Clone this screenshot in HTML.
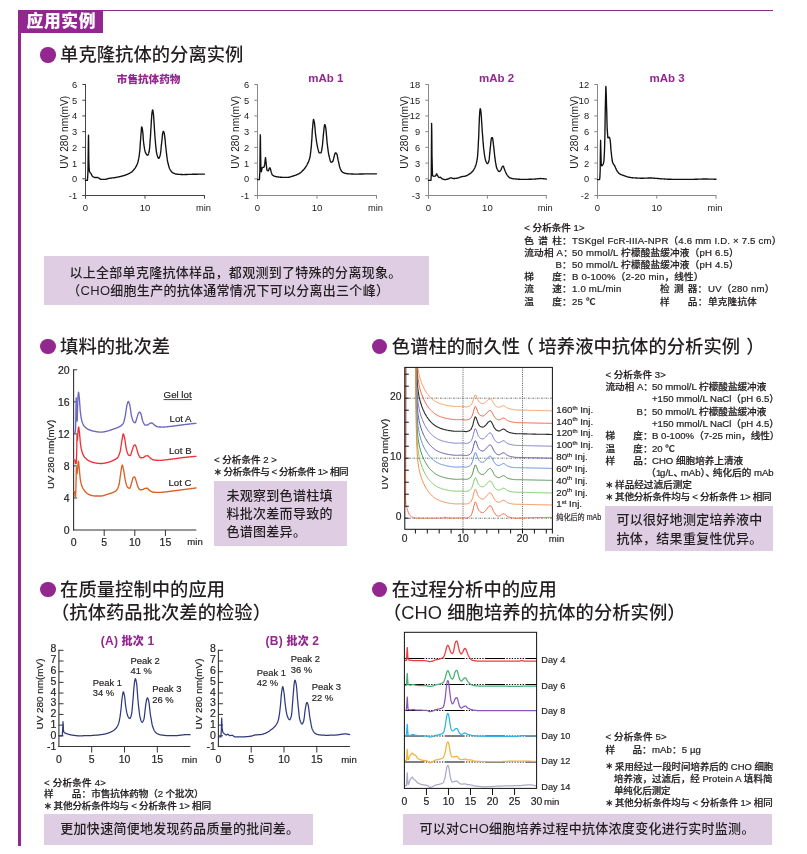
<!DOCTYPE html>
<html lang="zh-CN">
<head>
<meta charset="utf-8">
<title>应用实例</title>
<style>
html,body{margin:0;padding:0;background:#fff;}
body{width:807px;height:854px;position:relative;overflow:hidden;font-family:"Liberation Sans", "Noto Sans CJK SC", sans-serif;color:#231f20;}
.t{position:absolute;white-space:nowrap;margin:0;padding:0;}
.b{position:absolute;}
svg{position:absolute;left:0;top:0;}
svg text{font-family:"Liberation Sans", "Noto Sans CJK SC", sans-serif;}
.j{display:inline-block;}
.h{font-feature-settings:"halt" 1;}
.as{display:inline-block;width:1.25em;font-size:0.8em;letter-spacing:0;text-align:left;position:relative;top:-0.3px;-webkit-text-stroke:0.45px currentColor;}
sup{font-size:62%;vertical-align:baseline;position:relative;top:-0.42em;line-height:0;}
</style>
</head>
<body>
<div class="b" style="left:18.00px;top:10.00px;width:3.00px;height:835.70px;background:#92278f"></div>
<div class="b" style="left:18.00px;top:10.00px;width:755.00px;height:1.20px;background:#92278f"></div>
<div class="b" style="left:18.00px;top:10.00px;width:85.00px;height:23.00px;background:#92278f"></div>
<div class="b" style="left:44.00px;top:256.00px;width:385.00px;height:48.60px;background:#dfcde4"></div>
<div class="b" style="left:214.00px;top:481.00px;width:132.50px;height:64.50px;background:#dfcde4"></div>
<div class="b" style="left:605.00px;top:506.20px;width:168.00px;height:44.60px;background:#dfcde4"></div>
<div class="b" style="left:44.00px;top:814.00px;width:269.30px;height:31.00px;background:#dfcde4"></div>
<div class="b" style="left:403.20px;top:814.00px;width:369.00px;height:31.00px;background:#dfcde4"></div>
<svg width="807" height="854" viewBox="0 0 807 854">
<line x1="85.50" y1="84.20" x2="85.50" y2="196.00" stroke="#444" stroke-width="1.0"/>
<line x1="85.00" y1="195.50" x2="204.90" y2="195.50" stroke="#444" stroke-width="1.0"/>
<line x1="82.30" y1="84.50" x2="85.50" y2="84.50" stroke="#444" stroke-width="1.0"/>
<text x="77.10" y="88.03" text-anchor="end" font-size="9.3" fill="#1a1a1a">6</text>
<line x1="82.30" y1="100.22" x2="85.50" y2="100.22" stroke="#444" stroke-width="1.0"/>
<text x="77.10" y="103.75" text-anchor="end" font-size="9.3" fill="#1a1a1a">5</text>
<line x1="82.30" y1="115.93" x2="85.50" y2="115.93" stroke="#444" stroke-width="1.0"/>
<text x="77.10" y="119.46" text-anchor="end" font-size="9.3" fill="#1a1a1a">4</text>
<line x1="82.30" y1="131.65" x2="85.50" y2="131.65" stroke="#444" stroke-width="1.0"/>
<text x="77.10" y="135.18" text-anchor="end" font-size="9.3" fill="#1a1a1a">3</text>
<line x1="82.30" y1="147.37" x2="85.50" y2="147.37" stroke="#444" stroke-width="1.0"/>
<text x="77.10" y="150.90" text-anchor="end" font-size="9.3" fill="#1a1a1a">2</text>
<line x1="82.30" y1="163.08" x2="85.50" y2="163.08" stroke="#444" stroke-width="1.0"/>
<text x="77.10" y="166.61" text-anchor="end" font-size="9.3" fill="#1a1a1a">1</text>
<line x1="82.30" y1="178.80" x2="85.50" y2="178.80" stroke="#444" stroke-width="1.0"/>
<text x="77.10" y="182.33" text-anchor="end" font-size="9.3" fill="#1a1a1a">0</text>
<line x1="82.30" y1="195.50" x2="85.50" y2="195.50" stroke="#444" stroke-width="1.0"/>
<text x="77.10" y="199.03" text-anchor="end" font-size="9.3" fill="#1a1a1a">-1</text>
<line x1="85.50" y1="195.50" x2="85.50" y2="198.70" stroke="#444" stroke-width="1.0"/>
<line x1="145.00" y1="195.50" x2="145.00" y2="198.70" stroke="#444" stroke-width="1.0"/>
<line x1="204.50" y1="195.50" x2="204.50" y2="198.70" stroke="#444" stroke-width="1.0"/>
<text x="85.50" y="211.40" text-anchor="middle" font-size="9.5" fill="#1a1a1a">0</text>
<text x="145.00" y="211.40" text-anchor="middle" font-size="9.5" fill="#1a1a1a">10</text>
<text x="203.50" y="211.33" text-anchor="middle" font-size="9.3" fill="#1a1a1a">min</text>
<text x="0" y="3.65" transform="translate(64.10 132.30) rotate(-90)" text-anchor="middle" font-size="10.2" fill="#1a1a1a">UV 280 nm(mV)</text>
<text x="148.60" y="83.19" text-anchor="middle" font-weight="900" font-size="10.6" fill="#92278f">市售抗体药物</text>
<path d="M85.5 180.4 L85.7 180.4 L86.0 180.4 L86.2 180.4 L86.5 180.4 L86.7 180.4 L86.9 180.4 L87.2 180.4 L87.4 180.4 L87.4 180.4 L87.6 178.1 L87.9 172.7 L88.0 169.4 L88.1 161.5 L88.4 139.4 L88.5 135.1 L88.6 139.7 L88.8 159.2 L89.0 164.7 L89.1 167.0 L89.3 170.3 L89.5 171.7 L89.6 171.7 L89.8 172.2 L90.0 172.5 L90.3 172.7 L90.5 172.9 L90.7 173.2 L90.9 173.3 L91.0 173.5 L91.2 173.9 L91.5 174.4 L91.7 174.9 L91.9 175.4 L92.2 175.9 L92.4 176.2 L92.6 176.4 L92.7 176.5 L92.9 176.6 L93.1 176.8 L93.4 177.0 L93.6 177.1 L93.8 177.2 L94.1 177.3 L94.3 177.4 L94.6 177.5 L94.8 177.5 L95.0 177.5 L95.0 177.5 L95.3 177.5 L95.5 177.5 L95.8 177.5 L96.0 177.5 L96.2 177.5 L96.5 177.5 L96.7 177.5 L96.9 177.5 L97.2 177.5 L97.4 177.5 L97.4 177.5 L97.7 177.6 L97.9 177.6 L98.1 177.7 L98.4 177.8 L98.6 178.0 L98.9 178.1 L99.1 178.3 L99.3 178.5 L99.6 178.6 L99.8 178.8 L100.0 178.9 L100.3 179.1 L100.5 179.2 L100.8 179.2 L101.0 179.3 L101.0 179.3 L101.2 179.3 L101.5 179.3 L101.7 179.3 L102.0 179.3 L102.2 179.4 L102.4 179.4 L102.7 179.4 L102.9 179.4 L103.1 179.4 L103.4 179.4 L103.6 179.4 L103.9 179.4 L104.1 179.4 L104.3 179.4 L104.5 179.4 L104.6 179.4 L104.8 179.4 L105.1 179.4 L105.3 179.4 L105.5 179.3 L105.8 179.3 L106.0 179.2 L106.2 179.2 L106.5 179.1 L106.7 179.0 L107.0 179.0 L107.2 178.9 L107.4 178.8 L107.7 178.7 L107.9 178.7 L108.2 178.6 L108.4 178.5 L108.6 178.5 L108.9 178.4 L109.1 178.4 L109.3 178.3 L109.3 178.3 L109.6 178.3 L109.8 178.2 L110.1 178.2 L110.3 178.2 L110.5 178.1 L110.8 178.1 L111.0 178.1 L111.3 178.1 L111.5 178.0 L111.7 178.0 L112.0 178.0 L112.2 177.9 L112.4 177.9 L112.7 177.9 L112.9 177.9 L113.2 177.8 L113.4 177.8 L113.6 177.8 L113.9 177.7 L114.1 177.7 L114.4 177.7 L114.6 177.6 L114.8 177.6 L115.1 177.6 L115.2 177.5 L115.3 177.5 L115.5 177.5 L115.8 177.5 L116.0 177.4 L116.3 177.4 L116.5 177.3 L116.7 177.3 L117.0 177.2 L117.2 177.2 L117.5 177.1 L117.7 177.1 L117.9 177.0 L118.2 177.0 L118.4 176.9 L118.6 176.9 L118.9 176.8 L119.1 176.8 L119.4 176.7 L119.6 176.7 L119.8 176.6 L120.1 176.6 L120.3 176.5 L120.6 176.4 L120.8 176.4 L121.0 176.3 L121.2 176.3 L121.3 176.3 L121.5 176.2 L121.7 176.1 L122.0 176.1 L122.2 176.0 L122.5 176.0 L122.7 175.9 L122.9 175.8 L123.2 175.8 L123.4 175.7 L123.7 175.6 L123.9 175.5 L124.1 175.5 L124.4 175.4 L124.6 175.3 L124.8 175.2 L125.1 175.2 L125.3 175.1 L125.6 175.0 L125.8 174.9 L126.0 174.8 L126.3 174.7 L126.5 174.7 L126.8 174.6 L127.0 174.5 L127.2 174.4 L127.2 174.4 L127.5 174.3 L127.7 174.2 L127.9 174.1 L128.2 174.0 L128.4 173.8 L128.7 173.7 L128.9 173.6 L129.1 173.5 L129.4 173.4 L129.6 173.2 L129.9 173.1 L130.1 173.0 L130.3 172.8 L130.6 172.7 L130.8 172.5 L131.0 172.4 L131.3 172.2 L131.5 172.0 L131.8 171.8 L131.9 171.7 L132.0 171.7 L132.2 171.5 L132.5 171.2 L132.7 171.0 L133.0 170.8 L133.2 170.5 L133.4 170.3 L133.7 170.0 L133.9 169.7 L134.1 169.4 L134.4 169.1 L134.6 168.8 L134.9 168.4 L135.1 168.1 L135.3 167.7 L135.5 167.5 L135.6 167.3 L135.8 166.9 L136.1 166.5 L136.3 166.1 L136.5 165.7 L136.8 165.2 L137.0 164.6 L137.2 164.1 L137.5 163.4 L137.7 162.7 L137.9 162.3 L138.0 161.9 L138.2 161.0 L138.4 159.9 L138.7 158.7 L138.9 157.3 L139.2 155.8 L139.4 154.0 L139.6 152.2 L139.6 152.1 L139.9 149.8 L140.1 146.6 L140.3 143.1 L140.6 139.6 L140.8 136.5 L140.8 136.4 L141.1 133.3 L141.3 130.1 L141.5 127.6 L141.7 126.9 L141.8 127.0 L142.0 127.5 L142.3 128.7 L142.5 130.1 L142.6 130.9 L142.7 131.7 L143.0 134.3 L143.2 137.4 L143.4 140.5 L143.7 143.2 L143.8 144.2 L143.9 145.0 L144.2 146.6 L144.4 148.0 L144.6 149.4 L144.9 150.5 L145.1 151.5 L145.4 152.3 L145.6 152.9 L145.6 152.9 L145.8 153.3 L146.1 153.7 L146.3 154.1 L146.6 154.4 L146.8 154.7 L147.0 154.9 L147.3 155.1 L147.5 155.2 L147.7 155.2 L147.7 155.2 L148.0 155.0 L148.2 154.6 L148.5 154.0 L148.7 153.2 L148.9 152.3 L149.2 151.3 L149.2 151.3 L149.4 149.7 L149.7 147.3 L149.9 144.3 L150.1 140.9 L150.4 137.4 L150.6 133.9 L150.7 133.2 L150.8 130.3 L151.1 126.0 L151.3 121.6 L151.6 117.7 L151.8 114.8 L151.8 114.4 L152.0 112.8 L152.3 111.1 L152.5 110.1 L152.6 110.0 L152.8 110.1 L153.0 111.1 L153.2 112.7 L153.4 114.4 L153.5 114.5 L153.7 117.0 L153.9 120.6 L154.2 124.6 L154.4 128.8 L154.7 132.6 L154.8 134.8 L154.9 135.8 L155.1 138.7 L155.4 141.7 L155.6 144.5 L155.9 147.1 L156.1 149.4 L156.3 151.3 L156.6 152.7 L156.6 152.9 L156.8 153.7 L157.0 154.7 L157.3 155.6 L157.5 156.4 L157.8 157.0 L158.0 157.6 L158.2 158.0 L158.5 158.3 L158.7 158.4 L158.7 158.4 L159.0 158.2 L159.2 157.9 L159.4 157.4 L159.7 156.8 L159.9 156.1 L160.1 155.3 L160.2 155.2 L160.4 154.2 L160.6 152.6 L160.9 150.4 L161.1 148.1 L161.3 145.7 L161.6 143.4 L161.7 142.7 L161.8 141.3 L162.1 138.8 L162.3 136.4 L162.5 134.2 L162.8 132.7 L162.9 132.4 L163.0 132.0 L163.2 131.5 L163.4 131.3 L163.5 131.3 L163.7 131.7 L164.0 132.4 L164.2 133.4 L164.3 134.0 L164.4 134.5 L164.7 136.1 L164.9 138.2 L165.2 140.6 L165.4 143.2 L165.6 145.6 L165.8 147.4 L165.9 147.7 L166.1 149.8 L166.3 151.9 L166.6 154.1 L166.8 156.1 L167.1 158.0 L167.3 159.7 L167.5 161.1 L167.6 161.5 L167.8 162.3 L168.0 163.3 L168.3 164.3 L168.5 165.2 L168.7 166.1 L169.0 166.9 L169.2 167.6 L169.4 168.2 L169.7 168.8 L169.9 169.2 L170.0 169.4 L170.2 169.7 L170.4 170.1 L170.6 170.4 L170.9 170.8 L171.1 171.1 L171.4 171.4 L171.6 171.7 L171.8 171.9 L172.1 172.2 L172.3 172.4 L172.5 172.6 L172.8 172.7 L173.0 172.8 L173.0 172.9 L173.3 173.0 L173.5 173.1 L173.7 173.2 L174.0 173.3 L174.2 173.4 L174.5 173.5 L174.7 173.6 L174.9 173.7 L175.2 173.8 L175.4 173.9 L175.6 173.9 L175.9 174.0 L176.1 174.0 L176.4 174.1 L176.5 174.1 L176.6 174.1 L176.8 174.1 L177.1 174.1 L177.3 174.2 L177.6 174.2 L177.8 174.2 L178.0 174.3 L178.3 174.3 L178.5 174.3 L178.7 174.3 L179.0 174.3 L179.2 174.4 L179.5 174.4 L179.7 174.4 L179.9 174.4 L180.2 174.4 L180.4 174.4 L180.7 174.5 L180.9 174.5 L181.1 174.5 L181.4 174.5 L181.6 174.5 L181.8 174.5 L182.1 174.5 L182.3 174.5 L182.6 174.5 L182.8 174.5 L183.0 174.6 L183.3 174.6 L183.5 174.6 L183.7 174.6 L183.8 174.6 L184.0 174.6 L184.2 174.6 L184.5 174.6 L184.7 174.5 L184.9 174.5 L185.2 174.5 L185.4 174.5 L185.7 174.5 L185.9 174.5 L186.1 174.5 L186.4 174.5 L186.6 174.5 L186.9 174.5 L187.1 174.5 L187.3 174.5 L187.6 174.4 L187.8 174.4 L188.0 174.4 L188.3 174.4 L188.5 174.4 L188.8 174.4 L189.0 174.4 L189.2 174.4 L189.5 174.4 L189.7 174.3 L190.0 174.3 L190.2 174.3 L190.4 174.3 L190.7 174.3 L190.9 174.3 L191.1 174.3 L191.4 174.3 L191.6 174.3 L191.9 174.3 L192.1 174.3 L192.3 174.2 L192.6 174.2 L192.6 174.2 L192.8 174.2 L193.1 174.2 L193.3 174.2 L193.5 174.2 L193.8 174.2 L194.0 174.2 L194.2 174.2 L194.5 174.2 L194.7 174.2 L195.0 174.2 L195.2 174.2 L195.4 174.2 L195.7 174.2 L195.9 174.2 L196.2 174.2 L196.4 174.2 L196.6 174.2 L196.9 174.2 L197.1 174.2 L197.3 174.2 L197.6 174.2 L197.8 174.1 L198.1 174.1 L198.3 174.1 L198.5 174.1 L198.8 174.1 L199.0 174.1 L199.3 174.1 L199.5 174.1 L199.7 174.1 L200.0 174.1 L200.2 174.1 L200.4 174.1 L200.7 174.1 L200.9 174.1 L201.2 174.1 L201.4 174.1 L201.6 174.1 L201.9 174.1 L202.1 174.1 L202.4 174.1 L202.6 174.1 L202.8 174.1 L203.1 174.1 L203.3 174.1 L203.5 174.1 L203.8 174.1 L204.0 174.1 L204.3 174.1 L204.5 174.1" fill="none" stroke="#111" stroke-width="1.35" stroke-linejoin="round" stroke-linecap="round"/>
<line x1="257.50" y1="84.20" x2="257.50" y2="196.00" stroke="#888" stroke-width="1.0"/>
<line x1="257.00" y1="195.50" x2="376.90" y2="195.50" stroke="#888" stroke-width="1.0"/>
<line x1="254.30" y1="84.50" x2="257.50" y2="84.50" stroke="#888" stroke-width="1.0"/>
<text x="249.10" y="88.03" text-anchor="end" font-size="9.3" fill="#1a1a1a">6</text>
<line x1="254.30" y1="100.22" x2="257.50" y2="100.22" stroke="#888" stroke-width="1.0"/>
<text x="249.10" y="103.75" text-anchor="end" font-size="9.3" fill="#1a1a1a">5</text>
<line x1="254.30" y1="115.93" x2="257.50" y2="115.93" stroke="#888" stroke-width="1.0"/>
<text x="249.10" y="119.46" text-anchor="end" font-size="9.3" fill="#1a1a1a">4</text>
<line x1="254.30" y1="131.65" x2="257.50" y2="131.65" stroke="#888" stroke-width="1.0"/>
<text x="249.10" y="135.18" text-anchor="end" font-size="9.3" fill="#1a1a1a">3</text>
<line x1="254.30" y1="147.37" x2="257.50" y2="147.37" stroke="#888" stroke-width="1.0"/>
<text x="249.10" y="150.90" text-anchor="end" font-size="9.3" fill="#1a1a1a">2</text>
<line x1="254.30" y1="163.08" x2="257.50" y2="163.08" stroke="#888" stroke-width="1.0"/>
<text x="249.10" y="166.61" text-anchor="end" font-size="9.3" fill="#1a1a1a">1</text>
<line x1="254.30" y1="178.80" x2="257.50" y2="178.80" stroke="#888" stroke-width="1.0"/>
<text x="249.10" y="182.33" text-anchor="end" font-size="9.3" fill="#1a1a1a">0</text>
<line x1="254.30" y1="195.50" x2="257.50" y2="195.50" stroke="#888" stroke-width="1.0"/>
<text x="249.10" y="199.03" text-anchor="end" font-size="9.3" fill="#1a1a1a">-1</text>
<line x1="257.50" y1="195.50" x2="257.50" y2="198.70" stroke="#888" stroke-width="1.0"/>
<line x1="317.00" y1="195.50" x2="317.00" y2="198.70" stroke="#888" stroke-width="1.0"/>
<line x1="376.50" y1="195.50" x2="376.50" y2="198.70" stroke="#888" stroke-width="1.0"/>
<text x="257.50" y="211.40" text-anchor="middle" font-size="9.5" fill="#1a1a1a">0</text>
<text x="317.00" y="211.40" text-anchor="middle" font-size="9.5" fill="#1a1a1a">10</text>
<text x="375.50" y="211.33" text-anchor="middle" font-size="9.3" fill="#1a1a1a">min</text>
<text x="0" y="3.65" transform="translate(235.30 132.30) rotate(-90)" text-anchor="middle" font-size="10.2" fill="#1a1a1a">UV 280 nm(mV)</text>
<text x="325.80" y="82.42" text-anchor="middle" font-weight="700" font-size="11.5" fill="#92278f">mAb 1</text>
<path d="M257.5 179.6 L257.7 179.6 L258.0 179.6 L258.2 179.6 L258.5 179.6 L258.7 179.6 L258.9 179.6 L259.2 179.6 L259.3 179.6 L259.4 179.2 L259.6 176.1 L259.9 170.9 L259.9 170.8 L260.1 147.3 L260.3 134.8 L260.4 136.0 L260.6 152.5 L260.8 163.1 L260.8 165.1 L261.1 170.9 L261.2 171.7 L261.3 171.6 L261.6 170.7 L261.8 169.5 L262.0 168.4 L262.3 167.8 L262.3 167.8 L262.5 167.6 L262.7 167.5 L263.0 167.5 L263.2 167.4 L263.5 167.3 L263.7 167.2 L263.9 167.1 L264.0 167.0 L264.2 166.8 L264.4 165.7 L264.7 164.2 L264.9 162.6 L264.9 162.3 L265.1 160.6 L265.4 158.2 L265.5 157.6 L265.6 157.8 L265.8 159.9 L266.1 162.7 L266.1 163.1 L266.3 164.9 L266.6 167.3 L266.8 169.3 L267.0 170.2 L267.0 170.2 L267.3 170.5 L267.5 170.7 L267.8 170.8 L268.0 170.9 L268.2 170.9 L268.2 170.9 L268.5 170.6 L268.7 170.0 L268.9 169.2 L269.2 168.5 L269.4 168.1 L269.4 168.1 L269.7 167.9 L269.9 167.8 L270.0 167.8 L270.1 168.0 L270.4 168.8 L270.6 169.8 L270.9 170.8 L270.9 170.9 L271.1 171.6 L271.3 172.4 L271.6 173.1 L271.8 173.8 L272.0 174.4 L272.3 174.8 L272.4 174.9 L272.5 175.0 L272.8 175.2 L273.0 175.4 L273.2 175.6 L273.5 175.7 L273.7 175.9 L274.0 176.0 L274.2 176.1 L274.4 176.2 L274.7 176.3 L274.9 176.3 L275.1 176.4 L275.4 176.4 L275.4 176.5 L275.6 176.5 L275.9 176.6 L276.1 176.6 L276.3 176.7 L276.6 176.7 L276.8 176.7 L277.1 176.8 L277.3 176.8 L277.5 176.9 L277.8 176.9 L278.0 176.9 L278.2 177.0 L278.5 177.0 L278.7 177.0 L279.0 177.0 L279.2 177.1 L279.4 177.1 L279.7 177.1 L279.9 177.1 L280.2 177.2 L280.4 177.2 L280.6 177.2 L280.9 177.2 L281.1 177.2 L281.3 177.2 L281.3 177.2 L281.6 177.2 L281.8 177.3 L282.1 177.3 L282.3 177.3 L282.5 177.3 L282.8 177.3 L283.0 177.3 L283.3 177.3 L283.5 177.3 L283.7 177.3 L284.0 177.3 L284.2 177.3 L284.4 177.3 L284.7 177.4 L284.9 177.4 L285.2 177.4 L285.4 177.4 L285.6 177.4 L285.9 177.4 L286.1 177.4 L286.4 177.4 L286.6 177.4 L286.8 177.4 L287.1 177.4 L287.2 177.4 L287.3 177.4 L287.5 177.4 L287.8 177.4 L288.0 177.3 L288.3 177.3 L288.5 177.3 L288.7 177.2 L289.0 177.2 L289.2 177.2 L289.5 177.1 L289.7 177.0 L289.9 177.0 L290.2 176.9 L290.4 176.8 L290.6 176.8 L290.9 176.7 L291.1 176.6 L291.4 176.6 L291.6 176.5 L291.8 176.4 L292.1 176.3 L292.3 176.2 L292.6 176.2 L292.8 176.1 L293.0 176.0 L293.2 176.0 L293.3 175.9 L293.5 175.9 L293.7 175.8 L294.0 175.7 L294.2 175.7 L294.5 175.6 L294.7 175.5 L294.9 175.4 L295.2 175.3 L295.4 175.3 L295.7 175.2 L295.9 175.1 L296.1 175.0 L296.4 174.9 L296.6 174.8 L296.8 174.7 L297.1 174.6 L297.3 174.5 L297.6 174.4 L297.8 174.3 L298.0 174.2 L298.3 174.1 L298.5 174.0 L298.8 173.8 L299.0 173.7 L299.1 173.6 L299.2 173.6 L299.5 173.4 L299.7 173.3 L299.9 173.1 L300.2 172.9 L300.4 172.8 L300.7 172.6 L300.9 172.4 L301.1 172.2 L301.4 172.0 L301.6 171.8 L301.9 171.5 L302.1 171.3 L302.3 171.1 L302.6 170.8 L302.8 170.6 L303.0 170.3 L303.3 170.1 L303.5 169.8 L303.8 169.5 L303.9 169.4 L304.0 169.3 L304.2 169.0 L304.5 168.7 L304.7 168.4 L305.0 168.1 L305.2 167.7 L305.4 167.4 L305.7 167.0 L305.9 166.7 L306.1 166.3 L306.4 165.9 L306.6 165.5 L306.9 165.0 L307.1 164.6 L307.3 164.1 L307.5 163.9 L307.6 163.7 L307.8 163.2 L308.1 162.7 L308.3 162.2 L308.5 161.7 L308.8 161.1 L309.0 160.5 L309.2 159.8 L309.5 159.0 L309.7 158.1 L309.9 157.6 L310.0 157.1 L310.2 155.8 L310.4 154.1 L310.7 152.2 L310.9 150.1 L311.2 147.7 L311.3 145.8 L311.4 145.3 L311.6 142.1 L311.9 138.4 L312.1 134.5 L312.3 130.9 L312.5 128.5 L312.6 127.9 L312.8 125.1 L313.1 122.3 L313.3 120.2 L313.5 119.4 L313.5 119.4 L313.8 119.8 L314.0 120.7 L314.3 121.9 L314.3 122.2 L314.5 123.3 L314.7 125.3 L315.0 127.8 L315.2 130.5 L315.4 133.1 L315.7 135.4 L315.8 136.4 L315.9 137.2 L316.2 139.0 L316.4 140.7 L316.6 142.2 L316.9 143.7 L317.1 145.1 L317.4 146.3 L317.6 147.4 L317.6 147.4 L317.8 148.4 L318.1 149.4 L318.3 150.4 L318.6 151.3 L318.8 152.0 L319.0 152.5 L319.3 152.8 L319.4 152.9 L319.5 152.9 L319.7 152.9 L320.0 152.9 L320.2 152.9 L320.5 152.9 L320.7 152.9 L320.9 152.9 L320.9 152.8 L321.2 152.4 L321.4 151.6 L321.7 150.4 L321.9 148.9 L322.1 147.3 L322.4 145.8 L322.4 145.7 L322.6 143.7 L322.8 141.1 L323.1 138.2 L323.3 135.4 L323.5 133.2 L323.6 133.1 L323.8 130.9 L324.0 128.6 L324.3 126.5 L324.5 125.1 L324.7 124.6 L324.8 124.6 L325.0 124.8 L325.2 125.4 L325.5 126.3 L325.6 126.9 L325.7 127.3 L325.9 129.1 L326.2 131.6 L326.4 134.6 L326.7 137.6 L326.9 140.5 L327.1 142.7 L327.1 142.8 L327.4 144.8 L327.6 146.8 L327.9 148.7 L328.1 150.5 L328.3 152.1 L328.6 153.6 L328.8 154.8 L328.9 155.2 L329.0 155.8 L329.3 156.9 L329.5 157.9 L329.8 158.8 L330.0 159.7 L330.2 160.5 L330.5 161.2 L330.7 161.7 L331.0 162.1 L331.2 162.3 L331.3 162.3 L331.4 162.3 L331.7 162.2 L331.9 162.1 L332.1 162.0 L332.4 161.8 L332.6 161.6 L332.8 161.5 L332.9 161.4 L333.1 160.8 L333.3 159.9 L333.6 158.9 L333.8 157.8 L334.1 156.7 L334.3 156.0 L334.3 155.9 L334.5 155.1 L334.8 154.3 L335.0 153.5 L335.2 153.0 L335.4 152.9 L335.5 152.9 L335.7 152.9 L336.0 153.0 L336.2 153.2 L336.4 153.4 L336.6 153.7 L336.7 153.7 L336.9 154.3 L337.2 155.2 L337.4 156.3 L337.6 157.5 L337.9 158.8 L338.1 159.9 L338.1 159.9 L338.3 160.9 L338.6 162.0 L338.8 163.1 L339.1 164.3 L339.3 165.4 L339.5 166.4 L339.8 167.3 L340.0 168.1 L340.2 168.6 L340.3 168.7 L340.5 169.2 L340.7 169.7 L341.0 170.2 L341.2 170.6 L341.4 171.0 L341.7 171.3 L341.9 171.6 L342.2 171.9 L342.4 172.1 L342.6 172.2 L342.6 172.2 L342.9 172.4 L343.1 172.5 L343.4 172.6 L343.6 172.7 L343.8 172.8 L344.1 172.9 L344.3 173.0 L344.5 173.1 L344.8 173.2 L345.0 173.3 L345.3 173.3 L345.5 173.4 L345.7 173.5 L346.0 173.5 L346.2 173.5 L346.5 173.6 L346.7 173.6 L346.8 173.6 L346.9 173.6 L347.2 173.7 L347.4 173.7 L347.6 173.7 L347.9 173.7 L348.1 173.7 L348.4 173.8 L348.6 173.8 L348.8 173.8 L349.1 173.8 L349.3 173.8 L349.6 173.9 L349.8 173.9 L350.0 173.9 L350.3 173.9 L350.5 173.9 L350.7 173.9 L351.0 173.9 L351.2 174.0 L351.5 174.0 L351.7 174.0 L351.9 174.0 L352.2 174.0 L352.4 174.0 L352.7 174.0 L352.9 174.0 L353.1 174.0 L353.4 174.1 L353.6 174.1 L353.8 174.1 L354.1 174.1 L354.3 174.1 L354.6 174.1 L354.8 174.1 L355.0 174.1 L355.3 174.1 L355.5 174.1 L355.7 174.1 L355.8 174.1 L356.0 174.1 L356.2 174.1 L356.5 174.1 L356.7 174.1 L356.9 174.1 L357.2 174.1 L357.4 174.1 L357.7 174.1 L357.9 174.1 L358.1 174.1 L358.4 174.1 L358.6 174.1 L358.9 174.1 L359.1 174.0 L359.3 174.0 L359.6 174.0 L359.8 174.0 L360.0 174.0 L360.3 174.0 L360.5 174.0 L360.8 174.0 L361.0 174.0 L361.2 174.0 L361.5 174.0 L361.7 174.0 L362.0 174.0 L362.2 174.0 L362.4 174.0 L362.7 174.0 L362.9 174.0 L363.1 174.0 L363.4 173.9 L363.6 173.9 L363.9 173.9 L364.1 173.9 L364.3 173.9 L364.6 173.9 L364.6 173.9 L364.8 173.9 L365.1 173.9 L365.3 173.9 L365.5 173.9 L365.8 173.9 L366.0 173.9 L366.2 173.9 L366.5 173.9 L366.7 173.9 L367.0 173.9 L367.2 173.9 L367.4 173.9 L367.7 173.9 L367.9 173.9 L368.2 173.9 L368.4 173.9 L368.6 173.9 L368.9 173.9 L369.1 173.9 L369.3 173.9 L369.6 173.9 L369.8 173.9 L370.1 173.8 L370.3 173.8 L370.5 173.8 L370.8 173.8 L371.0 173.8 L371.3 173.8 L371.5 173.8 L371.7 173.8 L372.0 173.8 L372.2 173.8 L372.4 173.8 L372.7 173.8 L372.9 173.8 L373.2 173.8 L373.4 173.8 L373.6 173.8 L373.9 173.8 L374.1 173.8 L374.4 173.8 L374.6 173.8 L374.8 173.8 L375.1 173.8 L375.3 173.8 L375.5 173.8 L375.8 173.8 L376.0 173.8 L376.3 173.8 L376.5 173.8" fill="none" stroke="#111" stroke-width="1.35" stroke-linejoin="round" stroke-linecap="round"/>
<line x1="428.50" y1="84.20" x2="428.50" y2="196.00" stroke="#888" stroke-width="1.0"/>
<line x1="428.00" y1="195.50" x2="546.70" y2="195.50" stroke="#888" stroke-width="1.0"/>
<line x1="425.30" y1="84.50" x2="428.50" y2="84.50" stroke="#888" stroke-width="1.0"/>
<text x="420.10" y="88.03" text-anchor="end" font-size="9.3" fill="#1a1a1a">18</text>
<line x1="425.30" y1="100.22" x2="428.50" y2="100.22" stroke="#888" stroke-width="1.0"/>
<text x="420.10" y="103.75" text-anchor="end" font-size="9.3" fill="#1a1a1a">15</text>
<line x1="425.30" y1="115.93" x2="428.50" y2="115.93" stroke="#888" stroke-width="1.0"/>
<text x="420.10" y="119.46" text-anchor="end" font-size="9.3" fill="#1a1a1a">12</text>
<line x1="425.30" y1="131.65" x2="428.50" y2="131.65" stroke="#888" stroke-width="1.0"/>
<text x="420.10" y="135.18" text-anchor="end" font-size="9.3" fill="#1a1a1a">9</text>
<line x1="425.30" y1="147.37" x2="428.50" y2="147.37" stroke="#888" stroke-width="1.0"/>
<text x="420.10" y="150.90" text-anchor="end" font-size="9.3" fill="#1a1a1a">6</text>
<line x1="425.30" y1="163.08" x2="428.50" y2="163.08" stroke="#888" stroke-width="1.0"/>
<text x="420.10" y="166.61" text-anchor="end" font-size="9.3" fill="#1a1a1a">3</text>
<line x1="425.30" y1="178.80" x2="428.50" y2="178.80" stroke="#888" stroke-width="1.0"/>
<text x="420.10" y="182.33" text-anchor="end" font-size="9.3" fill="#1a1a1a">0</text>
<line x1="425.30" y1="195.50" x2="428.50" y2="195.50" stroke="#888" stroke-width="1.0"/>
<text x="420.10" y="199.03" text-anchor="end" font-size="9.3" fill="#1a1a1a">-3</text>
<line x1="428.50" y1="195.50" x2="428.50" y2="198.70" stroke="#888" stroke-width="1.0"/>
<line x1="487.40" y1="195.50" x2="487.40" y2="198.70" stroke="#888" stroke-width="1.0"/>
<line x1="546.30" y1="195.50" x2="546.30" y2="198.70" stroke="#888" stroke-width="1.0"/>
<text x="428.50" y="211.40" text-anchor="middle" font-size="9.5" fill="#1a1a1a">0</text>
<text x="487.40" y="211.40" text-anchor="middle" font-size="9.5" fill="#1a1a1a">10</text>
<text x="545.30" y="211.33" text-anchor="middle" font-size="9.3" fill="#1a1a1a">min</text>
<text x="0" y="3.65" transform="translate(404.10 132.30) rotate(-90)" text-anchor="middle" font-size="10.2" fill="#1a1a1a">UV 280 nm(mV)</text>
<text x="496.50" y="82.42" text-anchor="middle" font-weight="700" font-size="11.5" fill="#92278f">mAb 2</text>
<path d="M428.5 180.4 L428.7 180.4 L429.0 180.4 L429.2 180.4 L429.4 180.4 L429.7 180.4 L429.9 180.4 L430.2 180.4 L430.4 180.4 L430.6 180.4 L430.9 180.4 L430.9 180.4 L431.1 177.9 L431.3 173.6 L431.3 167.8 L431.6 126.1 L431.6 123.3 L431.8 132.6 L432.0 155.9 L432.2 163.1 L432.3 167.9 L432.5 174.6 L432.6 175.7 L432.7 175.8 L433.0 176.0 L433.2 176.1 L433.5 176.1 L433.7 176.2 L433.8 176.2 L433.9 176.2 L434.2 176.2 L434.4 176.1 L434.6 176.1 L434.9 176.1 L435.1 176.0 L435.3 176.0 L435.6 175.9 L435.6 175.9 L435.8 175.6 L436.1 175.1 L436.3 174.5 L436.5 174.0 L436.7 173.8 L436.8 173.8 L437.0 174.1 L437.2 174.7 L437.5 175.3 L437.6 175.7 L437.7 175.8 L437.9 176.2 L438.2 176.6 L438.4 176.9 L438.7 177.2 L438.9 177.4 L439.1 177.5 L439.1 177.5 L439.4 177.5 L439.6 177.4 L439.8 177.3 L440.1 177.3 L440.3 177.2 L440.3 177.2 L440.5 177.3 L440.8 177.5 L441.0 177.7 L441.2 178.0 L441.5 178.3 L441.7 178.6 L442.0 178.8 L442.0 178.8 L442.2 178.9 L442.4 179.0 L442.7 179.1 L442.9 179.1 L443.1 179.2 L443.4 179.3 L443.6 179.4 L443.8 179.4 L444.1 179.5 L444.3 179.5 L444.6 179.6 L444.8 179.6 L445.0 179.6 L445.0 179.6 L445.3 179.6 L445.5 179.6 L445.7 179.5 L446.0 179.5 L446.2 179.5 L446.4 179.4 L446.7 179.3 L446.9 179.3 L447.1 179.2 L447.4 179.2 L447.6 179.1 L447.9 179.0 L448.1 178.9 L448.3 178.9 L448.5 178.8 L448.6 178.8 L448.8 178.7 L449.0 178.6 L449.3 178.4 L449.5 178.3 L449.7 178.2 L450.0 178.0 L450.2 177.9 L450.5 177.8 L450.7 177.8 L450.9 177.8 L450.9 177.8 L451.2 177.8 L451.4 177.8 L451.6 177.9 L451.9 178.1 L452.1 178.2 L452.3 178.3 L452.6 178.4 L452.8 178.5 L453.1 178.5 L453.2 178.5 L453.3 178.5 L453.5 178.5 L453.8 178.5 L454.0 178.5 L454.2 178.5 L454.5 178.5 L454.7 178.5 L454.9 178.5 L455.2 178.4 L455.4 178.4 L455.6 178.4 L455.9 178.3 L456.1 178.3 L456.4 178.3 L456.6 178.2 L456.8 178.2 L457.1 178.2 L457.3 178.1 L457.5 178.1 L457.8 178.0 L457.9 178.0 L458.0 178.0 L458.2 177.9 L458.5 177.9 L458.7 177.8 L459.0 177.7 L459.2 177.6 L459.4 177.5 L459.7 177.4 L459.9 177.3 L460.1 177.2 L460.4 177.1 L460.6 177.0 L460.8 176.9 L461.1 176.8 L461.3 176.7 L461.5 176.7 L461.6 176.7 L461.8 176.6 L462.0 176.6 L462.3 176.6 L462.5 176.5 L462.7 176.5 L463.0 176.5 L463.2 176.5 L463.4 176.4 L463.7 176.4 L463.9 176.4 L464.1 176.3 L464.4 176.3 L464.6 176.3 L464.9 176.2 L465.0 176.2 L465.1 176.2 L465.3 176.1 L465.6 176.0 L465.8 176.0 L466.0 175.9 L466.3 175.8 L466.5 175.7 L466.7 175.6 L467.0 175.5 L467.2 175.3 L467.5 175.2 L467.7 175.1 L467.9 175.0 L468.2 174.8 L468.4 174.7 L468.6 174.5 L468.9 174.4 L469.1 174.2 L469.3 174.1 L469.6 173.9 L469.7 173.8 L469.8 173.8 L470.0 173.6 L470.3 173.4 L470.5 173.3 L470.8 173.1 L471.0 172.9 L471.2 172.7 L471.5 172.4 L471.7 172.2 L471.9 172.0 L472.2 171.7 L472.4 171.5 L472.6 171.2 L472.9 170.9 L473.1 170.6 L473.3 170.4 L473.4 170.3 L473.6 170.0 L473.8 169.6 L474.1 169.2 L474.3 168.8 L474.5 168.3 L474.8 167.8 L475.0 167.3 L475.2 166.7 L475.5 166.1 L475.6 165.7 L475.7 165.4 L476.0 164.7 L476.2 163.9 L476.4 163.1 L476.7 162.1 L476.9 160.9 L477.1 159.5 L477.4 158.0 L477.4 157.8 L477.6 155.8 L477.8 152.7 L478.1 148.8 L478.3 144.4 L478.5 139.9 L478.6 139.5 L478.8 134.3 L479.0 127.4 L479.3 120.9 L479.4 117.0 L479.5 116.3 L479.7 112.7 L480.0 109.9 L480.2 108.6 L480.2 108.6 L480.4 109.0 L480.7 110.2 L480.9 111.7 L480.9 111.7 L481.1 113.9 L481.4 117.2 L481.6 121.2 L481.9 125.3 L482.1 128.9 L482.1 129.0 L482.3 132.0 L482.6 135.2 L482.8 138.3 L483.0 141.3 L483.3 144.1 L483.5 146.7 L483.7 148.9 L483.9 150.0 L484.0 150.9 L484.2 152.7 L484.4 154.4 L484.7 156.0 L484.9 157.4 L485.2 158.6 L485.4 159.7 L485.6 160.5 L485.6 160.5 L485.9 161.1 L486.1 161.7 L486.3 162.3 L486.6 162.8 L486.8 163.1 L487.0 163.4 L487.3 163.6 L487.4 163.6 L487.5 163.6 L487.8 163.4 L488.0 163.1 L488.2 162.7 L488.5 162.1 L488.7 161.5 L488.9 161.0 L488.9 160.8 L489.2 159.4 L489.4 157.3 L489.6 154.8 L489.9 152.2 L490.1 149.6 L490.3 147.4 L490.4 147.3 L490.6 145.1 L490.8 142.6 L491.1 140.3 L491.3 138.6 L491.5 137.9 L491.5 137.9 L491.8 137.8 L492.0 137.7 L492.2 137.7 L492.4 137.7 L492.5 137.7 L492.7 138.6 L492.9 140.2 L493.2 142.3 L493.4 144.4 L493.6 145.8 L493.7 146.4 L493.9 148.4 L494.1 150.7 L494.4 153.0 L494.6 155.2 L494.8 157.2 L495.1 158.9 L495.1 159.0 L495.3 160.6 L495.5 162.2 L495.8 163.7 L496.0 165.0 L496.3 166.3 L496.5 167.3 L496.7 168.1 L496.8 168.3 L497.0 168.6 L497.2 169.1 L497.4 169.6 L497.7 170.0 L497.9 170.4 L498.1 170.7 L498.4 171.0 L498.6 171.2 L498.8 171.4 L499.1 171.5 L499.2 171.5 L499.3 171.5 L499.6 171.4 L499.8 171.2 L500.0 171.0 L500.3 170.7 L500.5 170.5 L500.7 170.2 L500.9 169.9 L501.0 169.9 L501.2 169.4 L501.4 168.8 L501.7 168.0 L501.9 167.4 L502.2 166.8 L502.4 166.5 L502.4 166.5 L502.6 166.4 L502.9 166.3 L503.1 166.2 L503.3 166.2 L503.3 166.2 L503.6 166.5 L503.8 167.2 L504.0 168.0 L504.3 168.8 L504.5 169.4 L504.5 169.5 L504.8 170.0 L505.0 170.6 L505.2 171.2 L505.5 171.8 L505.7 172.4 L505.9 172.9 L506.2 173.4 L506.4 173.9 L506.6 174.3 L506.8 174.6 L506.9 174.7 L507.1 175.0 L507.3 175.3 L507.6 175.7 L507.8 176.0 L508.1 176.3 L508.3 176.5 L508.5 176.8 L508.8 177.0 L509.0 177.2 L509.2 177.4 L509.5 177.6 L509.7 177.7 L509.8 177.8 L509.9 177.8 L510.2 177.9 L510.4 178.0 L510.7 178.1 L510.9 178.2 L511.1 178.2 L511.4 178.3 L511.6 178.4 L511.8 178.4 L512.1 178.5 L512.3 178.5 L512.5 178.6 L512.8 178.6 L513.0 178.7 L513.2 178.7 L513.5 178.8 L513.7 178.8 L513.9 178.8 L514.0 178.8 L514.2 178.8 L514.4 178.9 L514.7 178.9 L514.9 178.9 L515.1 178.9 L515.4 178.9 L515.6 179.0 L515.8 179.0 L516.1 179.0 L516.3 179.0 L516.6 179.0 L516.8 179.1 L517.0 179.1 L517.3 179.1 L517.5 179.1 L517.7 179.1 L518.0 179.2 L518.2 179.2 L518.4 179.2 L518.7 179.2 L518.9 179.2 L519.2 179.2 L519.4 179.2 L519.6 179.2 L519.9 179.3 L520.1 179.3 L520.3 179.3 L520.6 179.3 L520.8 179.3 L521.0 179.3 L521.3 179.3 L521.5 179.3 L521.7 179.3 L522.0 179.3 L522.2 179.3 L522.5 179.3 L522.7 179.3 L522.7 179.3 L522.9 179.3 L523.2 179.3 L523.4 179.3 L523.6 179.3 L523.9 179.3 L524.1 179.3 L524.3 179.3 L524.6 179.3 L524.8 179.3 L525.1 179.3 L525.3 179.3 L525.5 179.3 L525.8 179.3 L526.0 179.3 L526.2 179.3 L526.5 179.3 L526.7 179.3 L526.9 179.3 L527.2 179.3 L527.4 179.3 L527.7 179.3 L527.9 179.3 L528.1 179.3 L528.4 179.3 L528.6 179.2 L528.8 179.2 L529.1 179.2 L529.3 179.2 L529.5 179.2 L529.8 179.2 L530.0 179.2 L530.2 179.2 L530.5 179.2 L530.7 179.2 L531.0 179.2 L531.2 179.2 L531.4 179.2 L531.7 179.2 L531.9 179.2 L532.1 179.1 L532.4 179.1 L532.6 179.1 L532.8 179.1 L533.1 179.1 L533.3 179.1 L533.6 179.1 L533.8 179.1 L534.0 179.1 L534.3 179.1 L534.5 179.1 L534.5 179.1 L534.7 179.1 L535.0 179.0 L535.2 179.0 L535.4 179.0 L535.7 179.0 L535.9 179.0 L536.1 178.9 L536.4 178.9 L536.6 178.9 L536.9 178.8 L537.1 178.8 L537.3 178.8 L537.6 178.8 L537.8 178.7 L538.0 178.7 L538.3 178.7 L538.5 178.7 L538.7 178.6 L539.0 178.6 L539.2 178.6 L539.5 178.6 L539.7 178.6 L539.9 178.5 L540.2 178.5 L540.4 178.5 L540.4 178.5 L540.6 178.5 L540.9 178.5 L541.1 178.5 L541.3 178.6 L541.6 178.6 L541.8 178.6 L542.1 178.6 L542.3 178.6 L542.5 178.6 L542.8 178.6 L543.0 178.6 L543.2 178.7 L543.5 178.7 L543.7 178.7 L543.9 178.7 L544.2 178.8 L544.4 178.8 L544.6 178.8 L544.9 178.8 L545.1 178.9 L545.4 178.9 L545.6 178.9 L545.8 179.0 L546.1 179.0 L546.3 179.1" fill="none" stroke="#111" stroke-width="1.35" stroke-linejoin="round" stroke-linecap="round"/>
<line x1="597.50" y1="84.20" x2="597.50" y2="196.00" stroke="#888" stroke-width="1.0"/>
<line x1="597.00" y1="195.50" x2="716.40" y2="195.50" stroke="#888" stroke-width="1.0"/>
<line x1="594.30" y1="84.50" x2="597.50" y2="84.50" stroke="#888" stroke-width="1.0"/>
<text x="589.10" y="88.03" text-anchor="end" font-size="9.3" fill="#1a1a1a">12</text>
<line x1="594.30" y1="100.22" x2="597.50" y2="100.22" stroke="#888" stroke-width="1.0"/>
<text x="589.10" y="103.75" text-anchor="end" font-size="9.3" fill="#1a1a1a">10</text>
<line x1="594.30" y1="115.93" x2="597.50" y2="115.93" stroke="#888" stroke-width="1.0"/>
<text x="589.10" y="119.46" text-anchor="end" font-size="9.3" fill="#1a1a1a">8</text>
<line x1="594.30" y1="131.65" x2="597.50" y2="131.65" stroke="#888" stroke-width="1.0"/>
<text x="589.10" y="135.18" text-anchor="end" font-size="9.3" fill="#1a1a1a">6</text>
<line x1="594.30" y1="147.37" x2="597.50" y2="147.37" stroke="#888" stroke-width="1.0"/>
<text x="589.10" y="150.90" text-anchor="end" font-size="9.3" fill="#1a1a1a">4</text>
<line x1="594.30" y1="163.08" x2="597.50" y2="163.08" stroke="#888" stroke-width="1.0"/>
<text x="589.10" y="166.61" text-anchor="end" font-size="9.3" fill="#1a1a1a">2</text>
<line x1="594.30" y1="178.80" x2="597.50" y2="178.80" stroke="#888" stroke-width="1.0"/>
<text x="589.10" y="182.33" text-anchor="end" font-size="9.3" fill="#1a1a1a">0</text>
<line x1="594.30" y1="195.50" x2="597.50" y2="195.50" stroke="#888" stroke-width="1.0"/>
<text x="589.10" y="199.03" text-anchor="end" font-size="9.3" fill="#1a1a1a">-2</text>
<line x1="597.50" y1="195.50" x2="597.50" y2="198.70" stroke="#888" stroke-width="1.0"/>
<line x1="656.75" y1="195.50" x2="656.75" y2="198.70" stroke="#888" stroke-width="1.0"/>
<line x1="716.00" y1="195.50" x2="716.00" y2="198.70" stroke="#888" stroke-width="1.0"/>
<text x="597.50" y="211.40" text-anchor="middle" font-size="9.5" fill="#1a1a1a">0</text>
<text x="656.75" y="211.40" text-anchor="middle" font-size="9.5" fill="#1a1a1a">10</text>
<text x="715.00" y="211.33" text-anchor="middle" font-size="9.3" fill="#1a1a1a">min</text>
<text x="0" y="3.65" transform="translate(574.10 132.30) rotate(-90)" text-anchor="middle" font-size="10.2" fill="#1a1a1a">UV 280 nm(mV)</text>
<text x="667.00" y="82.42" text-anchor="middle" font-weight="700" font-size="11.5" fill="#92278f">mAb 3</text>
<path d="M597.5 179.6 L597.7 179.6 L598.0 179.6 L598.2 179.6 L598.4 179.6 L598.7 179.6 L598.9 179.6 L599.2 179.6 L599.4 179.6 L599.6 179.6 L599.6 179.5 L599.9 177.1 L600.1 172.3 L600.2 170.9 L600.3 156.8 L600.6 140.3 L600.6 140.3 L600.8 148.1 L601.1 160.2 L601.2 163.1 L601.3 164.2 L601.5 165.6 L601.6 165.8 L601.8 165.8 L602.0 165.7 L602.2 165.5 L602.5 165.2 L602.7 164.8 L602.8 164.7 L603.0 164.5 L603.2 164.0 L603.4 163.4 L603.7 162.5 L603.7 162.3 L603.9 160.8 L604.1 157.5 L604.4 152.8 L604.6 147.4 L604.6 147.0 L604.9 135.8 L605.1 120.5 L605.3 108.1 L605.3 107.4 L605.6 96.0 L605.8 87.5 L605.9 86.5 L606.0 88.1 L606.3 95.9 L606.5 104.1 L606.5 104.7 L606.8 113.5 L607.0 122.7 L607.2 129.4 L607.3 130.1 L607.5 133.1 L607.7 136.1 L607.9 137.8 L608.0 137.9 L608.2 137.9 L608.4 137.7 L608.7 137.4 L608.9 137.2 L609.1 137.2 L609.1 137.2 L609.4 137.4 L609.6 137.8 L609.8 138.5 L609.9 138.7 L610.1 139.4 L610.3 141.6 L610.6 144.5 L610.8 147.6 L611.0 150.4 L611.1 151.3 L611.3 152.6 L611.5 154.8 L611.7 156.9 L612.0 158.8 L612.2 160.5 L612.5 161.8 L612.6 162.3 L612.7 162.5 L612.9 163.1 L613.2 163.6 L613.4 164.0 L613.6 164.3 L613.9 164.6 L614.1 165.0 L614.4 165.3 L614.6 165.7 L614.7 165.8 L614.8 166.1 L615.1 166.6 L615.3 167.2 L615.5 167.8 L615.8 168.3 L616.0 168.9 L616.3 169.4 L616.5 170.0 L616.7 170.4 L617.0 170.8 L617.1 170.9 L617.2 171.2 L617.4 171.5 L617.7 171.8 L617.9 172.1 L618.2 172.4 L618.4 172.7 L618.6 172.9 L618.9 173.2 L619.1 173.4 L619.3 173.6 L619.6 173.8 L619.8 174.0 L620.0 174.1 L620.1 174.1 L620.3 174.2 L620.5 174.4 L620.8 174.5 L621.0 174.6 L621.2 174.7 L621.5 174.8 L621.7 174.9 L622.0 174.9 L622.2 175.0 L622.4 175.1 L622.7 175.2 L622.9 175.2 L623.1 175.3 L623.4 175.4 L623.6 175.5 L623.9 175.6 L624.1 175.6 L624.2 175.7 L624.3 175.7 L624.6 175.8 L624.8 175.9 L625.0 176.0 L625.3 176.1 L625.5 176.2 L625.8 176.3 L626.0 176.4 L626.2 176.4 L626.5 176.5 L626.7 176.6 L626.9 176.7 L627.2 176.8 L627.4 176.8 L627.7 176.9 L627.9 177.0 L628.1 177.0 L628.3 177.1 L628.4 177.1 L628.6 177.1 L628.8 177.2 L629.1 177.2 L629.3 177.3 L629.6 177.3 L629.8 177.4 L630.0 177.4 L630.3 177.4 L630.5 177.5 L630.7 177.5 L631.0 177.6 L631.2 177.6 L631.5 177.6 L631.7 177.6 L631.9 177.7 L632.2 177.7 L632.4 177.7 L632.6 177.7 L632.9 177.8 L633.0 177.8 L633.1 177.8 L633.4 177.8 L633.6 177.8 L633.8 177.8 L634.1 177.9 L634.3 177.9 L634.5 177.9 L634.8 177.9 L635.0 177.9 L635.3 177.9 L635.5 177.9 L635.7 178.0 L636.0 178.0 L636.2 178.0 L636.4 178.0 L636.7 178.0 L636.9 178.0 L637.2 178.0 L637.4 178.1 L637.6 178.1 L637.9 178.1 L638.1 178.1 L638.3 178.1 L638.6 178.1 L638.8 178.1 L639.1 178.1 L639.3 178.1 L639.5 178.1 L639.8 178.1 L640.0 178.1 L640.2 178.2 L640.5 178.2 L640.7 178.2 L641.0 178.2 L641.2 178.2 L641.4 178.2 L641.7 178.2 L641.9 178.2 L641.9 178.2 L642.1 178.2 L642.4 178.2 L642.6 178.2 L642.9 178.2 L643.1 178.2 L643.3 178.2 L643.6 178.2 L643.8 178.2 L644.0 178.1 L644.3 178.1 L644.5 178.1 L644.8 178.1 L645.0 178.1 L645.2 178.1 L645.5 178.1 L645.7 178.1 L645.9 178.1 L646.2 178.1 L646.4 178.1 L646.7 178.1 L646.9 178.1 L647.1 178.1 L647.4 178.1 L647.6 178.1 L647.8 178.1 L648.1 178.0 L648.3 178.0 L648.6 178.0 L648.8 178.0 L649.0 178.0 L649.3 178.0 L649.5 178.0 L649.7 178.0 L650.0 178.0 L650.2 178.0 L650.5 178.0 L650.7 178.0 L650.8 178.0 L650.9 178.0 L651.2 178.0 L651.4 178.0 L651.6 178.0 L651.9 178.0 L652.1 178.0 L652.4 178.1 L652.6 178.1 L652.8 178.1 L653.1 178.1 L653.3 178.1 L653.5 178.1 L653.8 178.2 L654.0 178.2 L654.3 178.2 L654.5 178.2 L654.7 178.2 L655.0 178.3 L655.2 178.3 L655.4 178.3 L655.7 178.3 L655.9 178.3 L656.2 178.4 L656.4 178.4 L656.6 178.4 L656.8 178.4 L656.9 178.4 L657.1 178.4 L657.3 178.4 L657.6 178.5 L657.8 178.5 L658.1 178.5 L658.3 178.5 L658.5 178.5 L658.8 178.6 L659.0 178.6 L659.2 178.6 L659.5 178.6 L659.7 178.6 L660.0 178.6 L660.2 178.7 L660.4 178.7 L660.7 178.7 L660.9 178.7 L661.1 178.7 L661.4 178.8 L661.6 178.8 L661.9 178.8 L662.1 178.8 L662.3 178.8 L662.6 178.9 L662.8 178.9 L663.0 178.9 L663.3 178.9 L663.5 178.9 L663.8 178.9 L664.0 179.0 L664.2 179.0 L664.5 179.0 L664.7 179.0 L664.9 179.0 L665.2 179.0 L665.4 179.1 L665.7 179.1 L665.9 179.1 L666.1 179.1 L666.4 179.1 L666.6 179.1 L666.8 179.1 L667.1 179.1 L667.3 179.2 L667.6 179.2 L667.8 179.2 L668.0 179.2 L668.3 179.2 L668.5 179.2 L668.6 179.2 L668.7 179.2 L669.0 179.2 L669.2 179.2 L669.5 179.2 L669.7 179.2 L669.9 179.2 L670.2 179.2 L670.4 179.2 L670.6 179.2 L670.9 179.2 L671.1 179.2 L671.4 179.3 L671.6 179.3 L671.8 179.3 L672.1 179.3 L672.3 179.3 L672.5 179.3 L672.8 179.3 L673.0 179.3 L673.3 179.3 L673.5 179.3 L673.7 179.3 L674.0 179.3 L674.2 179.3 L674.4 179.3 L674.7 179.3 L674.9 179.3 L675.2 179.3 L675.4 179.3 L675.6 179.3 L675.9 179.3 L676.1 179.3 L676.3 179.3 L676.6 179.3 L676.8 179.4 L677.1 179.4 L677.3 179.4 L677.5 179.4 L677.8 179.4 L678.0 179.4 L678.2 179.4 L678.5 179.4 L678.7 179.4 L679.0 179.4 L679.2 179.4 L679.4 179.4 L679.7 179.4 L679.9 179.4 L680.1 179.4 L680.4 179.4 L680.6 179.4 L680.9 179.4 L681.1 179.4 L681.3 179.4 L681.6 179.4 L681.8 179.4 L682.0 179.4 L682.3 179.4 L682.5 179.4 L682.8 179.4 L683.0 179.4 L683.2 179.4 L683.5 179.4 L683.7 179.4 L683.9 179.4 L684.2 179.4 L684.4 179.4 L684.7 179.4 L684.9 179.4 L685.1 179.4 L685.4 179.4 L685.6 179.4 L685.8 179.4 L686.1 179.4 L686.3 179.4 L686.4 179.4 L686.6 179.4 L686.8 179.4 L687.0 179.4 L687.3 179.4 L687.5 179.4 L687.7 179.4 L688.0 179.4 L688.2 179.4 L688.5 179.4 L688.7 179.4 L688.9 179.4 L689.2 179.4 L689.4 179.4 L689.6 179.4 L689.9 179.4 L690.1 179.4 L690.4 179.4 L690.6 179.4 L690.8 179.4 L691.1 179.4 L691.3 179.4 L691.5 179.3 L691.8 179.3 L692.0 179.3 L692.3 179.3 L692.5 179.3 L692.7 179.3 L693.0 179.3 L693.2 179.3 L693.4 179.3 L693.7 179.3 L693.9 179.3 L694.2 179.3 L694.4 179.3 L694.6 179.3 L694.9 179.2 L695.1 179.2 L695.3 179.2 L695.6 179.2 L695.8 179.2 L696.1 179.2 L696.3 179.2 L696.5 179.2 L696.8 179.2 L697.0 179.2 L697.2 179.2 L697.5 179.2 L697.7 179.2 L698.0 179.1 L698.2 179.1 L698.4 179.1 L698.7 179.1 L698.9 179.1 L699.1 179.1 L699.4 179.1 L699.6 179.1 L699.9 179.1 L700.1 179.1 L700.3 179.1 L700.6 179.1 L700.8 179.1 L701.0 179.1 L701.3 179.1 L701.5 179.1 L701.8 179.1 L702.0 179.1 L702.2 179.0 L702.5 179.0 L702.7 179.0 L702.9 179.0 L703.2 179.0 L703.4 179.0 L703.7 179.0 L703.9 179.0 L704.1 179.0 L704.1 179.0 L704.4 179.0 L704.6 179.0 L704.8 179.0 L705.1 179.0 L705.3 179.0 L705.6 179.0 L705.8 179.0 L706.0 179.0 L706.3 179.0 L706.5 179.0 L706.7 179.0 L707.0 179.0 L707.2 179.0 L707.5 179.0 L707.7 179.0 L707.9 179.1 L708.2 179.1 L708.4 179.1 L708.6 179.1 L708.9 179.1 L709.1 179.1 L709.4 179.1 L709.6 179.1 L709.8 179.1 L710.1 179.1 L710.3 179.1 L710.5 179.1 L710.8 179.1 L711.0 179.1 L711.3 179.1 L711.5 179.1 L711.7 179.1 L712.0 179.1 L712.2 179.1 L712.4 179.1 L712.7 179.1 L712.9 179.1 L713.2 179.1 L713.4 179.1 L713.6 179.1 L713.9 179.1 L714.1 179.1 L714.3 179.2 L714.6 179.2 L714.8 179.2 L715.1 179.2 L715.3 179.2 L715.5 179.2 L715.8 179.2 L716.0 179.2" fill="none" stroke="#111" stroke-width="1.35" stroke-linejoin="round" stroke-linecap="round"/>
<line x1="73.60" y1="369.30" x2="73.60" y2="530.50" stroke="#333" stroke-width="1.1"/>
<line x1="73.10" y1="530.00" x2="196.30" y2="530.00" stroke="#333" stroke-width="1.1"/>
<line x1="73.60" y1="369.80" x2="77.20" y2="369.80" stroke="#333" stroke-width="1.0"/>
<text x="0" y="3.62" transform="translate(69.60 370.50) scale(1.04 1)" text-anchor="end" font-size="10.1" fill="#231f20" stroke="#231f20" stroke-width="0.18">20</text>
<line x1="73.60" y1="401.84" x2="77.20" y2="401.84" stroke="#333" stroke-width="1.0"/>
<text x="0" y="3.62" transform="translate(69.60 402.54) scale(1.04 1)" text-anchor="end" font-size="10.1" fill="#231f20" stroke="#231f20" stroke-width="0.18">16</text>
<line x1="73.60" y1="433.88" x2="77.20" y2="433.88" stroke="#333" stroke-width="1.0"/>
<text x="0" y="3.62" transform="translate(69.60 434.58) scale(1.04 1)" text-anchor="end" font-size="10.1" fill="#231f20" stroke="#231f20" stroke-width="0.18">12</text>
<line x1="73.60" y1="465.92" x2="77.20" y2="465.92" stroke="#333" stroke-width="1.0"/>
<text x="0" y="3.62" transform="translate(69.60 466.62) scale(1.04 1)" text-anchor="end" font-size="10.1" fill="#231f20" stroke="#231f20" stroke-width="0.18">8</text>
<line x1="73.60" y1="497.96" x2="77.20" y2="497.96" stroke="#333" stroke-width="1.0"/>
<text x="0" y="3.62" transform="translate(69.60 498.66) scale(1.04 1)" text-anchor="end" font-size="10.1" fill="#231f20" stroke="#231f20" stroke-width="0.18">4</text>
<text x="0" y="3.62" transform="translate(69.60 530.70) scale(1.04 1)" text-anchor="end" font-size="10.1" fill="#231f20" stroke="#231f20" stroke-width="0.18">0</text>
<line x1="104.20" y1="530.00" x2="104.20" y2="536.00" stroke="#333" stroke-width="1.0"/>
<line x1="134.80" y1="530.00" x2="134.80" y2="536.00" stroke="#333" stroke-width="1.0"/>
<line x1="165.40" y1="530.00" x2="165.40" y2="536.00" stroke="#333" stroke-width="1.0"/>
<text x="0" y="3.62" transform="translate(73.60 541.90) scale(1.04 1)" text-anchor="middle" font-size="10.1" fill="#231f20" stroke="#231f20" stroke-width="0.18">0</text>
<text x="0" y="3.62" transform="translate(104.20 541.90) scale(1.04 1)" text-anchor="middle" font-size="10.1" fill="#231f20" stroke="#231f20" stroke-width="0.18">5</text>
<text x="0" y="3.62" transform="translate(134.80 541.90) scale(1.04 1)" text-anchor="middle" font-size="10.1" fill="#231f20" stroke="#231f20" stroke-width="0.18">10</text>
<text x="0" y="3.62" transform="translate(165.40 541.90) scale(1.04 1)" text-anchor="middle" font-size="10.1" fill="#231f20" stroke="#231f20" stroke-width="0.18">15</text>
<text x="195.00" y="545.34" text-anchor="middle" font-size="9.6" fill="#231f20" stroke="#231f20" stroke-width="0.18">min</text>
<text x="0" y="3.33" transform="translate(51.00 454.50) rotate(-90) scale(1.04 1)" text-anchor="middle" font-size="9.3" fill="#231f20" stroke="#231f20" stroke-width="0.18">UV 280 nm(mV)</text>
<text x="191.60" y="398.07" text-anchor="end" font-size="9.7" fill="#231f20" stroke="#231f20" stroke-width="0.18">Gel lot</text>
<line x1="163.60" y1="399.60" x2="191.80" y2="399.60" stroke="#111" stroke-width="0.8"/>
<text x="191.60" y="421.77" text-anchor="end" font-size="9.7" fill="#231f20" stroke="#231f20" stroke-width="0.18">Lot A</text>
<text x="191.60" y="454.07" text-anchor="end" font-size="9.7" fill="#231f20" stroke="#231f20" stroke-width="0.18">Lot B</text>
<text x="191.60" y="486.07" text-anchor="end" font-size="9.7" fill="#231f20" stroke="#231f20" stroke-width="0.18">Lot C</text>
<path d="M73.6 432.3 L73.8 432.3 L74.1 432.3 L74.3 432.3 L74.6 432.3 L74.8 432.3 L75.1 432.3 L75.3 432.3 L75.3 432.3 L75.6 427.3 L75.8 417.9 L75.8 417.7 L76.1 401.7 L76.2 397.8 L76.3 400.6 L76.5 412.6 L76.7 416.3 L76.8 418.2 L77.0 420.7 L77.1 421.1 L77.3 419.5 L77.5 410.9 L77.8 401.3 L77.9 398.6 L78.0 396.6 L78.3 393.5 L78.5 392.2 L78.5 392.2 L78.8 393.1 L79.0 395.0 L79.2 397.0 L79.2 397.1 L79.5 399.9 L79.7 403.5 L80.0 407.2 L80.2 410.4 L80.3 411.5 L80.5 412.6 L80.7 414.6 L81.0 416.3 L81.2 417.9 L81.4 419.3 L81.7 420.4 L81.9 421.1 L81.9 421.3 L82.2 422.1 L82.4 422.8 L82.7 423.4 L82.9 424.0 L83.2 424.5 L83.4 425.0 L83.7 425.4 L83.9 425.7 L84.0 425.9 L84.1 426.1 L84.4 426.4 L84.6 426.6 L84.9 426.9 L85.1 427.2 L85.4 427.4 L85.6 427.6 L85.9 427.9 L86.1 428.1 L86.4 428.2 L86.6 428.4 L86.8 428.6 L87.1 428.7 L87.3 428.9 L87.6 429.0 L87.7 429.1 L87.8 429.2 L88.1 429.3 L88.3 429.4 L88.6 429.5 L88.8 429.6 L89.1 429.7 L89.3 429.9 L89.5 430.0 L89.8 430.1 L90.0 430.2 L90.3 430.2 L90.5 430.3 L90.8 430.4 L91.0 430.5 L91.3 430.6 L91.5 430.7 L91.8 430.7 L92.0 430.8 L92.2 430.9 L92.5 430.9 L92.7 431.0 L93.0 431.0 L93.2 431.1 L93.2 431.1 L93.5 431.1 L93.7 431.2 L94.0 431.2 L94.2 431.3 L94.4 431.3 L94.7 431.4 L94.9 431.4 L95.2 431.5 L95.4 431.5 L95.7 431.6 L95.9 431.6 L96.2 431.6 L96.4 431.7 L96.7 431.7 L96.9 431.8 L97.1 431.8 L97.4 431.8 L97.6 431.9 L97.9 431.9 L98.1 431.9 L98.4 432.0 L98.6 432.0 L98.9 432.0 L99.1 432.0 L99.4 432.0 L99.6 432.1 L99.8 432.1 L100.1 432.1 L100.3 432.1 L100.6 432.1 L100.8 432.1 L101.1 432.1 L101.1 432.1 L101.3 432.1 L101.6 432.1 L101.8 432.1 L102.1 432.1 L102.3 432.1 L102.5 432.0 L102.8 432.0 L103.0 432.0 L103.3 431.9 L103.5 431.9 L103.8 431.9 L104.0 431.8 L104.3 431.8 L104.5 431.7 L104.8 431.7 L105.0 431.6 L105.2 431.5 L105.5 431.5 L105.7 431.4 L106.0 431.4 L106.2 431.3 L106.5 431.3 L106.7 431.2 L107.0 431.1 L107.2 431.1 L107.3 431.1 L107.5 431.0 L107.7 431.0 L107.9 430.9 L108.2 430.8 L108.4 430.8 L108.7 430.7 L108.9 430.6 L109.2 430.6 L109.4 430.5 L109.7 430.4 L109.9 430.3 L110.1 430.2 L110.4 430.2 L110.6 430.1 L110.9 430.0 L111.1 429.9 L111.4 429.8 L111.6 429.7 L111.9 429.6 L112.1 429.5 L112.4 429.4 L112.6 429.4 L112.8 429.3 L113.1 429.2 L113.3 429.1 L113.4 429.1 L113.6 429.0 L113.8 428.9 L114.1 428.8 L114.3 428.7 L114.6 428.7 L114.8 428.6 L115.1 428.5 L115.3 428.4 L115.5 428.3 L115.8 428.3 L116.0 428.2 L116.3 428.1 L116.5 428.0 L116.8 427.9 L117.0 427.8 L117.3 427.7 L117.5 427.6 L117.8 427.5 L118.0 427.4 L118.2 427.3 L118.5 427.2 L118.7 427.1 L119.0 426.9 L119.2 426.8 L119.5 426.7 L119.5 426.7 L119.7 426.6 L120.0 426.4 L120.2 426.3 L120.5 426.1 L120.7 426.0 L120.9 425.8 L121.2 425.6 L121.4 425.4 L121.7 425.2 L121.9 425.0 L122.2 424.7 L122.4 424.5 L122.7 424.2 L122.9 423.9 L123.1 423.5 L123.2 423.5 L123.4 423.1 L123.6 422.4 L123.9 421.7 L124.1 420.8 L124.4 419.8 L124.6 418.7 L124.9 417.6 L125.1 416.4 L125.3 415.5 L125.4 415.3 L125.6 413.9 L125.8 412.3 L126.1 410.5 L126.3 408.8 L126.6 407.1 L126.8 405.6 L127.1 404.5 L127.2 404.2 L127.3 403.7 L127.6 402.9 L127.8 402.2 L128.1 401.7 L128.3 401.5 L128.4 401.4 L128.5 401.5 L128.8 401.9 L129.0 402.5 L129.3 403.2 L129.5 404.0 L129.6 404.2 L129.8 404.9 L130.0 406.2 L130.3 407.8 L130.5 409.6 L130.8 411.4 L131.0 413.1 L131.2 414.6 L131.4 415.5 L131.5 415.7 L131.7 416.7 L132.0 417.6 L132.2 418.5 L132.5 419.4 L132.7 420.2 L133.0 420.8 L133.2 421.4 L133.5 421.7 L133.6 421.9 L133.7 422.0 L133.9 422.2 L134.2 422.3 L134.4 422.5 L134.7 422.6 L134.9 422.7 L135.1 422.7 L135.2 422.7 L135.4 422.4 L135.7 422.0 L135.9 421.3 L136.1 420.5 L136.4 419.7 L136.6 418.8 L136.9 418.0 L136.9 417.9 L137.1 417.3 L137.4 416.4 L137.6 415.5 L137.9 414.6 L138.1 413.8 L138.4 413.2 L138.5 413.1 L138.6 412.9 L138.8 412.6 L139.1 412.4 L139.3 412.2 L139.6 412.1 L139.7 412.1 L139.8 412.1 L140.1 412.3 L140.3 412.7 L140.6 413.1 L140.8 413.6 L140.9 413.9 L141.1 414.2 L141.3 415.0 L141.5 416.0 L141.8 417.2 L142.0 418.3 L142.3 419.4 L142.5 420.4 L142.8 421.1 L142.8 421.1 L143.0 421.7 L143.3 422.3 L143.5 422.8 L143.8 423.3 L144.0 423.8 L144.2 424.2 L144.5 424.6 L144.7 424.9 L145.0 425.0 L145.2 425.1 L145.2 425.1 L145.5 425.1 L145.7 425.1 L146.0 425.1 L146.2 425.0 L146.5 425.0 L146.7 425.0 L146.9 425.0 L147.2 425.0 L147.4 424.9 L147.7 424.9 L147.7 424.9 L147.9 424.8 L148.2 424.7 L148.4 424.5 L148.7 424.3 L148.9 424.1 L149.1 423.9 L149.4 423.7 L149.6 423.5 L149.9 423.4 L150.1 423.3 L150.1 423.3 L150.4 423.2 L150.6 423.2 L150.9 423.1 L151.1 423.1 L151.4 423.0 L151.6 423.0 L151.8 423.0 L151.9 423.0 L152.1 423.0 L152.3 423.1 L152.6 423.3 L152.8 423.5 L153.1 423.7 L153.3 424.0 L153.6 424.3 L153.8 424.6 L154.1 424.8 L154.3 425.0 L154.4 425.1 L154.5 425.2 L154.8 425.3 L155.0 425.5 L155.3 425.6 L155.5 425.8 L155.8 425.9 L156.0 426.1 L156.3 426.2 L156.5 426.3 L156.8 426.5 L157.0 426.6 L157.2 426.6 L157.5 426.7 L157.7 426.8 L158.0 426.8 L158.1 426.8 L158.2 426.8 L158.5 426.9 L158.7 426.9 L159.0 426.9 L159.2 426.9 L159.5 427.0 L159.7 427.0 L159.9 427.0 L160.2 427.0 L160.4 427.0 L160.7 427.0 L160.9 427.0 L161.2 427.1 L161.4 427.1 L161.7 427.1 L161.9 427.1 L162.1 427.1 L162.3 427.1 L162.4 427.1 L162.6 427.1 L162.9 427.1 L163.1 427.1 L163.4 427.1 L163.6 427.0 L163.9 427.0 L164.1 427.0 L164.4 427.0 L164.6 427.0 L164.8 427.0 L165.1 427.0 L165.3 426.9 L165.6 426.9 L165.8 426.9 L166.1 426.9 L166.3 426.9 L166.6 426.8 L166.8 426.8 L167.1 426.8 L167.3 426.8 L167.5 426.7 L167.8 426.7 L168.0 426.7 L168.3 426.6 L168.5 426.6 L168.8 426.6 L169.0 426.6 L169.3 426.5 L169.5 426.5 L169.8 426.5 L170.0 426.4 L170.2 426.4 L170.5 426.4 L170.7 426.4 L171.0 426.3 L171.2 426.3 L171.5 426.3 L171.5 426.3 L171.7 426.2 L172.0 426.2 L172.2 426.2 L172.5 426.2 L172.7 426.1 L172.9 426.1 L173.2 426.1 L173.4 426.1 L173.7 426.0 L173.9 426.0 L174.2 426.0 L174.4 425.9 L174.7 425.9 L174.9 425.9 L175.2 425.8 L175.4 425.8 L175.6 425.8 L175.9 425.7 L176.1 425.7 L176.4 425.7 L176.6 425.6 L176.9 425.6 L177.1 425.6 L177.4 425.5 L177.6 425.5 L177.8 425.5 L178.1 425.4 L178.3 425.4 L178.6 425.4 L178.8 425.3 L179.1 425.3 L179.3 425.3 L179.6 425.2 L179.8 425.2 L180.1 425.2 L180.3 425.1 L180.5 425.1 L180.8 425.1 L181.0 425.0 L181.3 425.0 L181.5 425.0 L181.8 424.9 L182.0 424.9 L182.3 424.9 L182.5 424.8 L182.8 424.8 L183.0 424.8 L183.2 424.7 L183.5 424.7 L183.7 424.7 L183.8 424.7 L184.0 424.6 L184.2 424.6 L184.5 424.6 L184.7 424.6 L185.0 424.5 L185.2 424.5 L185.5 424.5 L185.7 424.4 L185.9 424.4 L186.2 424.4 L186.4 424.4 L186.7 424.3 L186.9 424.3 L187.2 424.3 L187.4 424.2 L187.7 424.2 L187.9 424.2 L188.2 424.2 L188.4 424.1 L188.6 424.1 L188.9 424.1 L189.1 424.0 L189.4 424.0 L189.6 424.0 L189.9 424.0 L190.1 423.9 L190.4 423.9 L190.6 423.9 L190.8 423.9 L191.1 423.8 L191.3 423.8 L191.6 423.8 L191.8 423.7 L192.1 423.7 L192.3 423.7 L192.6 423.7 L192.8 423.6 L193.1 423.6 L193.3 423.6 L193.5 423.6 L193.8 423.5 L194.0 423.5 L194.3 423.5 L194.5 423.5 L194.8 423.4 L195.0 423.4 L195.3 423.4 L195.5 423.4 L195.8 423.3 L196.0 423.3" fill="none" stroke="#6b67c2" stroke-width="1.35" stroke-linejoin="round" stroke-linecap="round"/>
<path d="M73.6 459.5 L73.8 459.5 L74.1 459.6 L74.3 459.7 L74.6 459.8 L74.8 459.9 L74.8 459.9 L75.1 461.3 L75.3 463.2 L75.4 463.5 L75.6 463.5 L75.8 463.5 L76.1 463.5 L76.2 463.5 L76.3 462.7 L76.5 457.4 L76.7 453.9 L76.8 445.2 L77.0 434.7 L77.0 435.1 L77.3 439.3 L77.4 440.3 L77.5 439.4 L77.8 434.6 L78.0 430.7 L78.0 430.6 L78.3 428.6 L78.5 427.2 L78.6 427.1 L78.8 427.3 L79.0 428.7 L79.2 430.8 L79.4 432.3 L79.5 432.9 L79.7 435.4 L80.0 438.3 L80.2 441.3 L80.5 443.8 L80.6 445.1 L80.7 445.6 L81.0 447.0 L81.2 448.3 L81.4 449.5 L81.7 450.5 L81.9 451.5 L82.2 452.3 L82.4 453.0 L82.5 453.1 L82.7 453.6 L82.9 454.2 L83.2 454.7 L83.4 455.2 L83.7 455.7 L83.9 456.1 L84.1 456.5 L84.4 456.9 L84.6 457.2 L84.9 457.5 L85.1 457.8 L85.2 457.9 L85.4 458.1 L85.6 458.3 L85.9 458.6 L86.1 458.8 L86.4 459.0 L86.6 459.2 L86.8 459.4 L87.1 459.6 L87.3 459.8 L87.6 460.0 L87.8 460.2 L88.1 460.3 L88.3 460.5 L88.6 460.6 L88.8 460.8 L89.1 460.9 L89.3 461.0 L89.5 461.1 L89.5 461.1 L89.8 461.2 L90.0 461.3 L90.3 461.5 L90.5 461.6 L90.8 461.7 L91.0 461.8 L91.3 461.8 L91.5 461.9 L91.8 462.0 L92.0 462.1 L92.2 462.2 L92.5 462.3 L92.7 462.3 L93.0 462.4 L93.2 462.5 L93.5 462.6 L93.7 462.6 L94.0 462.7 L94.2 462.7 L94.4 462.8 L94.7 462.8 L94.9 462.9 L95.0 462.9 L95.2 462.9 L95.4 462.9 L95.7 463.0 L95.9 463.0 L96.2 463.1 L96.4 463.1 L96.7 463.1 L96.9 463.2 L97.1 463.2 L97.4 463.2 L97.6 463.3 L97.9 463.3 L98.1 463.3 L98.4 463.4 L98.6 463.4 L98.9 463.4 L99.1 463.4 L99.4 463.4 L99.6 463.5 L99.8 463.5 L100.1 463.5 L100.3 463.5 L100.6 463.5 L100.8 463.5 L101.1 463.5 L101.1 463.5 L101.3 463.5 L101.6 463.5 L101.8 463.5 L102.1 463.5 L102.3 463.5 L102.5 463.4 L102.8 463.4 L103.0 463.4 L103.3 463.4 L103.5 463.3 L103.8 463.3 L104.0 463.2 L104.3 463.2 L104.5 463.1 L104.8 463.1 L105.0 463.1 L105.2 463.0 L105.5 462.9 L105.7 462.9 L106.0 462.8 L106.2 462.8 L106.5 462.7 L106.7 462.7 L107.0 462.6 L107.2 462.6 L107.3 462.6 L107.5 462.5 L107.7 462.5 L107.9 462.4 L108.2 462.3 L108.4 462.3 L108.7 462.2 L108.9 462.1 L109.2 462.0 L109.4 462.0 L109.7 461.9 L109.9 461.8 L110.1 461.7 L110.4 461.6 L110.6 461.5 L110.9 461.4 L111.1 461.3 L111.4 461.2 L111.6 461.1 L111.9 461.0 L112.1 460.9 L112.4 460.8 L112.6 460.7 L112.8 460.6 L113.1 460.4 L113.3 460.3 L113.4 460.3 L113.6 460.2 L113.8 460.1 L114.1 460.0 L114.3 459.9 L114.6 459.8 L114.8 459.6 L115.1 459.5 L115.3 459.4 L115.5 459.2 L115.8 459.1 L116.0 458.9 L116.3 458.7 L116.5 458.6 L116.8 458.4 L117.0 458.2 L117.3 457.9 L117.5 457.7 L117.7 457.5 L117.8 457.4 L118.0 457.1 L118.2 456.7 L118.5 456.2 L118.7 455.6 L119.0 455.0 L119.2 454.4 L119.5 453.6 L119.7 452.9 L120.0 452.0 L120.1 451.5 L120.2 451.1 L120.5 450.0 L120.7 448.5 L120.9 446.9 L121.2 445.2 L121.4 443.5 L121.7 441.8 L121.9 440.4 L121.9 440.3 L122.2 439.1 L122.4 437.6 L122.7 436.1 L122.9 434.9 L123.1 434.1 L123.4 433.9 L123.4 433.9 L123.6 434.2 L123.9 435.0 L124.1 436.0 L124.4 437.1 L124.6 438.3 L124.7 438.7 L124.9 439.5 L125.1 441.0 L125.4 442.6 L125.6 444.4 L125.8 446.1 L126.1 447.7 L126.3 449.1 L126.5 449.9 L126.6 450.1 L126.8 450.9 L127.1 451.7 L127.3 452.5 L127.6 453.2 L127.8 453.8 L128.1 454.3 L128.3 454.8 L128.5 455.0 L128.7 455.1 L128.8 455.2 L129.0 455.3 L129.3 455.3 L129.5 455.4 L129.8 455.5 L130.0 455.5 L130.2 455.5 L130.3 455.5 L130.5 455.3 L130.8 454.8 L131.0 454.1 L131.2 453.3 L131.5 452.5 L131.7 451.7 L132.0 450.9 L132.0 450.7 L132.2 450.2 L132.5 449.4 L132.7 448.5 L133.0 447.7 L133.2 446.9 L133.5 446.2 L133.7 445.7 L133.9 445.5 L133.9 445.5 L134.2 445.3 L134.4 445.1 L134.7 445.0 L134.9 445.0 L135.1 444.9 L135.2 444.9 L135.4 445.2 L135.7 445.6 L135.9 446.2 L136.1 446.9 L136.4 447.6 L136.6 448.3 L136.6 448.3 L136.9 449.1 L137.1 450.0 L137.4 451.0 L137.6 452.0 L137.9 452.9 L138.1 453.8 L138.4 454.5 L138.5 454.7 L138.6 454.9 L138.8 455.4 L139.1 455.8 L139.3 456.3 L139.6 456.6 L139.8 457.0 L140.1 457.3 L140.3 457.5 L140.6 457.7 L140.8 457.7 L140.9 457.7 L141.1 457.7 L141.3 457.7 L141.5 457.7 L141.8 457.7 L142.0 457.7 L142.3 457.7 L142.5 457.6 L142.8 457.6 L143.0 457.6 L143.3 457.5 L143.4 457.5 L143.5 457.5 L143.8 457.4 L144.0 457.2 L144.2 457.0 L144.5 456.8 L144.7 456.6 L145.0 456.4 L145.2 456.2 L145.5 456.0 L145.7 455.9 L145.8 455.9 L146.0 455.9 L146.2 455.9 L146.5 455.8 L146.7 455.8 L146.9 455.8 L147.2 455.8 L147.4 455.8 L147.7 455.7 L147.7 455.7 L147.9 455.8 L148.2 455.9 L148.4 456.1 L148.7 456.4 L148.9 456.7 L149.1 456.9 L149.4 457.2 L149.6 457.5 L149.9 457.7 L150.1 457.9 L150.1 457.9 L150.4 458.1 L150.6 458.3 L150.9 458.4 L151.1 458.6 L151.4 458.8 L151.6 459.0 L151.8 459.1 L152.1 459.3 L152.3 459.4 L152.6 459.5 L152.8 459.6 L153.1 459.7 L153.3 459.8 L153.6 459.9 L153.8 459.9 L153.8 459.9 L154.1 460.0 L154.3 460.0 L154.5 460.0 L154.8 460.0 L155.0 460.1 L155.3 460.1 L155.5 460.1 L155.8 460.1 L156.0 460.2 L156.3 460.2 L156.5 460.2 L156.8 460.2 L157.0 460.2 L157.2 460.3 L157.5 460.3 L157.7 460.3 L158.0 460.3 L158.2 460.3 L158.5 460.3 L158.7 460.3 L159.0 460.3 L159.2 460.3 L159.3 460.3 L159.5 460.3 L159.7 460.3 L159.9 460.3 L160.2 460.3 L160.4 460.3 L160.7 460.3 L160.9 460.3 L161.2 460.3 L161.4 460.3 L161.7 460.2 L161.9 460.2 L162.1 460.2 L162.4 460.2 L162.6 460.2 L162.9 460.1 L163.1 460.1 L163.4 460.1 L163.6 460.1 L163.9 460.1 L164.1 460.0 L164.4 460.0 L164.6 460.0 L164.8 459.9 L165.1 459.9 L165.3 459.9 L165.6 459.9 L165.8 459.8 L166.1 459.8 L166.3 459.8 L166.6 459.7 L166.8 459.7 L167.1 459.7 L167.3 459.6 L167.5 459.6 L167.8 459.6 L168.0 459.5 L168.3 459.5 L168.5 459.5 L168.8 459.5 L169.0 459.4 L169.3 459.4 L169.5 459.4 L169.8 459.3 L170.0 459.3 L170.2 459.3 L170.5 459.2 L170.7 459.2 L171.0 459.2 L171.2 459.1 L171.5 459.1 L171.5 459.1 L171.7 459.1 L172.0 459.1 L172.2 459.0 L172.5 459.0 L172.7 459.0 L172.9 458.9 L173.2 458.9 L173.4 458.9 L173.7 458.9 L173.9 458.8 L174.2 458.8 L174.4 458.8 L174.7 458.7 L174.9 458.7 L175.2 458.7 L175.4 458.6 L175.6 458.6 L175.9 458.6 L176.1 458.5 L176.4 458.5 L176.6 458.5 L176.9 458.4 L177.1 458.4 L177.4 458.4 L177.6 458.3 L177.8 458.3 L178.1 458.2 L178.3 458.2 L178.6 458.2 L178.8 458.1 L179.1 458.1 L179.3 458.1 L179.6 458.0 L179.8 458.0 L180.1 458.0 L180.3 457.9 L180.5 457.9 L180.8 457.9 L181.0 457.8 L181.3 457.8 L181.5 457.8 L181.8 457.7 L182.0 457.7 L182.3 457.7 L182.5 457.7 L182.8 457.6 L183.0 457.6 L183.2 457.6 L183.5 457.5 L183.7 457.5 L183.8 457.5 L184.0 457.5 L184.2 457.5 L184.5 457.4 L184.7 457.4 L185.0 457.4 L185.2 457.3 L185.5 457.3 L185.7 457.3 L185.9 457.3 L186.2 457.2 L186.4 457.2 L186.7 457.2 L186.9 457.2 L187.2 457.1 L187.4 457.1 L187.7 457.1 L187.9 457.1 L188.2 457.0 L188.4 457.0 L188.6 457.0 L188.9 457.0 L189.1 456.9 L189.4 456.9 L189.6 456.9 L189.9 456.9 L190.1 456.8 L190.4 456.8 L190.6 456.8 L190.8 456.8 L191.1 456.7 L191.3 456.7 L191.6 456.7 L191.8 456.7 L192.1 456.7 L192.3 456.6 L192.6 456.6 L192.8 456.6 L193.1 456.6 L193.3 456.5 L193.5 456.5 L193.8 456.5 L194.0 456.5 L194.3 456.5 L194.5 456.4 L194.8 456.4 L195.0 456.4 L195.3 456.4 L195.5 456.3 L195.8 456.3 L196.0 456.3" fill="none" stroke="#ee3338" stroke-width="1.35" stroke-linejoin="round" stroke-linecap="round"/>
<path d="M73.6 491.6 L73.8 491.6 L74.1 491.6 L74.3 491.6 L74.5 491.6 L74.6 491.7 L74.8 494.0 L75.1 496.2 L75.1 496.4 L75.3 496.4 L75.6 496.4 L75.6 496.4 L75.8 491.3 L76.0 481.9 L76.1 481.8 L76.3 468.5 L76.4 467.5 L76.5 469.0 L76.8 472.6 L77.0 473.9 L77.0 473.8 L77.3 472.1 L77.5 469.6 L77.6 469.1 L77.8 467.0 L78.0 463.7 L78.3 461.4 L78.4 461.1 L78.5 461.4 L78.8 463.2 L79.0 465.7 L79.1 466.7 L79.2 468.0 L79.5 470.7 L79.7 473.7 L80.0 476.5 L80.2 478.8 L80.3 479.5 L80.5 480.3 L80.7 481.6 L81.0 482.8 L81.2 483.8 L81.4 484.7 L81.7 485.5 L81.9 486.2 L82.2 486.7 L82.2 486.8 L82.4 487.3 L82.7 487.8 L82.9 488.3 L83.2 488.8 L83.4 489.2 L83.7 489.6 L83.9 489.9 L84.1 490.3 L84.4 490.6 L84.6 490.9 L84.9 491.2 L85.1 491.4 L85.2 491.6 L85.4 491.7 L85.6 491.9 L85.9 492.2 L86.1 492.4 L86.4 492.7 L86.6 492.9 L86.8 493.1 L87.1 493.3 L87.3 493.5 L87.6 493.7 L87.8 493.9 L88.1 494.0 L88.3 494.2 L88.6 494.3 L88.8 494.5 L89.1 494.6 L89.3 494.7 L89.5 494.8 L89.5 494.8 L89.8 494.9 L90.0 494.9 L90.3 495.0 L90.5 495.1 L90.8 495.2 L91.0 495.3 L91.3 495.3 L91.5 495.4 L91.8 495.5 L92.0 495.5 L92.2 495.6 L92.5 495.6 L92.7 495.7 L93.0 495.7 L93.2 495.8 L93.5 495.8 L93.7 495.9 L94.0 495.9 L94.2 495.9 L94.4 495.9 L94.7 496.0 L94.9 496.0 L95.0 496.0 L95.2 496.0 L95.4 496.0 L95.7 496.0 L95.9 496.0 L96.2 496.0 L96.4 496.0 L96.7 496.0 L96.9 496.0 L97.1 496.0 L97.4 496.0 L97.6 496.0 L97.9 496.0 L98.1 496.0 L98.4 496.0 L98.6 496.0 L98.9 496.0 L99.1 496.0 L99.4 496.0 L99.6 496.0 L99.8 496.0 L100.1 496.0 L100.3 496.0 L100.6 496.0 L100.8 496.0 L101.1 496.0 L101.1 496.0 L101.3 496.0 L101.6 495.9 L101.8 495.9 L102.1 495.9 L102.3 495.9 L102.5 495.8 L102.8 495.8 L103.0 495.7 L103.3 495.6 L103.5 495.6 L103.8 495.5 L104.0 495.4 L104.3 495.4 L104.5 495.3 L104.8 495.2 L105.0 495.1 L105.2 495.0 L105.5 494.9 L105.7 494.9 L106.0 494.8 L106.2 494.7 L106.5 494.6 L106.7 494.5 L107.0 494.4 L107.2 494.4 L107.3 494.4 L107.5 494.3 L107.7 494.2 L107.9 494.2 L108.2 494.1 L108.4 494.0 L108.7 493.9 L108.9 493.9 L109.2 493.8 L109.4 493.7 L109.7 493.6 L109.9 493.6 L110.1 493.5 L110.4 493.4 L110.6 493.3 L110.9 493.2 L111.1 493.2 L111.4 493.1 L111.6 493.0 L111.9 492.9 L112.1 492.8 L112.2 492.8 L112.4 492.7 L112.6 492.6 L112.8 492.5 L113.1 492.4 L113.3 492.3 L113.6 492.2 L113.8 492.1 L114.1 491.9 L114.3 491.8 L114.6 491.7 L114.8 491.6 L115.1 491.4 L115.3 491.3 L115.5 491.1 L115.8 490.9 L116.0 490.7 L116.3 490.5 L116.4 490.4 L116.5 490.3 L116.8 490.0 L117.0 489.6 L117.3 489.2 L117.5 488.8 L117.8 488.3 L118.0 487.7 L118.2 487.1 L118.5 486.4 L118.7 485.6 L118.9 485.1 L119.0 484.8 L119.2 483.6 L119.5 482.1 L119.7 480.4 L120.0 478.5 L120.2 476.7 L120.5 474.9 L120.7 473.3 L120.7 473.1 L120.9 471.8 L121.2 470.1 L121.4 468.4 L121.7 466.9 L121.9 465.8 L122.2 465.2 L122.3 465.1 L122.4 465.2 L122.7 465.8 L122.9 466.6 L123.1 467.7 L123.4 468.8 L123.5 469.1 L123.6 469.9 L123.9 471.3 L124.1 472.9 L124.4 474.6 L124.6 476.3 L124.9 477.9 L125.1 479.4 L125.3 480.3 L125.4 480.5 L125.6 481.6 L125.8 482.6 L126.1 483.5 L126.3 484.4 L126.6 485.3 L126.8 486.0 L127.1 486.6 L127.3 487.0 L127.5 487.1 L127.6 487.2 L127.8 487.5 L128.1 487.7 L128.3 487.9 L128.5 488.0 L128.8 488.1 L129.0 488.2 L129.3 488.3 L129.5 488.3 L129.6 488.3 L129.8 488.3 L130.0 487.9 L130.3 487.4 L130.5 486.6 L130.8 485.8 L131.0 485.0 L131.2 484.1 L131.4 483.5 L131.5 483.4 L131.7 482.5 L132.0 481.6 L132.2 480.6 L132.5 479.6 L132.7 478.7 L133.0 478.0 L133.2 477.6 L133.3 477.5 L133.5 477.4 L133.7 477.2 L133.9 477.1 L134.2 477.0 L134.4 477.0 L134.5 477.0 L134.7 477.1 L134.9 477.4 L135.2 477.9 L135.4 478.6 L135.7 479.3 L135.9 480.0 L136.0 480.3 L136.1 480.7 L136.4 481.5 L136.6 482.5 L136.9 483.5 L137.1 484.5 L137.4 485.4 L137.6 486.2 L137.9 486.7 L137.9 486.8 L138.1 487.2 L138.4 487.7 L138.6 488.1 L138.8 488.5 L139.1 488.9 L139.3 489.2 L139.6 489.4 L139.8 489.6 L140.1 489.7 L140.3 489.8 L140.3 489.8 L140.6 489.8 L140.8 489.8 L141.1 489.8 L141.3 489.7 L141.5 489.7 L141.8 489.7 L142.0 489.7 L142.3 489.6 L142.5 489.6 L142.8 489.5 L142.8 489.5 L143.0 489.5 L143.3 489.4 L143.5 489.2 L143.8 489.1 L144.0 488.9 L144.2 488.8 L144.5 488.6 L144.7 488.5 L145.0 488.4 L145.2 488.3 L145.2 488.3 L145.5 488.3 L145.7 488.3 L146.0 488.3 L146.2 488.2 L146.5 488.2 L146.7 488.2 L146.9 488.2 L147.0 488.2 L147.2 488.2 L147.4 488.3 L147.7 488.5 L147.9 488.7 L148.2 489.0 L148.4 489.2 L148.7 489.5 L148.9 489.8 L149.1 490.1 L149.4 490.3 L149.5 490.4 L149.6 490.5 L149.9 490.6 L150.1 490.8 L150.4 490.9 L150.6 491.1 L150.9 491.3 L151.1 491.4 L151.4 491.6 L151.6 491.7 L151.8 491.8 L152.1 491.9 L152.3 492.0 L152.6 492.1 L152.8 492.2 L153.1 492.2 L153.2 492.2 L153.3 492.2 L153.6 492.2 L153.8 492.2 L154.1 492.2 L154.3 492.2 L154.5 492.3 L154.8 492.3 L155.0 492.3 L155.3 492.3 L155.5 492.3 L155.8 492.3 L156.0 492.3 L156.3 492.3 L156.5 492.3 L156.8 492.3 L157.0 492.3 L157.2 492.3 L157.5 492.3 L157.7 492.3 L158.0 492.3 L158.2 492.3 L158.5 492.4 L158.7 492.4 L159.0 492.4 L159.2 492.4 L159.3 492.4 L159.5 492.4 L159.7 492.4 L159.9 492.3 L160.2 492.3 L160.4 492.3 L160.7 492.3 L160.9 492.3 L161.2 492.3 L161.4 492.3 L161.7 492.3 L161.9 492.3 L162.1 492.2 L162.4 492.2 L162.6 492.2 L162.9 492.2 L163.1 492.2 L163.4 492.1 L163.6 492.1 L163.9 492.1 L164.1 492.1 L164.4 492.0 L164.6 492.0 L164.8 492.0 L165.1 492.0 L165.3 491.9 L165.6 491.9 L165.8 491.9 L166.1 491.8 L166.3 491.8 L166.6 491.8 L166.8 491.7 L167.1 491.7 L167.3 491.7 L167.5 491.7 L167.8 491.6 L168.0 491.6 L168.3 491.6 L168.5 491.5 L168.8 491.5 L169.0 491.5 L169.3 491.4 L169.5 491.4 L169.8 491.4 L170.0 491.3 L170.2 491.3 L170.5 491.3 L170.7 491.2 L171.0 491.2 L171.2 491.2 L171.5 491.2 L171.5 491.2 L171.7 491.1 L172.0 491.1 L172.2 491.1 L172.5 491.0 L172.7 491.0 L172.9 491.0 L173.2 491.0 L173.4 490.9 L173.7 490.9 L173.9 490.9 L174.2 490.8 L174.4 490.8 L174.7 490.8 L174.9 490.7 L175.2 490.7 L175.4 490.7 L175.6 490.6 L175.9 490.6 L176.1 490.6 L176.4 490.5 L176.6 490.5 L176.9 490.5 L177.1 490.5 L177.4 490.4 L177.6 490.4 L177.8 490.4 L178.1 490.3 L178.3 490.3 L178.6 490.3 L178.8 490.2 L179.1 490.2 L179.3 490.1 L179.6 490.1 L179.8 490.1 L180.1 490.0 L180.3 490.0 L180.5 490.0 L180.8 489.9 L181.0 489.9 L181.3 489.9 L181.5 489.8 L181.8 489.8 L182.0 489.8 L182.3 489.7 L182.5 489.7 L182.8 489.7 L183.0 489.6 L183.2 489.6 L183.5 489.6 L183.7 489.6 L183.8 489.5 L184.0 489.5 L184.2 489.5 L184.5 489.5 L184.7 489.4 L185.0 489.4 L185.2 489.4 L185.5 489.3 L185.7 489.3 L185.9 489.3 L186.2 489.2 L186.4 489.2 L186.7 489.2 L186.9 489.1 L187.2 489.1 L187.4 489.1 L187.7 489.0 L187.9 489.0 L188.2 489.0 L188.4 488.9 L188.6 488.9 L188.9 488.9 L189.1 488.8 L189.4 488.8 L189.6 488.8 L189.9 488.8 L190.1 488.7 L190.4 488.7 L190.6 488.7 L190.8 488.6 L191.1 488.6 L191.3 488.6 L191.6 488.5 L191.8 488.5 L192.1 488.5 L192.3 488.4 L192.6 488.4 L192.8 488.4 L193.1 488.3 L193.3 488.3 L193.5 488.3 L193.8 488.2 L194.0 488.2 L194.3 488.2 L194.5 488.1 L194.8 488.1 L195.0 488.1 L195.3 488.0 L195.5 488.0 L195.8 488.0 L196.0 487.9" fill="none" stroke="#d8612a" stroke-width="1.35" stroke-linejoin="round" stroke-linecap="round"/>
<clipPath id="cd"><rect x="404.8" y="367.4" width="147.59999999999997" height="161.89999999999998"/></clipPath>
<line x1="463.00" y1="367.40" x2="463.00" y2="529.30" stroke="#555" stroke-width="0.9" stroke-dasharray="1.1 1.1"/>
<line x1="522.50" y1="367.40" x2="522.50" y2="529.30" stroke="#555" stroke-width="0.9" stroke-dasharray="1.1 1.1"/>
<line x1="404.80" y1="518.20" x2="552.40" y2="518.20" stroke="#555" stroke-width="0.9" stroke-dasharray="1.6 1.1 0.6 1.1"/>
<line x1="404.80" y1="458.20" x2="552.40" y2="458.20" stroke="#555" stroke-width="0.9" stroke-dasharray="1.6 1.1 0.6 1.1"/>
<line x1="404.80" y1="398.20" x2="552.40" y2="398.20" stroke="#555" stroke-width="0.9" stroke-dasharray="1.6 1.1 0.6 1.1"/>
<g clip-path="url(#cd)">
<path d="M415.4 185.8 L415.9 309.5 L416.1 329.3 L416.5 344.3 L417.0 357.3 L417.2 360.2 L417.5 364.0 L418.0 368.6 L418.6 372.0 L419.0 374.0 L419.1 374.6 L419.6 376.9 L420.2 378.8 L420.7 380.4 L421.2 381.9 L421.4 382.3 L421.7 383.3 L422.3 384.7 L422.8 385.9 L423.3 387.0 L423.9 388.1 L424.4 389.1 L424.9 390.0 L424.9 390.0 L425.4 390.9 L426.0 391.8 L426.5 392.6 L427.0 393.4 L427.6 394.1 L428.1 394.8 L428.6 395.5 L429.1 396.1 L429.7 396.6 L429.7 396.7 L430.2 397.2 L430.7 397.7 L431.3 398.2 L431.8 398.7 L432.3 399.2 L432.8 399.6 L433.4 400.0 L433.9 400.4 L434.4 400.8 L434.9 401.1 L435.3 401.4 L435.5 401.4 L436.0 401.7 L436.5 402.0 L437.1 402.3 L437.6 402.6 L438.1 402.8 L438.6 403.1 L439.2 403.3 L439.7 403.5 L440.2 403.7 L440.4 403.7 L440.8 403.9 L441.3 404.0 L441.8 404.2 L442.3 404.3 L442.9 404.5 L443.4 404.6 L443.9 404.8 L444.5 404.9 L445.0 405.0 L445.5 405.1 L445.7 405.2 L446.0 405.2 L446.6 405.3 L447.1 405.4 L447.6 405.5 L448.2 405.6 L448.7 405.7 L449.2 405.8 L449.7 405.9 L450.3 405.9 L450.8 406.0 L451.1 406.0 L451.3 406.1 L451.9 406.1 L452.4 406.2 L452.9 406.3 L453.4 406.3 L454.0 406.4 L454.5 406.4 L455.0 406.5 L455.6 406.5 L456.1 406.5 L456.2 406.5 L456.6 406.5 L457.1 406.5 L457.7 406.5 L458.2 406.5 L458.7 406.4 L459.3 406.4 L459.8 406.4 L460.3 406.4 L460.8 406.4 L461.4 406.4 L461.9 406.4 L462.4 406.5 L463.0 406.5 L463.0 406.5 L463.5 406.5 L464.0 406.6 L464.5 406.7 L464.8 406.7 L465.1 406.8 L465.6 406.9 L466.1 406.9 L466.6 406.9 L466.7 406.9 L467.2 406.8 L467.7 406.7 L467.8 406.7 L468.2 406.5 L468.8 406.4 L469.3 406.2 L469.8 405.9 L470.1 405.8 L470.4 405.6 L470.9 405.2 L471.4 404.5 L471.9 403.6 L471.9 403.6 L472.5 402.4 L473.0 401.1 L473.4 399.6 L473.5 399.2 L474.1 397.5 L474.6 396.1 L474.6 396.1 L475.1 395.0 L475.6 395.1 L475.8 395.3 L476.2 396.0 L476.7 397.1 L477.2 398.4 L477.6 399.4 L477.7 399.8 L478.3 400.8 L478.8 401.6 L479.3 402.2 L479.7 402.5 L479.9 402.7 L480.4 403.0 L480.9 403.2 L481.4 403.4 L482.0 403.5 L482.0 403.5 L482.5 403.6 L483.0 403.6 L483.6 403.5 L484.1 403.2 L484.4 403.0 L484.6 402.9 L485.1 402.5 L485.7 402.1 L486.2 401.6 L486.7 401.1 L486.8 401.1 L487.3 400.6 L487.8 400.1 L488.3 399.6 L488.6 399.4 L488.8 399.2 L489.4 399.0 L489.8 398.9 L489.9 398.9 L490.4 398.9 L491.0 399.1 L491.3 399.5 L491.5 399.8 L492.0 400.5 L492.5 401.3 L493.1 402.3 L493.3 402.9 L493.6 403.3 L494.1 404.1 L494.7 404.8 L495.2 405.4 L495.7 406.0 L495.7 406.0 L496.2 406.4 L496.8 406.6 L497.3 406.9 L497.8 407.1 L498.1 407.1 L498.4 407.2 L498.9 407.3 L499.4 407.2 L499.9 407.0 L500.5 406.8 L500.5 406.8 L501.0 406.6 L501.5 406.4 L502.1 406.1 L502.6 405.8 L502.6 405.8 L503.1 405.7 L503.6 405.8 L504.1 405.9 L504.2 405.9 L504.7 406.2 L505.2 406.4 L505.8 406.8 L506.3 407.3 L506.4 407.4 L506.8 407.7 L507.3 407.9 L507.9 408.2 L508.4 408.4 L508.9 408.6 L509.5 408.7 L510.0 408.9 L510.0 408.9 L510.5 409.0 L511.0 409.1 L511.6 409.2 L512.1 409.3 L512.6 409.4 L513.1 409.5 L513.7 409.6 L514.2 409.7 L514.7 409.8 L515.3 409.8 L515.4 409.8 L515.8 409.9 L516.3 409.9 L516.8 409.9 L517.4 410.0 L517.9 410.0 L518.4 410.0 L519.0 410.0 L519.5 410.1 L520.0 410.1 L520.5 410.1 L521.1 410.1 L521.6 410.1 L522.1 410.1 L522.7 410.1 L523.2 410.2 L523.7 410.2 L524.2 410.2 L524.8 410.2 L525.3 410.2 L525.8 410.2 L526.4 410.2 L526.9 410.2 L527.4 410.3 L527.9 410.3 L528.5 410.3 L529.0 410.3 L529.5 410.3 L530.1 410.3 L530.6 410.3 L531.1 410.3 L531.6 410.3 L532.2 410.4 L532.7 410.4 L533.2 410.4 L533.8 410.4 L534.3 410.4 L534.8 410.4 L535.3 410.4 L535.9 410.4 L536.4 410.5 L536.9 410.5 L537.5 410.5 L538.0 410.5 L538.5 410.5 L539.0 410.5 L539.6 410.5 L540.1 410.5 L540.6 410.5 L541.2 410.6 L541.7 410.6 L542.2 410.6 L542.7 410.6 L543.3 410.6 L543.8 410.6 L544.3 410.6 L544.9 410.6 L545.4 410.6 L545.9 410.7 L546.4 410.7 L547.0 410.7 L547.5 410.7 L548.0 410.7 L548.6 410.7 L549.1 410.7 L549.6 410.7 L550.1 410.8 L550.7 410.8 L551.2 410.8 L551.7 410.8 L552.2 410.8" fill="none" stroke="#f79a5c" stroke-width="1.0" stroke-linejoin="round"/>
<path d="M415.4 179.8 L415.9 314.3 L416.1 335.8 L416.5 352.0 L417.0 366.2 L417.2 369.4 L417.5 373.5 L418.0 378.5 L418.6 382.2 L419.0 384.4 L419.1 385.1 L419.6 387.5 L420.2 389.6 L420.7 391.4 L421.2 393.0 L421.4 393.4 L421.7 394.5 L422.3 395.9 L422.8 397.3 L423.3 398.5 L423.9 399.7 L424.4 400.8 L424.9 401.8 L424.9 401.8 L425.4 402.7 L426.0 403.7 L426.5 404.6 L427.0 405.4 L427.6 406.2 L428.1 407.0 L428.6 407.7 L429.1 408.4 L429.7 409.0 L429.7 409.0 L430.2 409.6 L430.7 410.1 L431.3 410.7 L431.8 411.2 L432.3 411.7 L432.8 412.2 L433.4 412.6 L433.9 413.1 L434.4 413.5 L434.9 413.8 L435.3 414.1 L435.5 414.2 L436.0 414.5 L436.5 414.8 L437.1 415.1 L437.6 415.4 L438.1 415.7 L438.6 415.9 L439.2 416.2 L439.7 416.4 L440.2 416.6 L440.4 416.7 L440.8 416.8 L441.3 417.0 L441.8 417.2 L442.3 417.3 L442.9 417.5 L443.4 417.7 L443.9 417.8 L444.5 417.9 L445.0 418.1 L445.5 418.2 L445.7 418.2 L446.0 418.3 L446.6 418.4 L447.1 418.5 L447.6 418.6 L448.2 418.7 L448.7 418.8 L449.2 418.9 L449.7 419.0 L450.3 419.1 L450.8 419.2 L451.1 419.2 L451.3 419.2 L451.9 419.3 L452.4 419.4 L452.9 419.4 L453.4 419.5 L454.0 419.6 L454.5 419.6 L455.0 419.6 L455.6 419.7 L456.1 419.7 L456.2 419.7 L456.6 419.7 L457.1 419.7 L457.7 419.7 L458.2 419.6 L458.7 419.6 L459.3 419.6 L459.8 419.6 L460.3 419.6 L460.8 419.6 L461.4 419.6 L461.9 419.6 L462.4 419.6 L463.0 419.6 L463.0 419.6 L463.5 419.7 L464.0 419.8 L464.5 419.8 L464.8 419.9 L465.1 419.9 L465.6 420.0 L466.1 420.0 L466.6 420.0 L466.7 420.0 L467.2 419.9 L467.7 419.7 L467.8 419.7 L468.2 419.6 L468.8 419.4 L469.3 419.2 L469.8 418.9 L470.1 418.7 L470.4 418.5 L470.9 418.0 L471.4 417.3 L471.9 416.2 L471.9 416.2 L472.5 414.9 L473.0 413.3 L473.4 411.7 L473.5 411.2 L474.1 409.3 L474.6 407.7 L474.6 407.6 L475.1 406.4 L475.6 406.5 L475.8 406.8 L476.2 407.6 L476.7 408.8 L477.2 410.2 L477.6 411.3 L477.7 411.8 L478.3 413.0 L478.8 413.8 L479.3 414.5 L479.7 414.8 L479.9 415.0 L480.4 415.4 L480.9 415.6 L481.4 415.8 L482.0 415.9 L482.0 416.0 L482.5 416.0 L483.0 416.0 L483.6 415.9 L484.1 415.5 L484.4 415.3 L484.6 415.1 L485.1 414.7 L485.7 414.3 L486.2 413.7 L486.7 413.1 L486.8 413.1 L487.3 412.6 L487.8 412.0 L488.3 411.4 L488.6 411.1 L488.8 410.9 L489.4 410.7 L489.8 410.6 L489.9 410.6 L490.4 410.6 L491.0 410.8 L491.3 411.2 L491.5 411.5 L492.0 412.3 L492.5 413.2 L493.1 414.4 L493.3 415.0 L493.6 415.5 L494.1 416.4 L494.7 417.2 L495.2 417.8 L495.7 418.4 L495.7 418.4 L496.2 418.9 L496.8 419.2 L497.3 419.4 L497.8 419.6 L498.1 419.7 L498.4 419.8 L498.9 419.9 L499.4 419.8 L499.9 419.6 L500.5 419.3 L500.5 419.3 L501.0 419.0 L501.5 418.8 L502.1 418.5 L502.6 418.2 L502.6 418.2 L503.1 418.0 L503.6 418.1 L504.1 418.2 L504.2 418.3 L504.7 418.5 L505.2 418.8 L505.8 419.3 L506.3 419.7 L506.4 419.9 L506.8 420.2 L507.3 420.5 L507.9 420.7 L508.4 420.9 L508.9 421.2 L509.5 421.3 L510.0 421.5 L510.0 421.5 L510.5 421.6 L511.0 421.8 L511.6 421.9 L512.1 422.0 L512.6 422.1 L513.1 422.2 L513.7 422.3 L514.2 422.3 L514.7 422.4 L515.3 422.5 L515.4 422.5 L515.8 422.5 L516.3 422.5 L516.8 422.6 L517.4 422.6 L517.9 422.6 L518.4 422.6 L519.0 422.7 L519.5 422.7 L520.0 422.7 L520.5 422.7 L521.1 422.7 L521.6 422.7 L522.1 422.7 L522.7 422.7 L523.2 422.8 L523.7 422.8 L524.2 422.8 L524.8 422.8 L525.3 422.8 L525.8 422.8 L526.4 422.8 L526.9 422.8 L527.4 422.9 L527.9 422.9 L528.5 422.9 L529.0 422.9 L529.5 422.9 L530.1 422.9 L530.6 422.9 L531.1 422.9 L531.6 422.9 L532.2 423.0 L532.7 423.0 L533.2 423.0 L533.8 423.0 L534.3 423.0 L534.8 423.0 L535.3 423.0 L535.9 423.0 L536.4 423.1 L536.9 423.1 L537.5 423.1 L538.0 423.1 L538.5 423.1 L539.0 423.1 L539.6 423.1 L540.1 423.1 L540.6 423.1 L541.2 423.2 L541.7 423.2 L542.2 423.2 L542.7 423.2 L543.3 423.2 L543.8 423.2 L544.3 423.2 L544.9 423.2 L545.4 423.2 L545.9 423.3 L546.4 423.3 L547.0 423.3 L547.5 423.3 L548.0 423.3 L548.6 423.3 L549.1 423.3 L549.6 423.3 L550.1 423.4 L550.7 423.4 L551.2 423.4 L551.7 423.4 L552.2 423.4" fill="none" stroke="#ee5b3b" stroke-width="1.0" stroke-linejoin="round"/>
<path d="M415.4 191.4 L415.9 325.9 L416.1 347.4 L416.5 363.7 L417.0 377.9 L417.2 381.0 L417.5 385.2 L418.0 390.2 L418.6 393.8 L419.0 396.0 L419.1 396.7 L419.6 399.2 L420.2 401.2 L420.7 403.0 L421.2 404.6 L421.4 405.0 L421.7 406.2 L422.3 407.6 L422.8 408.9 L423.3 410.2 L423.9 411.3 L424.4 412.4 L424.9 413.4 L424.9 413.4 L425.4 414.4 L426.0 415.3 L426.5 416.2 L427.0 417.0 L427.6 417.8 L428.1 418.6 L428.6 419.3 L429.1 420.0 L429.7 420.6 L429.7 420.6 L430.2 421.2 L430.7 421.8 L431.3 422.3 L431.8 422.9 L432.3 423.4 L432.8 423.8 L433.4 424.3 L433.9 424.7 L434.4 425.1 L434.9 425.5 L435.3 425.7 L435.5 425.8 L436.0 426.2 L436.5 426.5 L437.1 426.8 L437.6 427.1 L438.1 427.3 L438.6 427.6 L439.2 427.8 L439.7 428.1 L440.2 428.3 L440.4 428.3 L440.8 428.5 L441.3 428.6 L441.8 428.8 L442.3 429.0 L442.9 429.1 L443.4 429.3 L443.9 429.4 L444.5 429.6 L445.0 429.7 L445.5 429.8 L445.7 429.9 L446.0 429.9 L446.6 430.1 L447.1 430.2 L447.6 430.3 L448.2 430.4 L448.7 430.5 L449.2 430.6 L449.7 430.6 L450.3 430.7 L450.8 430.8 L451.1 430.8 L451.3 430.9 L451.9 430.9 L452.4 431.0 L452.9 431.1 L453.4 431.1 L454.0 431.2 L454.5 431.2 L455.0 431.3 L455.6 431.3 L456.1 431.3 L456.2 431.3 L456.6 431.3 L457.1 431.3 L457.7 431.3 L458.2 431.3 L458.7 431.3 L459.3 431.2 L459.8 431.2 L460.3 431.2 L460.8 431.2 L461.4 431.2 L461.9 431.2 L462.4 431.2 L463.0 431.3 L463.0 431.3 L463.5 431.3 L464.0 431.4 L464.5 431.4 L464.8 431.5 L465.1 431.5 L465.6 431.6 L466.1 431.6 L466.6 431.6 L466.7 431.6 L467.2 431.4 L467.7 431.3 L467.8 431.3 L468.2 431.1 L468.8 430.9 L469.3 430.7 L469.8 430.3 L470.1 430.1 L470.4 429.9 L470.9 429.4 L471.4 428.6 L471.9 427.4 L471.9 427.4 L472.5 426.0 L473.0 424.3 L473.4 422.5 L473.5 422.1 L474.1 420.0 L474.6 418.2 L474.6 418.2 L475.1 416.9 L475.6 417.0 L475.8 417.3 L476.2 418.1 L476.7 419.4 L477.2 420.9 L477.6 422.1 L477.7 422.6 L478.3 423.9 L478.8 424.7 L479.3 425.5 L479.7 425.9 L479.9 426.1 L480.4 426.4 L480.9 426.7 L481.4 426.9 L482.0 427.0 L482.0 427.0 L482.5 427.1 L483.0 427.1 L483.6 426.9 L484.1 426.6 L484.4 426.3 L484.6 426.1 L485.1 425.7 L485.7 425.2 L486.2 424.6 L486.7 423.9 L486.8 423.9 L487.3 423.3 L487.8 422.7 L488.3 422.1 L488.6 421.8 L488.8 421.5 L489.4 421.3 L489.8 421.2 L489.9 421.2 L490.4 421.1 L491.0 421.4 L491.3 421.8 L491.5 422.1 L492.0 423.0 L492.5 424.0 L493.1 425.2 L493.3 425.9 L493.6 426.4 L494.1 427.4 L494.7 428.2 L495.2 428.9 L495.7 429.5 L495.7 429.5 L496.2 430.0 L496.8 430.3 L497.3 430.6 L497.8 430.8 L498.1 430.9 L498.4 430.9 L498.9 431.0 L499.4 430.9 L499.9 430.7 L500.5 430.4 L500.5 430.4 L501.0 430.1 L501.5 429.8 L502.1 429.5 L502.6 429.2 L502.6 429.2 L503.1 429.0 L503.6 429.0 L504.1 429.2 L504.2 429.2 L504.7 429.5 L505.2 429.8 L505.8 430.3 L506.3 430.8 L506.4 430.9 L506.8 431.2 L507.3 431.6 L507.9 431.8 L508.4 432.1 L508.9 432.3 L509.5 432.5 L510.0 432.6 L510.0 432.6 L510.5 432.8 L511.0 432.9 L511.6 433.0 L512.1 433.1 L512.6 433.2 L513.1 433.3 L513.7 433.4 L514.2 433.5 L514.7 433.5 L515.3 433.6 L515.4 433.6 L515.8 433.6 L516.3 433.7 L516.8 433.7 L517.4 433.7 L517.9 433.7 L518.4 433.7 L519.0 433.8 L519.5 433.8 L520.0 433.8 L520.5 433.8 L521.1 433.8 L521.6 433.8 L522.1 433.8 L522.7 433.8 L523.2 433.9 L523.7 433.9 L524.2 433.9 L524.8 433.9 L525.3 433.9 L525.8 433.9 L526.4 433.9 L526.9 433.9 L527.4 434.0 L527.9 434.0 L528.5 434.0 L529.0 434.0 L529.5 434.0 L530.1 434.0 L530.6 434.0 L531.1 434.0 L531.6 434.0 L532.2 434.1 L532.7 434.1 L533.2 434.1 L533.8 434.1 L534.3 434.1 L534.8 434.1 L535.3 434.1 L535.9 434.1 L536.4 434.2 L536.9 434.2 L537.5 434.2 L538.0 434.2 L538.5 434.2 L539.0 434.2 L539.6 434.2 L540.1 434.2 L540.6 434.2 L541.2 434.3 L541.7 434.3 L542.2 434.3 L542.7 434.3 L543.3 434.3 L543.8 434.3 L544.3 434.3 L544.9 434.3 L545.4 434.3 L545.9 434.4 L546.4 434.4 L547.0 434.4 L547.5 434.4 L548.0 434.4 L548.6 434.4 L549.1 434.4 L549.6 434.4 L550.1 434.5 L550.7 434.5 L551.2 434.5 L551.7 434.5 L552.2 434.5" fill="none" stroke="#2b2b2b" stroke-width="1.1" stroke-linejoin="round"/>
<path d="M404.80 443.32 L405.70 443.32 L405.90 362.40" fill="none" stroke="#7a75cf" stroke-width="0.7" stroke-linejoin="round"/>
<path d="M415.4 203.3 L415.9 337.8 L416.1 359.3 L416.5 375.6 L417.0 389.8 L417.2 392.9 L417.5 397.0 L418.0 402.1 L418.6 405.7 L419.0 407.9 L419.1 408.6 L419.6 411.0 L420.2 413.1 L420.7 414.9 L421.2 416.5 L421.4 416.9 L421.7 418.0 L422.3 419.5 L422.8 420.8 L423.3 422.0 L423.9 423.2 L424.4 424.3 L424.9 425.3 L424.9 425.3 L425.4 426.3 L426.0 427.2 L426.5 428.1 L427.0 428.9 L427.6 429.7 L428.1 430.5 L428.6 431.2 L429.1 431.9 L429.7 432.5 L429.7 432.5 L430.2 433.1 L430.7 433.7 L431.3 434.2 L431.8 434.7 L432.3 435.2 L432.8 435.7 L433.4 436.2 L433.9 436.6 L434.4 437.0 L434.9 437.4 L435.3 437.6 L435.5 437.7 L436.0 438.0 L436.5 438.4 L437.1 438.7 L437.6 438.9 L438.1 439.2 L438.6 439.5 L439.2 439.7 L439.7 439.9 L440.2 440.1 L440.4 440.2 L440.8 440.3 L441.3 440.5 L441.8 440.7 L442.3 440.9 L442.9 441.0 L443.4 441.2 L443.9 441.3 L444.5 441.5 L445.0 441.6 L445.5 441.7 L445.7 441.8 L446.0 441.8 L446.6 441.9 L447.1 442.0 L447.6 442.2 L448.2 442.3 L448.7 442.4 L449.2 442.4 L449.7 442.5 L450.3 442.6 L450.8 442.7 L451.1 442.7 L451.3 442.7 L451.9 442.8 L452.4 442.9 L452.9 443.0 L453.4 443.0 L454.0 443.1 L454.5 443.1 L455.0 443.2 L455.6 443.2 L456.1 443.2 L456.2 443.2 L456.6 443.2 L457.1 443.2 L457.7 443.2 L458.2 443.2 L458.7 443.1 L459.3 443.1 L459.8 443.1 L460.3 443.1 L460.8 443.1 L461.4 443.1 L461.9 443.1 L462.4 443.1 L463.0 443.1 L463.0 443.1 L463.5 443.2 L464.0 443.2 L464.5 443.3 L464.8 443.3 L465.1 443.4 L465.6 443.5 L466.1 443.5 L466.6 443.4 L466.7 443.4 L467.2 443.3 L467.7 443.1 L467.8 443.1 L468.2 443.0 L468.8 442.8 L469.3 442.5 L469.8 442.2 L470.1 441.9 L470.4 441.8 L470.9 441.2 L471.4 440.4 L471.9 439.3 L471.9 439.2 L472.5 437.8 L473.0 436.1 L473.4 434.4 L473.5 433.9 L474.1 431.8 L474.6 430.1 L474.6 430.0 L475.1 428.7 L475.6 428.8 L475.8 429.1 L476.2 429.9 L476.7 431.2 L477.2 432.8 L477.6 433.9 L477.7 434.4 L478.3 435.7 L478.8 436.6 L479.3 437.3 L479.7 437.7 L479.9 437.9 L480.4 438.3 L480.9 438.5 L481.4 438.7 L482.0 438.8 L482.0 438.8 L482.5 438.9 L483.0 438.9 L483.6 438.7 L484.1 438.4 L484.4 438.1 L484.6 437.9 L485.1 437.5 L485.7 437.0 L486.2 436.4 L486.7 435.7 L486.8 435.7 L487.3 435.1 L487.8 434.5 L488.3 433.9 L488.6 433.6 L488.8 433.3 L489.4 433.0 L489.8 433.0 L489.9 433.0 L490.4 432.9 L491.0 433.2 L491.3 433.6 L491.5 433.9 L492.0 434.7 L492.5 435.8 L493.1 437.0 L493.3 437.6 L493.6 438.2 L494.1 439.2 L494.7 439.9 L495.2 440.7 L495.7 441.3 L495.7 441.3 L496.2 441.8 L496.8 442.1 L497.3 442.3 L497.8 442.6 L498.1 442.6 L498.4 442.7 L498.9 442.8 L499.4 442.7 L499.9 442.4 L500.5 442.1 L500.5 442.1 L501.0 441.9 L501.5 441.6 L502.1 441.2 L502.6 440.9 L502.6 440.9 L503.1 440.7 L503.6 440.8 L504.1 440.9 L504.2 441.0 L504.7 441.2 L505.2 441.6 L505.8 442.0 L506.3 442.5 L506.4 442.7 L506.8 443.0 L507.3 443.3 L507.9 443.6 L508.4 443.8 L508.9 444.0 L509.5 444.2 L510.0 444.4 L510.0 444.4 L510.5 444.5 L511.0 444.6 L511.6 444.7 L512.1 444.8 L512.6 444.9 L513.1 445.0 L513.7 445.1 L514.2 445.2 L514.7 445.3 L515.3 445.3 L515.4 445.3 L515.8 445.3 L516.3 445.4 L516.8 445.4 L517.4 445.4 L517.9 445.4 L518.4 445.4 L519.0 445.5 L519.5 445.5 L520.0 445.5 L520.5 445.5 L521.1 445.5 L521.6 445.5 L522.1 445.5 L522.7 445.5 L523.2 445.6 L523.7 445.6 L524.2 445.6 L524.8 445.6 L525.3 445.6 L525.8 445.6 L526.4 445.6 L526.9 445.6 L527.4 445.7 L527.9 445.7 L528.5 445.7 L529.0 445.7 L529.5 445.7 L530.1 445.7 L530.6 445.7 L531.1 445.7 L531.6 445.7 L532.2 445.8 L532.7 445.8 L533.2 445.8 L533.8 445.8 L534.3 445.8 L534.8 445.8 L535.3 445.8 L535.9 445.8 L536.4 445.9 L536.9 445.9 L537.5 445.9 L538.0 445.9 L538.5 445.9 L539.0 445.9 L539.6 445.9 L540.1 445.9 L540.6 445.9 L541.2 446.0 L541.7 446.0 L542.2 446.0 L542.7 446.0 L543.3 446.0 L543.8 446.0 L544.3 446.0 L544.9 446.0 L545.4 446.0 L545.9 446.1 L546.4 446.1 L547.0 446.1 L547.5 446.1 L548.0 446.1 L548.6 446.1 L549.1 446.1 L549.6 446.1 L550.1 446.2 L550.7 446.2 L551.2 446.2 L551.7 446.2 L552.2 446.2" fill="none" stroke="#7a75cf" stroke-width="1.0" stroke-linejoin="round"/>
<path d="M415.4 215.4 L415.9 349.9 L416.1 371.4 L416.5 387.7 L417.0 401.9 L417.2 405.0 L417.5 409.2 L418.0 414.2 L418.6 417.8 L419.0 420.0 L419.1 420.7 L419.6 423.2 L420.2 425.2 L420.7 427.0 L421.2 428.6 L421.4 429.0 L421.7 430.2 L422.3 431.6 L422.8 432.9 L423.3 434.2 L423.9 435.3 L424.4 436.4 L424.9 437.4 L424.9 437.4 L425.4 438.4 L426.0 439.3 L426.5 440.2 L427.0 441.0 L427.6 441.8 L428.1 442.6 L428.6 443.3 L429.1 444.0 L429.7 444.6 L429.7 444.6 L430.2 445.2 L430.7 445.8 L431.3 446.3 L431.8 446.9 L432.3 447.4 L432.8 447.8 L433.4 448.3 L433.9 448.7 L434.4 449.1 L434.9 449.5 L435.3 449.7 L435.5 449.8 L436.0 450.2 L436.5 450.5 L437.1 450.8 L437.6 451.1 L438.1 451.3 L438.6 451.6 L439.2 451.8 L439.7 452.1 L440.2 452.3 L440.4 452.3 L440.8 452.5 L441.3 452.6 L441.8 452.8 L442.3 453.0 L442.9 453.1 L443.4 453.3 L443.9 453.4 L444.5 453.6 L445.0 453.7 L445.5 453.8 L445.7 453.9 L446.0 453.9 L446.6 454.1 L447.1 454.2 L447.6 454.3 L448.2 454.4 L448.7 454.5 L449.2 454.6 L449.7 454.6 L450.3 454.7 L450.8 454.8 L451.1 454.8 L451.3 454.9 L451.9 454.9 L452.4 455.0 L452.9 455.1 L453.4 455.1 L454.0 455.2 L454.5 455.2 L455.0 455.3 L455.6 455.3 L456.1 455.3 L456.2 455.3 L456.6 455.3 L457.1 455.3 L457.7 455.3 L458.2 455.3 L458.7 455.3 L459.3 455.2 L459.8 455.2 L460.3 455.2 L460.8 455.2 L461.4 455.2 L461.9 455.2 L462.4 455.2 L463.0 455.2 L463.0 455.2 L463.5 455.3 L464.0 455.3 L464.5 455.4 L464.8 455.5 L465.1 455.5 L465.6 455.6 L466.1 455.6 L466.6 455.5 L466.7 455.5 L467.2 455.4 L467.7 455.2 L467.8 455.2 L468.2 455.1 L468.8 454.9 L469.3 454.6 L469.8 454.3 L470.1 454.0 L470.4 453.9 L470.9 453.3 L471.4 452.5 L471.9 451.4 L471.9 451.3 L472.5 449.9 L473.0 448.2 L473.4 446.5 L473.5 446.0 L474.1 443.9 L474.6 442.2 L474.6 442.1 L475.1 440.8 L475.6 440.9 L475.8 441.2 L476.2 442.0 L476.7 443.3 L477.2 444.9 L477.6 446.0 L477.7 446.5 L478.3 447.8 L478.8 448.6 L479.3 449.4 L479.7 449.8 L479.9 450.0 L480.4 450.3 L480.9 450.6 L481.4 450.8 L482.0 450.9 L482.0 450.9 L482.5 451.0 L483.0 451.0 L483.6 450.8 L484.1 450.4 L484.4 450.2 L484.6 450.0 L485.1 449.6 L485.7 449.1 L486.2 448.5 L486.7 447.8 L486.8 447.7 L487.3 447.2 L487.8 446.6 L488.3 445.9 L488.6 445.6 L488.8 445.4 L489.4 445.1 L489.8 445.0 L489.9 445.0 L490.4 445.0 L491.0 445.3 L491.3 445.6 L491.5 446.0 L492.0 446.8 L492.5 447.8 L493.1 449.0 L493.3 449.7 L493.6 450.2 L494.1 451.2 L494.7 452.0 L495.2 452.7 L495.7 453.3 L495.7 453.4 L496.2 453.8 L496.8 454.1 L497.3 454.4 L497.8 454.6 L498.1 454.7 L498.4 454.8 L498.9 454.8 L499.4 454.7 L499.9 454.5 L500.5 454.2 L500.5 454.2 L501.0 453.9 L501.5 453.6 L502.1 453.3 L502.6 453.0 L502.6 452.9 L503.1 452.8 L503.6 452.8 L504.1 453.0 L504.2 453.0 L504.7 453.3 L505.2 453.6 L505.8 454.1 L506.3 454.6 L506.4 454.7 L506.8 455.0 L507.3 455.3 L507.9 455.6 L508.4 455.8 L508.9 456.0 L509.5 456.2 L510.0 456.4 L510.0 456.4 L510.5 456.5 L511.0 456.6 L511.6 456.7 L512.1 456.8 L512.6 456.9 L513.1 457.0 L513.7 457.1 L514.2 457.2 L514.7 457.3 L515.3 457.3 L515.4 457.3 L515.8 457.3 L516.3 457.4 L516.8 457.4 L517.4 457.4 L517.9 457.4 L518.4 457.4 L519.0 457.5 L519.5 457.5 L520.0 457.5 L520.5 457.5 L521.1 457.5 L521.6 457.5 L522.1 457.5 L522.7 457.5 L523.2 457.6 L523.7 457.6 L524.2 457.6 L524.8 457.6 L525.3 457.6 L525.8 457.6 L526.4 457.6 L526.9 457.6 L527.4 457.7 L527.9 457.7 L528.5 457.7 L529.0 457.7 L529.5 457.7 L530.1 457.7 L530.6 457.7 L531.1 457.7 L531.6 457.7 L532.2 457.8 L532.7 457.8 L533.2 457.8 L533.8 457.8 L534.3 457.8 L534.8 457.8 L535.3 457.8 L535.9 457.8 L536.4 457.9 L536.9 457.9 L537.5 457.9 L538.0 457.9 L538.5 457.9 L539.0 457.9 L539.6 457.9 L540.1 457.9 L540.6 457.9 L541.2 458.0 L541.7 458.0 L542.2 458.0 L542.7 458.0 L543.3 458.0 L543.8 458.0 L544.3 458.0 L544.9 458.0 L545.4 458.0 L545.9 458.1 L546.4 458.1 L547.0 458.1 L547.5 458.1 L548.0 458.1 L548.6 458.1 L549.1 458.1 L549.6 458.1 L550.1 458.2 L550.7 458.2 L551.2 458.2 L551.7 458.2 L552.2 458.2" fill="none" stroke="#5955a6" stroke-width="1.0" stroke-linejoin="round"/>
<path d="M404.80 467.20 L405.70 467.20 L405.90 362.40" fill="none" stroke="#5b8bdf" stroke-width="0.7" stroke-linejoin="round"/>
<path d="M415.4 227.2 L415.9 361.7 L416.1 383.2 L416.5 399.4 L417.0 413.6 L417.2 416.8 L417.5 420.9 L418.0 425.9 L418.6 429.6 L419.0 431.8 L419.1 432.5 L419.6 434.9 L420.2 437.0 L420.7 438.8 L421.2 440.4 L421.4 440.8 L421.7 441.9 L422.3 443.3 L422.8 444.7 L423.3 445.9 L423.9 447.1 L424.4 448.2 L424.9 449.2 L424.9 449.2 L425.4 450.1 L426.0 451.1 L426.5 452.0 L427.0 452.8 L427.6 453.6 L428.1 454.4 L428.6 455.1 L429.1 455.8 L429.7 456.4 L429.7 456.4 L430.2 457.0 L430.7 457.5 L431.3 458.1 L431.8 458.6 L432.3 459.1 L432.8 459.6 L433.4 460.0 L433.9 460.5 L434.4 460.9 L434.9 461.2 L435.3 461.5 L435.5 461.6 L436.0 461.9 L436.5 462.2 L437.1 462.5 L437.6 462.8 L438.1 463.1 L438.6 463.3 L439.2 463.6 L439.7 463.8 L440.2 464.0 L440.4 464.1 L440.8 464.2 L441.3 464.4 L441.8 464.6 L442.3 464.7 L442.9 464.9 L443.4 465.1 L443.9 465.2 L444.5 465.3 L445.0 465.5 L445.5 465.6 L445.7 465.6 L446.0 465.7 L446.6 465.8 L447.1 465.9 L447.6 466.0 L448.2 466.1 L448.7 466.2 L449.2 466.3 L449.7 466.4 L450.3 466.5 L450.8 466.6 L451.1 466.6 L451.3 466.6 L451.9 466.7 L452.4 466.8 L452.9 466.8 L453.4 466.9 L454.0 467.0 L454.5 467.0 L455.0 467.0 L455.6 467.1 L456.1 467.1 L456.2 467.1 L456.6 467.1 L457.1 467.1 L457.7 467.1 L458.2 467.0 L458.7 467.0 L459.3 467.0 L459.8 467.0 L460.3 467.0 L460.8 466.9 L461.4 466.9 L461.9 466.9 L462.4 466.9 L463.0 466.9 L463.0 466.9 L463.5 466.9 L464.0 467.0 L464.5 467.1 L464.8 467.1 L465.1 467.1 L465.6 467.2 L466.1 467.2 L466.6 467.1 L466.7 467.1 L467.2 467.0 L467.7 466.8 L467.8 466.8 L468.2 466.6 L468.8 466.4 L469.3 466.2 L469.8 465.8 L470.1 465.6 L470.4 465.4 L470.9 464.9 L471.4 464.0 L471.9 462.9 L471.9 462.9 L472.5 461.5 L473.0 459.8 L473.4 458.1 L473.5 457.6 L474.1 455.6 L474.6 453.8 L474.6 453.7 L475.1 452.5 L475.6 452.6 L475.8 452.8 L476.2 453.6 L476.7 454.9 L477.2 456.4 L477.6 457.5 L477.7 458.0 L478.3 459.2 L478.8 460.1 L479.3 460.8 L479.7 461.1 L479.9 461.3 L480.4 461.7 L480.9 461.9 L481.4 462.1 L482.0 462.2 L482.0 462.2 L482.5 462.3 L483.0 462.3 L483.6 462.0 L484.1 461.7 L484.4 461.4 L484.6 461.2 L485.1 460.8 L485.7 460.3 L486.2 459.7 L486.7 459.0 L486.8 459.0 L487.3 458.4 L487.8 457.8 L488.3 457.2 L488.6 456.8 L488.8 456.6 L489.4 456.3 L489.8 456.2 L489.9 456.2 L490.4 456.2 L491.0 456.4 L491.3 456.8 L491.5 457.1 L492.0 457.9 L492.5 458.9 L493.1 460.1 L493.3 460.7 L493.6 461.3 L494.1 462.2 L494.7 462.9 L495.2 463.6 L495.7 464.2 L495.7 464.2 L496.2 464.7 L496.8 465.0 L497.3 465.2 L497.8 465.4 L498.1 465.5 L498.4 465.5 L498.9 465.6 L499.4 465.5 L499.9 465.2 L500.5 464.9 L500.5 464.9 L501.0 464.6 L501.5 464.4 L502.1 464.0 L502.6 463.7 L502.6 463.7 L503.1 463.5 L503.6 463.5 L504.1 463.6 L504.2 463.7 L504.7 463.9 L505.2 464.2 L505.8 464.7 L506.3 465.2 L506.4 465.3 L506.8 465.6 L507.3 465.9 L507.9 466.1 L508.4 466.3 L508.9 466.5 L509.5 466.7 L510.0 466.8 L510.0 466.9 L510.5 467.0 L511.0 467.1 L511.6 467.2 L512.1 467.3 L512.6 467.3 L513.1 467.4 L513.7 467.5 L514.2 467.5 L514.7 467.6 L515.3 467.6 L515.4 467.6 L515.8 467.6 L516.3 467.7 L516.8 467.7 L517.4 467.7 L517.9 467.7 L518.4 467.7 L519.0 467.7 L519.5 467.7 L520.0 467.7 L520.5 467.7 L521.1 467.7 L521.6 467.7 L522.1 467.7 L522.7 467.7 L523.2 467.8 L523.7 467.8 L524.2 467.8 L524.8 467.8 L525.3 467.8 L525.8 467.8 L526.4 467.8 L526.9 467.8 L527.4 467.9 L527.9 467.9 L528.5 467.9 L529.0 467.9 L529.5 467.9 L530.1 467.9 L530.6 467.9 L531.1 467.9 L531.6 467.9 L532.2 468.0 L532.7 468.0 L533.2 468.0 L533.8 468.0 L534.3 468.0 L534.8 468.0 L535.3 468.0 L535.9 468.0 L536.4 468.1 L536.9 468.1 L537.5 468.1 L538.0 468.1 L538.5 468.1 L539.0 468.1 L539.6 468.1 L540.1 468.1 L540.6 468.1 L541.2 468.2 L541.7 468.2 L542.2 468.2 L542.7 468.2 L543.3 468.2 L543.8 468.2 L544.3 468.2 L544.9 468.2 L545.4 468.2 L545.9 468.3 L546.4 468.3 L547.0 468.3 L547.5 468.3 L548.0 468.3 L548.6 468.3 L549.1 468.3 L549.6 468.3 L550.1 468.4 L550.7 468.4 L551.2 468.4 L551.7 468.4 L552.2 468.4" fill="none" stroke="#5b8bdf" stroke-width="1.0" stroke-linejoin="round"/>
<path d="M415.4 239.4 L415.9 373.9 L416.1 395.4 L416.5 411.7 L417.0 425.9 L417.2 429.0 L417.5 433.2 L418.0 438.2 L418.6 441.8 L419.0 444.0 L419.1 444.7 L419.6 447.2 L420.2 449.2 L420.7 451.0 L421.2 452.6 L421.4 453.0 L421.7 454.2 L422.3 455.6 L422.8 456.9 L423.3 458.2 L423.9 459.3 L424.4 460.4 L424.9 461.4 L424.9 461.4 L425.4 462.4 L426.0 463.3 L426.5 464.2 L427.0 465.0 L427.6 465.8 L428.1 466.6 L428.6 467.3 L429.1 468.0 L429.7 468.6 L429.7 468.6 L430.2 469.2 L430.7 469.8 L431.3 470.3 L431.8 470.9 L432.3 471.4 L432.8 471.8 L433.4 472.3 L433.9 472.7 L434.4 473.1 L434.9 473.5 L435.3 473.7 L435.5 473.8 L436.0 474.2 L436.5 474.5 L437.1 474.8 L437.6 475.1 L438.1 475.3 L438.6 475.6 L439.2 475.8 L439.7 476.1 L440.2 476.3 L440.4 476.3 L440.8 476.5 L441.3 476.6 L441.8 476.8 L442.3 477.0 L442.9 477.1 L443.4 477.3 L443.9 477.4 L444.5 477.6 L445.0 477.7 L445.5 477.8 L445.7 477.9 L446.0 477.9 L446.6 478.1 L447.1 478.2 L447.6 478.3 L448.2 478.4 L448.7 478.5 L449.2 478.6 L449.7 478.6 L450.3 478.7 L450.8 478.8 L451.1 478.8 L451.3 478.9 L451.9 478.9 L452.4 479.0 L452.9 479.1 L453.4 479.1 L454.0 479.2 L454.5 479.2 L455.0 479.3 L455.6 479.3 L456.1 479.3 L456.2 479.3 L456.6 479.3 L457.1 479.3 L457.7 479.3 L458.2 479.3 L458.7 479.3 L459.3 479.2 L459.8 479.2 L460.3 479.2 L460.8 479.2 L461.4 479.2 L461.9 479.2 L462.4 479.2 L463.0 479.2 L463.0 479.2 L463.5 479.2 L464.0 479.2 L464.5 479.3 L464.8 479.3 L465.1 479.3 L465.6 479.4 L466.1 479.4 L466.6 479.3 L466.7 479.3 L467.2 479.2 L467.7 479.0 L467.8 479.0 L468.2 478.9 L468.8 478.7 L469.3 478.4 L469.8 478.1 L470.1 477.8 L470.4 477.6 L470.9 477.1 L471.4 476.3 L471.9 475.2 L471.9 475.2 L472.5 473.8 L473.0 472.1 L473.4 470.4 L473.5 470.0 L474.1 468.0 L474.6 466.3 L474.6 466.2 L475.1 465.0 L475.6 465.0 L475.8 465.3 L476.2 466.1 L476.7 467.3 L477.2 468.8 L477.6 469.9 L477.7 470.3 L478.3 471.6 L478.8 472.4 L479.3 473.1 L479.7 473.4 L479.9 473.6 L480.4 473.9 L480.9 474.1 L481.4 474.3 L482.0 474.5 L482.0 474.5 L482.5 474.5 L483.0 474.5 L483.6 474.3 L484.1 473.9 L484.4 473.7 L484.6 473.5 L485.1 473.1 L485.7 472.6 L486.2 472.0 L486.7 471.3 L486.8 471.3 L487.3 470.7 L487.8 470.1 L488.3 469.5 L488.6 469.2 L488.8 468.9 L489.4 468.7 L489.8 468.6 L489.9 468.6 L490.4 468.5 L491.0 468.8 L491.3 469.1 L491.5 469.4 L492.0 470.2 L492.5 471.2 L493.1 472.3 L493.3 472.9 L493.6 473.5 L494.1 474.4 L494.7 475.1 L495.2 475.8 L495.7 476.4 L495.7 476.4 L496.2 476.8 L496.8 477.1 L497.3 477.3 L497.8 477.5 L498.1 477.6 L498.4 477.7 L498.9 477.7 L499.4 477.6 L499.9 477.4 L500.5 477.1 L500.5 477.1 L501.0 476.8 L501.5 476.5 L502.1 476.1 L502.6 475.8 L502.6 475.8 L503.1 475.6 L503.6 475.7 L504.1 475.8 L504.2 475.8 L504.7 476.1 L505.2 476.4 L505.8 476.8 L506.3 477.3 L506.4 477.4 L506.8 477.7 L507.3 478.0 L507.9 478.2 L508.4 478.4 L508.9 478.6 L509.5 478.8 L510.0 478.9 L510.0 478.9 L510.5 479.0 L511.0 479.1 L511.6 479.2 L512.1 479.3 L512.6 479.4 L513.1 479.4 L513.7 479.5 L514.2 479.6 L514.7 479.6 L515.3 479.6 L515.4 479.6 L515.8 479.7 L516.3 479.7 L516.8 479.7 L517.4 479.7 L517.9 479.7 L518.4 479.7 L519.0 479.7 L519.5 479.7 L520.0 479.7 L520.5 479.7 L521.1 479.7 L521.6 479.7 L522.1 479.7 L522.7 479.7 L523.2 479.8 L523.7 479.8 L524.2 479.8 L524.8 479.8 L525.3 479.8 L525.8 479.8 L526.4 479.8 L526.9 479.8 L527.4 479.9 L527.9 479.9 L528.5 479.9 L529.0 479.9 L529.5 479.9 L530.1 479.9 L530.6 479.9 L531.1 479.9 L531.6 479.9 L532.2 480.0 L532.7 480.0 L533.2 480.0 L533.8 480.0 L534.3 480.0 L534.8 480.0 L535.3 480.0 L535.9 480.0 L536.4 480.1 L536.9 480.1 L537.5 480.1 L538.0 480.1 L538.5 480.1 L539.0 480.1 L539.6 480.1 L540.1 480.1 L540.6 480.1 L541.2 480.2 L541.7 480.2 L542.2 480.2 L542.7 480.2 L543.3 480.2 L543.8 480.2 L544.3 480.2 L544.9 480.2 L545.4 480.2 L545.9 480.3 L546.4 480.3 L547.0 480.3 L547.5 480.3 L548.0 480.3 L548.6 480.3 L549.1 480.3 L549.6 480.3 L550.1 480.4 L550.7 480.4 L551.2 480.4 L551.7 480.4 L552.2 480.4" fill="none" stroke="#4b8f4a" stroke-width="1.0" stroke-linejoin="round"/>
<path d="M415.4 251.3 L415.9 385.8 L416.1 407.3 L416.5 423.6 L417.0 437.8 L417.2 440.9 L417.5 445.0 L418.0 450.1 L418.6 453.7 L419.0 455.9 L419.1 456.6 L419.6 459.0 L420.2 461.1 L420.7 462.9 L421.2 464.5 L421.4 464.9 L421.7 466.0 L422.3 467.5 L422.8 468.8 L423.3 470.0 L423.9 471.2 L424.4 472.3 L424.9 473.3 L424.9 473.3 L425.4 474.3 L426.0 475.2 L426.5 476.1 L427.0 476.9 L427.6 477.7 L428.1 478.5 L428.6 479.2 L429.1 479.9 L429.7 480.5 L429.7 480.5 L430.2 481.1 L430.7 481.7 L431.3 482.2 L431.8 482.7 L432.3 483.2 L432.8 483.7 L433.4 484.2 L433.9 484.6 L434.4 485.0 L434.9 485.4 L435.3 485.6 L435.5 485.7 L436.0 486.0 L436.5 486.4 L437.1 486.7 L437.6 486.9 L438.1 487.2 L438.6 487.5 L439.2 487.7 L439.7 487.9 L440.2 488.1 L440.4 488.2 L440.8 488.3 L441.3 488.5 L441.8 488.7 L442.3 488.9 L442.9 489.0 L443.4 489.2 L443.9 489.3 L444.5 489.5 L445.0 489.6 L445.5 489.7 L445.7 489.8 L446.0 489.8 L446.6 489.9 L447.1 490.0 L447.6 490.2 L448.2 490.3 L448.7 490.4 L449.2 490.4 L449.7 490.5 L450.3 490.6 L450.8 490.7 L451.1 490.7 L451.3 490.7 L451.9 490.8 L452.4 490.9 L452.9 491.0 L453.4 491.0 L454.0 491.1 L454.5 491.1 L455.0 491.2 L455.6 491.2 L456.1 491.2 L456.2 491.2 L456.6 491.2 L457.1 491.2 L457.7 491.2 L458.2 491.2 L458.7 491.1 L459.3 491.1 L459.8 491.1 L460.3 491.1 L460.8 491.1 L461.4 491.1 L461.9 491.1 L462.4 491.1 L463.0 491.1 L463.0 491.1 L463.5 491.1 L464.0 491.1 L464.5 491.2 L464.8 491.2 L465.1 491.3 L465.6 491.4 L466.1 491.4 L466.6 491.3 L466.7 491.3 L467.2 491.2 L467.7 491.0 L467.8 491.0 L468.2 490.9 L468.8 490.7 L469.3 490.4 L469.8 490.1 L470.1 489.9 L470.4 489.7 L470.9 489.2 L471.4 488.4 L471.9 487.3 L471.9 487.3 L472.5 486.0 L473.0 484.4 L473.4 482.8 L473.5 482.3 L474.1 480.4 L474.6 478.7 L474.6 478.7 L475.1 477.5 L475.6 477.5 L475.8 477.8 L476.2 478.6 L476.7 479.7 L477.2 481.2 L477.6 482.2 L477.7 482.7 L478.3 483.9 L478.8 484.7 L479.3 485.4 L479.7 485.7 L479.9 485.9 L480.4 486.2 L480.9 486.4 L481.4 486.6 L482.0 486.8 L482.0 486.8 L482.5 486.8 L483.0 486.8 L483.6 486.6 L484.1 486.3 L484.4 486.0 L484.6 485.9 L485.1 485.4 L485.7 485.0 L486.2 484.4 L486.7 483.8 L486.8 483.7 L487.3 483.2 L487.8 482.6 L488.3 482.0 L488.6 481.7 L488.8 481.5 L489.4 481.2 L489.8 481.2 L489.9 481.1 L490.4 481.1 L491.0 481.3 L491.3 481.7 L491.5 482.0 L492.0 482.8 L492.5 483.7 L493.1 484.8 L493.3 485.4 L493.6 486.0 L494.1 486.8 L494.7 487.6 L495.2 488.2 L495.7 488.8 L495.7 488.8 L496.2 489.2 L496.8 489.5 L497.3 489.7 L497.8 489.9 L498.1 490.0 L498.4 490.1 L498.9 490.1 L499.4 490.0 L499.9 489.8 L500.5 489.5 L500.5 489.5 L501.0 489.2 L501.5 489.0 L502.1 488.6 L502.6 488.3 L502.6 488.3 L503.1 488.2 L503.6 488.2 L504.1 488.3 L504.2 488.4 L504.7 488.6 L505.2 488.9 L505.8 489.3 L506.3 489.8 L506.4 489.9 L506.8 490.2 L507.3 490.5 L507.9 490.7 L508.4 490.9 L508.9 491.1 L509.5 491.3 L510.0 491.4 L510.0 491.4 L510.5 491.5 L511.0 491.6 L511.6 491.7 L512.1 491.8 L512.6 491.9 L513.1 492.0 L513.7 492.0 L514.2 492.1 L514.7 492.2 L515.3 492.2 L515.4 492.2 L515.8 492.2 L516.3 492.2 L516.8 492.2 L517.4 492.2 L517.9 492.3 L518.4 492.3 L519.0 492.3 L519.5 492.3 L520.0 492.3 L520.5 492.3 L521.1 492.3 L521.6 492.3 L522.1 492.3 L522.7 492.3 L523.2 492.4 L523.7 492.4 L524.2 492.4 L524.8 492.4 L525.3 492.4 L525.8 492.4 L526.4 492.4 L526.9 492.4 L527.4 492.5 L527.9 492.5 L528.5 492.5 L529.0 492.5 L529.5 492.5 L530.1 492.5 L530.6 492.5 L531.1 492.5 L531.6 492.5 L532.2 492.6 L532.7 492.6 L533.2 492.6 L533.8 492.6 L534.3 492.6 L534.8 492.6 L535.3 492.6 L535.9 492.6 L536.4 492.7 L536.9 492.7 L537.5 492.7 L538.0 492.7 L538.5 492.7 L539.0 492.7 L539.6 492.7 L540.1 492.7 L540.6 492.7 L541.2 492.8 L541.7 492.8 L542.2 492.8 L542.7 492.8 L543.3 492.8 L543.8 492.8 L544.3 492.8 L544.9 492.8 L545.4 492.8 L545.9 492.9 L546.4 492.9 L547.0 492.9 L547.5 492.9 L548.0 492.9 L548.6 492.9 L549.1 492.9 L549.6 492.9 L550.1 493.0 L550.7 493.0 L551.2 493.0 L551.7 493.0 L552.2 493.0" fill="none" stroke="#79c864" stroke-width="1.0" stroke-linejoin="round"/>
<path d="M404.80 504.04 L405.70 504.04 L405.90 362.40" fill="none" stroke="#f58a50" stroke-width="0.7" stroke-linejoin="round"/>
<path d="M415.4 264.0 L415.9 398.5 L416.1 420.0 L416.5 436.3 L417.0 450.5 L417.2 453.6 L417.5 457.8 L418.0 462.8 L418.6 466.4 L419.0 468.6 L419.1 469.3 L419.6 471.8 L420.2 473.8 L420.7 475.6 L421.2 477.2 L421.4 477.6 L421.7 478.8 L422.3 480.2 L422.8 481.5 L423.3 482.8 L423.9 483.9 L424.4 485.0 L424.9 486.0 L424.9 486.0 L425.4 487.0 L426.0 487.9 L426.5 488.8 L427.0 489.6 L427.6 490.4 L428.1 491.2 L428.6 491.9 L429.1 492.6 L429.7 493.2 L429.7 493.2 L430.2 493.8 L430.7 494.4 L431.3 494.9 L431.8 495.5 L432.3 496.0 L432.8 496.4 L433.4 496.9 L433.9 497.3 L434.4 497.7 L434.9 498.1 L435.3 498.3 L435.5 498.4 L436.0 498.8 L436.5 499.1 L437.1 499.4 L437.6 499.7 L438.1 499.9 L438.6 500.2 L439.2 500.4 L439.7 500.7 L440.2 500.9 L440.4 500.9 L440.8 501.1 L441.3 501.2 L441.8 501.4 L442.3 501.6 L442.9 501.7 L443.4 501.9 L443.9 502.0 L444.5 502.2 L445.0 502.3 L445.5 502.4 L445.7 502.5 L446.0 502.5 L446.6 502.7 L447.1 502.8 L447.6 502.9 L448.2 503.0 L448.7 503.1 L449.2 503.2 L449.7 503.2 L450.3 503.3 L450.8 503.4 L451.1 503.4 L451.3 503.5 L451.9 503.5 L452.4 503.6 L452.9 503.7 L453.4 503.7 L454.0 503.8 L454.5 503.8 L455.0 503.9 L455.6 503.9 L456.1 503.9 L456.2 503.9 L456.6 503.9 L457.1 503.9 L457.7 503.9 L458.2 503.9 L458.7 503.9 L459.3 503.8 L459.8 503.8 L460.3 503.8 L460.8 503.8 L461.4 503.8 L461.9 503.8 L462.4 503.8 L463.0 503.8 L463.0 503.8 L463.5 503.8 L464.0 503.8 L464.5 503.9 L464.8 503.9 L465.1 503.9 L465.6 504.0 L466.1 504.0 L466.6 503.9 L466.7 503.9 L467.2 503.8 L467.7 503.6 L467.8 503.6 L468.2 503.4 L468.8 503.2 L469.3 503.0 L469.8 502.6 L470.1 502.4 L470.4 502.2 L470.9 501.7 L471.4 500.8 L471.9 499.7 L471.9 499.7 L472.5 498.3 L473.0 496.6 L473.4 494.9 L473.5 494.4 L474.1 492.3 L474.6 490.6 L474.6 490.5 L475.1 489.3 L475.6 489.3 L475.8 489.6 L476.2 490.4 L476.7 491.6 L477.2 493.2 L477.6 494.3 L477.7 494.8 L478.3 496.0 L478.8 496.8 L479.3 497.5 L479.7 497.9 L479.9 498.1 L480.4 498.4 L480.9 498.6 L481.4 498.8 L482.0 498.9 L482.0 499.0 L482.5 499.0 L483.0 499.0 L483.6 498.8 L484.1 498.4 L484.4 498.1 L484.6 498.0 L485.1 497.5 L485.7 497.0 L486.2 496.4 L486.7 495.8 L486.8 495.7 L487.3 495.1 L487.8 494.5 L488.3 493.9 L488.6 493.6 L488.8 493.3 L489.4 493.0 L489.8 493.0 L489.9 492.9 L490.4 492.9 L491.0 493.1 L491.3 493.5 L491.5 493.8 L492.0 494.6 L492.5 495.6 L493.1 496.8 L493.3 497.4 L493.6 498.0 L494.1 498.9 L494.7 499.6 L495.2 500.3 L495.7 500.9 L495.7 500.9 L496.2 501.4 L496.8 501.7 L497.3 501.9 L497.8 502.1 L498.1 502.2 L498.4 502.2 L498.9 502.3 L499.4 502.2 L499.9 501.9 L500.5 501.6 L500.5 501.6 L501.0 501.3 L501.5 501.0 L502.1 500.7 L502.6 500.3 L502.6 500.3 L503.1 500.1 L503.6 500.2 L504.1 500.3 L504.2 500.4 L504.7 500.6 L505.2 500.9 L505.8 501.3 L506.3 501.8 L506.4 501.9 L506.8 502.2 L507.3 502.5 L507.9 502.8 L508.4 503.0 L508.9 503.2 L509.5 503.3 L510.0 503.5 L510.0 503.5 L510.5 503.6 L511.0 503.7 L511.6 503.8 L512.1 503.9 L512.6 504.0 L513.1 504.0 L513.7 504.1 L514.2 504.2 L514.7 504.2 L515.3 504.2 L515.4 504.2 L515.8 504.3 L516.3 504.3 L516.8 504.3 L517.4 504.3 L517.9 504.3 L518.4 504.3 L519.0 504.3 L519.5 504.3 L520.0 504.3 L520.5 504.3 L521.1 504.3 L521.6 504.3 L522.1 504.3 L522.7 504.3 L523.2 504.4 L523.7 504.4 L524.2 504.4 L524.8 504.4 L525.3 504.4 L525.8 504.4 L526.4 504.4 L526.9 504.4 L527.4 504.5 L527.9 504.5 L528.5 504.5 L529.0 504.5 L529.5 504.5 L530.1 504.5 L530.6 504.5 L531.1 504.5 L531.6 504.5 L532.2 504.6 L532.7 504.6 L533.2 504.6 L533.8 504.6 L534.3 504.6 L534.8 504.6 L535.3 504.6 L535.9 504.6 L536.4 504.7 L536.9 504.7 L537.5 504.7 L538.0 504.7 L538.5 504.7 L539.0 504.7 L539.6 504.7 L540.1 504.7 L540.6 504.7 L541.2 504.8 L541.7 504.8 L542.2 504.8 L542.7 504.8 L543.3 504.8 L543.8 504.8 L544.3 504.8 L544.9 504.8 L545.4 504.8 L545.9 504.9 L546.4 504.9 L547.0 504.9 L547.5 504.9 L548.0 504.9 L548.6 504.9 L549.1 504.9 L549.6 504.9 L550.1 505.0 L550.7 505.0 L551.2 505.0 L551.7 505.0 L552.2 505.0" fill="none" stroke="#f58a50" stroke-width="1.0" stroke-linejoin="round"/>
<path d="M403.5 518.2 L403.7 518.2 L403.9 518.2 L404.1 518.2 L404.2 518.2 L404.3 487.9 L404.5 344.8 L404.7 278.2 L404.7 282.0 L404.9 380.6 L405.1 478.9 L405.2 482.2 L405.3 492.2 L405.5 500.1 L405.8 504.5 L405.9 505.6 L406.0 505.9 L406.2 506.5 L406.4 506.9 L406.6 507.3 L406.8 507.7 L406.8 507.7 L407.0 508.3 L407.2 508.9 L407.4 509.6 L407.6 510.3 L407.8 510.9 L408.0 511.6 L408.2 512.1 L408.3 512.2 L408.4 512.6 L408.6 513.0 L408.8 513.5 L409.0 513.9 L409.2 514.3 L409.4 514.7 L409.6 515.0 L409.9 515.3 L410.0 515.5 L410.1 515.5 L410.3 515.7 L410.5 515.9 L410.7 516.1 L410.9 516.3 L411.1 516.5 L411.3 516.7 L411.5 516.8 L411.7 516.9 L411.9 517.1 L412.1 517.2 L412.3 517.3 L412.4 517.3 L412.5 517.3 L412.7 517.4 L412.9 517.5 L413.1 517.6 L413.3 517.6 L413.5 517.7 L413.7 517.7 L414.0 517.8 L414.2 517.8 L414.4 517.9 L414.6 517.9 L414.8 518.0 L415.0 518.0 L415.2 518.0 L415.4 518.0 L415.4 518.0 L415.6 518.0 L415.8 518.0 L416.0 518.0 L416.2 518.0 L416.4 518.1 L416.6 518.1 L416.8 518.1 L417.0 518.1 L417.2 518.1 L417.4 518.1 L417.6 518.1 L417.8 518.1 L418.1 518.1 L418.3 518.1 L418.5 518.1 L418.7 518.1 L418.9 518.1 L419.1 518.1 L419.3 518.1 L419.5 518.1 L419.7 518.1 L419.9 518.1 L420.1 518.1 L420.3 518.1 L420.5 518.1 L420.7 518.2 L420.9 518.2 L421.1 518.2 L421.3 518.2 L421.5 518.2 L421.7 518.2 L421.9 518.2 L422.2 518.2 L422.4 518.2 L422.6 518.2 L422.8 518.2 L423.0 518.2 L423.2 518.2 L423.4 518.2 L423.6 518.2 L423.8 518.2 L424.0 518.2 L424.2 518.2 L424.4 518.2 L424.6 518.2 L424.8 518.2 L425.0 518.2 L425.2 518.2 L425.4 518.2 L425.6 518.2 L425.8 518.2 L426.0 518.2 L426.3 518.2 L426.5 518.2 L426.7 518.2 L426.9 518.2 L427.1 518.2 L427.3 518.2 L427.3 518.2 L427.5 518.2 L427.7 518.2 L427.9 518.2 L428.1 518.2 L428.3 518.2 L428.5 518.2 L428.7 518.2 L428.9 518.2 L429.1 518.2 L429.3 518.2 L429.5 518.2 L429.7 518.2 L429.9 518.2 L430.1 518.2 L430.4 518.2 L430.6 518.2 L430.8 518.2 L431.0 518.2 L431.2 518.2 L431.4 518.2 L431.6 518.2 L431.8 518.2 L432.0 518.2 L432.2 518.2 L432.4 518.2 L432.6 518.2 L432.8 518.2 L433.0 518.2 L433.2 518.2 L433.4 518.2 L433.6 518.2 L433.8 518.2 L434.0 518.2 L434.2 518.2 L434.4 518.2 L434.7 518.2 L434.9 518.2 L435.1 518.2 L435.3 518.2 L435.5 518.2 L435.7 518.2 L435.9 518.1 L436.1 518.1 L436.3 518.1 L436.5 518.1 L436.7 518.1 L436.9 518.1 L437.1 518.1 L437.3 518.1 L437.5 518.1 L437.7 518.1 L437.9 518.1 L438.1 518.1 L438.3 518.1 L438.5 518.1 L438.8 518.1 L439.0 518.1 L439.2 518.1 L439.4 518.1 L439.6 518.1 L439.8 518.1 L440.0 518.1 L440.2 518.0 L440.4 518.0 L440.6 518.0 L440.8 518.0 L441.0 518.0 L441.2 518.0 L441.4 518.0 L441.6 518.0 L441.8 518.0 L442.0 518.0 L442.2 518.0 L442.4 518.0 L442.6 518.0 L442.9 518.0 L443.1 517.9 L443.3 517.9 L443.5 517.9 L443.7 517.9 L443.9 517.9 L444.0 517.9 L444.1 517.9 L444.3 517.7 L444.5 517.5 L444.7 517.2 L444.9 517.0 L445.1 516.9 L445.1 516.9 L445.3 516.9 L445.5 517.1 L445.7 517.4 L445.9 517.6 L446.1 517.8 L446.3 517.9 L446.3 517.9 L446.5 517.9 L446.7 517.9 L447.0 517.9 L447.2 517.9 L447.4 517.9 L447.6 517.9 L447.8 517.9 L448.0 518.0 L448.2 518.0 L448.4 518.0 L448.6 518.0 L448.8 518.0 L449.0 518.0 L449.2 518.0 L449.4 518.0 L449.6 518.0 L449.8 518.0 L450.0 518.0 L450.2 518.0 L450.4 518.0 L450.6 518.0 L450.8 518.0 L451.1 518.0 L451.3 518.0 L451.5 518.0 L451.7 518.0 L451.9 518.0 L452.1 518.0 L452.3 518.0 L452.5 518.0 L452.7 518.0 L452.9 518.0 L453.1 518.0 L453.3 518.1 L453.5 518.1 L453.7 518.1 L453.9 518.1 L454.1 518.1 L454.3 518.1 L454.5 518.1 L454.7 518.1 L454.9 518.1 L455.2 518.1 L455.4 518.1 L455.6 518.1 L455.8 518.1 L456.0 518.1 L456.2 518.1 L456.4 518.1 L456.6 518.1 L456.8 518.1 L457.0 518.1 L457.2 518.1 L457.4 518.1 L457.6 518.1 L457.8 518.1 L458.0 518.1 L458.2 518.1 L458.4 518.1 L458.6 518.1 L458.8 518.1 L459.0 518.1 L459.3 518.1 L459.5 518.1 L459.7 518.1 L459.9 518.1 L460.0 518.1 L460.1 518.1 L460.3 518.1 L460.5 518.1 L460.7 518.1 L460.9 518.1 L461.1 518.0 L461.3 518.0 L461.5 518.0 L461.7 518.0 L461.9 518.0 L462.1 518.0 L462.3 517.9 L462.5 517.9 L462.7 517.9 L462.9 517.9 L463.1 517.8 L463.4 517.8 L463.6 517.8 L463.8 517.7 L464.0 517.7 L464.2 517.7 L464.4 517.7 L464.6 517.6 L464.8 517.6 L465.1 518.2 L465.6 518.2 L466.1 518.2 L466.6 518.1 L466.7 518.0 L467.2 517.9 L467.7 517.7 L467.8 517.7 L468.2 517.5 L468.8 517.3 L469.3 517.0 L469.8 516.6 L470.1 516.3 L470.4 516.1 L470.9 515.6 L471.4 514.7 L471.9 513.4 L471.9 513.4 L472.5 511.9 L473.0 510.0 L473.4 508.1 L473.5 507.6 L474.1 505.4 L474.6 503.5 L474.6 503.4 L475.1 502.0 L475.6 502.1 L475.8 502.4 L476.2 503.3 L476.7 504.6 L477.2 506.3 L477.6 507.5 L477.7 508.0 L478.3 509.3 L478.8 510.2 L479.3 511.0 L479.7 511.4 L479.9 511.6 L480.4 512.0 L480.9 512.2 L481.4 512.4 L482.0 512.6 L482.0 512.6 L482.5 512.6 L483.0 512.6 L483.6 512.4 L484.1 512.0 L484.4 511.7 L484.6 511.5 L485.1 511.0 L485.7 510.4 L486.2 509.8 L486.7 509.1 L486.8 509.0 L487.3 508.4 L487.8 507.7 L488.3 507.0 L488.6 506.7 L488.8 506.4 L489.4 506.1 L489.8 506.0 L489.9 506.0 L490.4 505.9 L491.0 506.2 L491.3 506.6 L491.5 506.9 L492.0 507.8 L492.5 508.9 L493.1 510.2 L493.3 510.8 L493.6 511.4 L494.1 512.4 L494.7 513.2 L495.2 514.0 L495.7 514.7 L495.7 514.7 L496.2 515.1 L496.8 515.4 L497.3 515.7 L497.8 515.9 L498.1 516.0 L498.4 516.1 L498.9 516.1 L499.4 516.0 L499.9 515.7 L500.5 515.4 L500.5 515.4 L501.0 515.0 L501.5 514.7 L502.1 514.3 L502.6 514.0 L502.6 514.0 L503.1 513.8 L503.6 513.8 L504.1 513.9 L504.2 514.0 L504.7 514.2 L505.2 514.6 L505.8 515.0 L506.3 515.6 L506.4 515.7 L506.8 516.0 L507.3 516.3 L507.9 516.6 L508.4 516.8 L508.9 517.0 L509.5 517.2 L510.0 517.4 L510.0 517.4 L510.5 517.5 L511.0 517.6 L511.6 517.7 L512.1 517.8 L512.6 517.9 L513.1 518.0 L513.7 518.0 L514.2 518.1 L514.7 518.1 L515.3 518.2 L515.4 518.2 L515.8 518.2 L516.3 518.2 L516.8 518.2 L517.4 518.2 L517.9 518.2 L518.4 518.1 L519.0 518.1 L519.5 518.1 L520.0 518.1 L520.5 518.1 L521.1 518.0 L521.6 518.0 L522.1 518.0 L522.7 518.0 L523.2 518.0 L523.7 518.0 L524.2 517.9 L524.8 517.9 L525.3 517.9 L525.8 517.9 L526.4 517.9 L526.9 517.9 L527.4 517.8 L527.9 517.8 L528.5 517.8 L529.0 517.8 L529.5 517.8 L530.1 517.7 L530.6 517.7 L531.1 517.7 L531.6 517.7 L532.2 517.7 L532.7 517.7 L533.2 517.6 L533.8 517.6 L534.3 517.6 L534.8 517.6 L535.3 517.6 L535.9 517.6 L536.4 517.6 L536.9 517.6 L537.5 517.6 L538.0 517.6 L538.5 517.5 L539.0 517.5 L539.6 517.5 L540.1 517.5 L540.6 517.5 L541.2 517.5 L541.7 517.5 L542.2 517.5 L542.7 517.5 L543.3 517.5 L543.8 517.5 L544.3 517.5 L544.9 517.5 L545.4 517.5 L545.9 517.4 L546.4 517.4 L547.0 517.4 L547.5 517.4 L548.0 517.4 L548.6 517.4 L549.1 517.4 L549.6 517.4 L550.1 517.4 L550.7 517.4 L551.2 517.4 L551.7 517.4 L552.2 517.4" fill="none" stroke="#ef6540" stroke-width="1.0" stroke-linejoin="round"/>
</g>
<rect x="404.8" y="367.4" width="147.60" height="161.90" fill="none" stroke="#111" stroke-width="1"/>
<line x1="404.80" y1="518.20" x2="408.80" y2="518.20" stroke="#111" stroke-width="1.0"/>
<line x1="404.80" y1="506.20" x2="408.80" y2="506.20" stroke="#111" stroke-width="1.0"/>
<line x1="404.80" y1="494.20" x2="408.80" y2="494.20" stroke="#111" stroke-width="1.0"/>
<line x1="404.80" y1="482.20" x2="408.80" y2="482.20" stroke="#111" stroke-width="1.0"/>
<line x1="404.80" y1="470.20" x2="408.80" y2="470.20" stroke="#111" stroke-width="1.0"/>
<line x1="404.80" y1="458.20" x2="408.80" y2="458.20" stroke="#111" stroke-width="1.0"/>
<line x1="404.80" y1="446.20" x2="408.80" y2="446.20" stroke="#111" stroke-width="1.0"/>
<line x1="404.80" y1="434.20" x2="408.80" y2="434.20" stroke="#111" stroke-width="1.0"/>
<line x1="404.80" y1="422.20" x2="408.80" y2="422.20" stroke="#111" stroke-width="1.0"/>
<line x1="404.80" y1="410.20" x2="408.80" y2="410.20" stroke="#111" stroke-width="1.0"/>
<line x1="404.80" y1="398.20" x2="408.80" y2="398.20" stroke="#111" stroke-width="1.0"/>
<line x1="404.80" y1="386.20" x2="408.80" y2="386.20" stroke="#111" stroke-width="1.0"/>
<line x1="404.80" y1="374.20" x2="408.80" y2="374.20" stroke="#111" stroke-width="1.0"/>
<line x1="415.40" y1="529.30" x2="415.40" y2="533.50" stroke="#111" stroke-width="1.0"/>
<line x1="427.30" y1="529.30" x2="427.30" y2="533.50" stroke="#111" stroke-width="1.0"/>
<line x1="439.20" y1="529.30" x2="439.20" y2="533.50" stroke="#111" stroke-width="1.0"/>
<line x1="451.10" y1="529.30" x2="451.10" y2="533.50" stroke="#111" stroke-width="1.0"/>
<line x1="463.00" y1="529.30" x2="463.00" y2="533.50" stroke="#111" stroke-width="1.0"/>
<line x1="474.90" y1="529.30" x2="474.90" y2="533.50" stroke="#111" stroke-width="1.0"/>
<line x1="486.80" y1="529.30" x2="486.80" y2="533.50" stroke="#111" stroke-width="1.0"/>
<line x1="498.70" y1="529.30" x2="498.70" y2="533.50" stroke="#111" stroke-width="1.0"/>
<line x1="510.60" y1="529.30" x2="510.60" y2="533.50" stroke="#111" stroke-width="1.0"/>
<line x1="522.50" y1="529.30" x2="522.50" y2="533.50" stroke="#111" stroke-width="1.0"/>
<line x1="534.40" y1="529.30" x2="534.40" y2="533.50" stroke="#111" stroke-width="1.0"/>
<line x1="546.30" y1="529.30" x2="546.30" y2="533.50" stroke="#111" stroke-width="1.0"/>
<line x1="552.40" y1="529.30" x2="552.40" y2="533.50" stroke="#111" stroke-width="1.0"/>
<text x="401.40" y="519.89" text-anchor="end" font-size="10.3" fill="#231f20" stroke="#231f20" stroke-width="0.18">0</text>
<text x="401.40" y="460.39" text-anchor="end" font-size="10.3" fill="#231f20" stroke="#231f20" stroke-width="0.18">10</text>
<text x="401.40" y="400.39" text-anchor="end" font-size="10.3" fill="#231f20" stroke="#231f20" stroke-width="0.18">20</text>
<text x="404.50" y="542.29" text-anchor="middle" font-size="10.3" fill="#231f20" stroke="#231f20" stroke-width="0.18">0</text>
<text x="463.00" y="542.29" text-anchor="middle" font-size="10.3" fill="#231f20" stroke="#231f20" stroke-width="0.18">10</text>
<text x="522.50" y="542.29" text-anchor="middle" font-size="10.3" fill="#231f20" stroke="#231f20" stroke-width="0.18">20</text>
<text x="556.60" y="542.04" text-anchor="middle" font-size="9.6" fill="#231f20" stroke="#231f20" stroke-width="0.18">min</text>
<text x="0" y="3.54" transform="translate(384.00 454.00) rotate(-90)" text-anchor="middle" font-size="9.9" fill="#231f20" stroke="#231f20" stroke-width="0.18">UV 280 nm(mV)</text>
<text x="556.30" y="412.87" font-size="9.7" fill="#231f20" stroke="#231f20" stroke-width="0.18">160<tspan font-size="6" dy="-3.2">th</tspan><tspan dy="3.2"> Inj.</tspan></text>
<text x="556.30" y="424.57" font-size="9.7" fill="#231f20" stroke="#231f20" stroke-width="0.18">140<tspan font-size="6" dy="-3.2">th</tspan><tspan dy="3.2"> Inj.</tspan></text>
<text x="556.30" y="436.37" font-size="9.7" fill="#231f20" stroke="#231f20" stroke-width="0.18">120<tspan font-size="6" dy="-3.2">th</tspan><tspan dy="3.2"> Inj.</tspan></text>
<text x="556.30" y="448.07" font-size="9.7" fill="#231f20" stroke="#231f20" stroke-width="0.18">100<tspan font-size="6" dy="-3.2">th</tspan><tspan dy="3.2"> Inj.</tspan></text>
<text x="556.30" y="460.07" font-size="9.7" fill="#231f20" stroke="#231f20" stroke-width="0.18">80<tspan font-size="6" dy="-3.2">th</tspan><tspan dy="3.2"> Inj.</tspan></text>
<text x="556.30" y="471.77" font-size="9.7" fill="#231f20" stroke="#231f20" stroke-width="0.18">60<tspan font-size="6" dy="-3.2">th</tspan><tspan dy="3.2"> Inj.</tspan></text>
<text x="556.30" y="483.67" font-size="9.7" fill="#231f20" stroke="#231f20" stroke-width="0.18">40<tspan font-size="6" dy="-3.2">th</tspan><tspan dy="3.2"> Inj.</tspan></text>
<text x="556.30" y="495.57" font-size="9.7" fill="#231f20" stroke="#231f20" stroke-width="0.18">20<tspan font-size="6" dy="-3.2">th</tspan><tspan dy="3.2"> Inj.</tspan></text>
<text x="556.30" y="507.07" font-size="9.7" fill="#231f20" stroke="#231f20" stroke-width="0.18">1<tspan font-size="6" dy="-3.2">st</tspan><tspan dy="3.2"> Inj.</tspan></text>
<text x="556.30" y="519.54" font-size="8.2" fill="#231f20" textLength="45" lengthAdjust="spacingAndGlyphs" stroke="#231f20" stroke-width="0.18">纯化后的 mAb</text>
<line x1="58.90" y1="649.80" x2="58.90" y2="747.00" stroke="#333" stroke-width="1.1"/>
<line x1="58.40" y1="746.50" x2="190.40" y2="746.50" stroke="#333" stroke-width="1.1"/>
<text x="0" y="3.62" transform="translate(56.30 746.10) scale(1.04 1)" text-anchor="end" font-size="10.1" fill="#231f20" stroke="#231f20" stroke-width="0.18">-1</text>
<line x1="58.90" y1="735.81" x2="63.50" y2="735.81" stroke="#333" stroke-width="1.0"/>
<text x="0" y="3.62" transform="translate(56.30 735.29) scale(1.04 1)" text-anchor="end" font-size="10.1" fill="#231f20" stroke="#231f20" stroke-width="0.18">0</text>
<line x1="58.90" y1="725.12" x2="63.50" y2="725.12" stroke="#333" stroke-width="1.0"/>
<text x="0" y="3.62" transform="translate(56.30 724.48) scale(1.04 1)" text-anchor="end" font-size="10.1" fill="#231f20" stroke="#231f20" stroke-width="0.18">1</text>
<line x1="58.90" y1="714.43" x2="63.50" y2="714.43" stroke="#333" stroke-width="1.0"/>
<text x="0" y="3.62" transform="translate(56.30 713.67) scale(1.04 1)" text-anchor="end" font-size="10.1" fill="#231f20" stroke="#231f20" stroke-width="0.18">2</text>
<line x1="58.90" y1="703.74" x2="63.50" y2="703.74" stroke="#333" stroke-width="1.0"/>
<text x="0" y="3.62" transform="translate(56.30 702.86) scale(1.04 1)" text-anchor="end" font-size="10.1" fill="#231f20" stroke="#231f20" stroke-width="0.18">3</text>
<line x1="58.90" y1="693.06" x2="63.50" y2="693.06" stroke="#333" stroke-width="1.0"/>
<text x="0" y="3.62" transform="translate(56.30 692.06) scale(1.04 1)" text-anchor="end" font-size="10.1" fill="#231f20" stroke="#231f20" stroke-width="0.18">4</text>
<line x1="58.90" y1="682.37" x2="63.50" y2="682.37" stroke="#333" stroke-width="1.0"/>
<text x="0" y="3.62" transform="translate(56.30 681.25) scale(1.04 1)" text-anchor="end" font-size="10.1" fill="#231f20" stroke="#231f20" stroke-width="0.18">5</text>
<line x1="58.90" y1="671.68" x2="63.50" y2="671.68" stroke="#333" stroke-width="1.0"/>
<text x="0" y="3.62" transform="translate(56.30 670.44) scale(1.04 1)" text-anchor="end" font-size="10.1" fill="#231f20" stroke="#231f20" stroke-width="0.18">6</text>
<line x1="58.90" y1="660.99" x2="63.50" y2="660.99" stroke="#333" stroke-width="1.0"/>
<text x="0" y="3.62" transform="translate(56.30 659.63) scale(1.04 1)" text-anchor="end" font-size="10.1" fill="#231f20" stroke="#231f20" stroke-width="0.18">7</text>
<line x1="58.90" y1="650.30" x2="63.50" y2="650.30" stroke="#333" stroke-width="1.0"/>
<text x="0" y="3.62" transform="translate(56.30 648.82) scale(1.04 1)" text-anchor="end" font-size="10.1" fill="#231f20" stroke="#231f20" stroke-width="0.18">8</text>
<line x1="91.70" y1="746.50" x2="91.70" y2="752.50" stroke="#333" stroke-width="1.0"/>
<line x1="124.50" y1="746.50" x2="124.50" y2="752.50" stroke="#333" stroke-width="1.0"/>
<line x1="157.30" y1="746.50" x2="157.30" y2="752.50" stroke="#333" stroke-width="1.0"/>
<text x="0" y="3.62" transform="translate(58.90 759.40) scale(1.04 1)" text-anchor="middle" font-size="10.1" fill="#231f20" stroke="#231f20" stroke-width="0.18">0</text>
<text x="0" y="3.62" transform="translate(91.70 759.40) scale(1.04 1)" text-anchor="middle" font-size="10.1" fill="#231f20" stroke="#231f20" stroke-width="0.18">5</text>
<text x="0" y="3.62" transform="translate(124.50 759.40) scale(1.04 1)" text-anchor="middle" font-size="10.1" fill="#231f20" stroke="#231f20" stroke-width="0.18">10</text>
<text x="0" y="3.62" transform="translate(157.30 759.40) scale(1.04 1)" text-anchor="middle" font-size="10.1" fill="#231f20" stroke="#231f20" stroke-width="0.18">15</text>
<text x="189.50" y="763.34" text-anchor="middle" font-size="9.6" fill="#231f20" stroke="#231f20" stroke-width="0.18">min</text>
<text x="0" y="3.22" transform="translate(39.50 694.00) rotate(-90) scale(1.1 1)" text-anchor="middle" font-size="9.0" fill="#231f20" stroke="#231f20" stroke-width="0.18">UV 280 nm(mV)</text>
<text x="127.60" y="645.22" text-anchor="middle" font-size="12" font-weight="700" letter-spacing="0.3" fill="#92278f">(A)<tspan font-size="11" font-weight="900"> 批次 </tspan>1</text>
<text x="92.80" y="685.57" font-size="9.4" fill="#231f20" stroke="#231f20" stroke-width="0.18">Peak 1</text>
<text x="92.80" y="696.27" font-size="9.4" fill="#231f20" stroke="#231f20" stroke-width="0.18">34 %</text>
<text x="130.50" y="663.57" font-size="9.4" fill="#231f20" stroke="#231f20" stroke-width="0.18">Peak 2</text>
<text x="130.50" y="674.27" font-size="9.4" fill="#231f20" stroke="#231f20" stroke-width="0.18">41 %</text>
<text x="152.20" y="692.27" font-size="9.4" fill="#231f20" stroke="#231f20" stroke-width="0.18">Peak 3</text>
<text x="152.20" y="702.97" font-size="9.4" fill="#231f20" stroke="#231f20" stroke-width="0.18">26 %</text>
<path d="M58.9 735.8 L59.2 735.8 L59.5 735.8 L59.8 735.8 L60.2 735.8 L60.5 735.8 L60.8 735.8 L61.1 735.8 L61.4 735.8 L61.7 735.8 L62.0 735.8 L62.2 735.8 L62.3 734.8 L62.6 730.5 L62.7 730.2 L63.0 722.2 L63.0 721.7 L63.3 726.4 L63.5 730.5 L63.6 731.0 L63.9 732.0 L64.1 732.4 L64.2 732.5 L64.5 732.7 L64.8 732.9 L65.2 733.1 L65.5 733.2 L65.8 733.3 L66.1 733.5 L66.1 733.5 L66.4 733.6 L66.7 733.7 L67.0 733.8 L67.4 733.9 L67.7 734.0 L68.0 734.1 L68.3 734.2 L68.6 734.3 L68.9 734.4 L69.2 734.5 L69.4 734.5 L69.5 734.6 L69.9 734.6 L70.2 734.7 L70.5 734.8 L70.8 734.8 L71.1 734.9 L71.4 735.0 L71.7 735.0 L72.1 735.1 L72.4 735.1 L72.7 735.2 L73.0 735.2 L73.3 735.3 L73.3 735.3 L73.6 735.3 L73.9 735.4 L74.2 735.4 L74.6 735.4 L74.9 735.5 L75.2 735.5 L75.5 735.6 L75.8 735.6 L76.1 735.7 L76.4 735.7 L76.7 735.7 L77.1 735.7 L77.4 735.8 L77.7 735.8 L78.0 735.8 L78.3 735.8 L78.6 735.8 L78.6 735.8 L78.9 735.8 L79.3 735.8 L79.6 735.8 L79.9 735.8 L80.2 735.8 L80.5 735.8 L80.8 735.8 L81.1 735.8 L81.4 735.8 L81.8 735.8 L82.1 735.8 L82.4 735.8 L82.7 735.8 L83.0 735.8 L83.3 735.7 L83.6 735.7 L84.0 735.7 L84.3 735.7 L84.6 735.7 L84.9 735.7 L85.2 735.7 L85.5 735.7 L85.8 735.7 L86.1 735.7 L86.5 735.7 L86.8 735.7 L87.1 735.6 L87.4 735.6 L87.7 735.6 L88.0 735.6 L88.3 735.6 L88.4 735.6 L88.6 735.6 L89.0 735.6 L89.3 735.6 L89.6 735.6 L89.9 735.5 L90.2 735.5 L90.5 735.5 L90.8 735.5 L91.2 735.5 L91.5 735.5 L91.8 735.4 L92.1 735.4 L92.4 735.4 L92.7 735.4 L93.0 735.4 L93.3 735.4 L93.7 735.3 L94.0 735.3 L94.3 735.3 L94.6 735.3 L94.9 735.2 L95.2 735.2 L95.5 735.2 L95.8 735.2 L96.2 735.1 L96.5 735.1 L96.8 735.1 L97.1 735.1 L97.4 735.0 L97.7 735.0 L98.0 735.0 L98.3 735.0 L98.4 734.9 L98.7 734.9 L99.0 734.9 L99.3 734.9 L99.6 734.8 L99.9 734.8 L100.2 734.7 L100.5 734.7 L100.9 734.7 L101.2 734.6 L101.5 734.6 L101.8 734.5 L102.1 734.5 L102.4 734.4 L102.7 734.4 L103.1 734.3 L103.4 734.3 L103.7 734.2 L104.0 734.2 L104.3 734.1 L104.6 734.0 L104.8 734.0 L104.9 734.0 L105.2 733.9 L105.6 733.8 L105.9 733.8 L106.2 733.7 L106.5 733.6 L106.8 733.5 L107.1 733.4 L107.4 733.3 L107.7 733.2 L108.1 733.1 L108.4 733.0 L108.7 732.9 L109.0 732.8 L109.3 732.7 L109.6 732.5 L109.9 732.4 L110.3 732.3 L110.6 732.1 L110.9 732.0 L111.2 731.8 L111.4 731.7 L111.5 731.7 L111.8 731.5 L112.1 731.4 L112.4 731.2 L112.8 731.0 L113.1 730.8 L113.4 730.6 L113.7 730.4 L114.0 730.2 L114.3 729.9 L114.6 729.6 L114.9 729.4 L115.3 729.1 L115.6 728.8 L115.9 728.4 L116.0 728.3 L116.2 728.1 L116.5 727.7 L116.8 727.2 L117.1 726.7 L117.5 726.1 L117.8 725.5 L118.1 724.8 L118.4 724.0 L118.7 723.1 L118.9 722.5 L119.0 722.1 L119.3 720.8 L119.6 719.1 L120.0 717.1 L120.3 714.8 L120.6 712.5 L120.9 710.2 L120.9 710.1 L121.2 707.3 L121.5 703.9 L121.8 700.5 L122.2 697.5 L122.4 695.7 L122.5 695.4 L122.8 693.5 L123.1 692.1 L123.3 691.8 L123.4 691.8 L123.7 692.4 L124.0 693.6 L124.3 695.1 L124.4 695.2 L124.7 697.0 L125.0 699.7 L125.3 702.7 L125.6 705.4 L125.8 707.0 L125.9 707.5 L126.2 709.4 L126.5 711.1 L126.8 712.7 L127.2 714.1 L127.5 715.3 L127.8 716.0 L127.8 716.1 L128.1 716.7 L128.4 717.2 L128.7 717.7 L129.0 718.1 L129.4 718.4 L129.7 718.5 L129.7 718.5 L130.0 718.4 L130.3 718.0 L130.6 717.4 L130.9 716.5 L131.2 715.5 L131.4 715.0 L131.5 714.3 L131.9 712.0 L132.2 709.0 L132.5 705.6 L132.8 702.0 L133.0 699.5 L133.1 698.6 L133.4 694.6 L133.7 690.2 L134.1 686.2 L134.4 683.1 L134.5 682.4 L134.7 681.2 L135.0 679.6 L135.3 678.7 L135.4 678.6 L135.6 678.9 L135.9 679.9 L136.2 681.3 L136.4 682.4 L136.6 683.1 L136.9 686.0 L137.2 689.9 L137.5 694.1 L137.8 698.0 L137.9 699.5 L138.1 701.2 L138.4 704.5 L138.7 707.7 L139.1 710.7 L139.4 713.3 L139.7 715.5 L139.9 716.6 L140.0 716.9 L140.3 718.1 L140.6 719.2 L140.9 720.2 L141.3 721.1 L141.6 721.7 L141.9 722.2 L142.2 722.3 L142.2 722.3 L142.5 722.2 L142.8 721.8 L143.1 721.2 L143.4 720.4 L143.8 719.5 L143.9 719.2 L144.1 718.3 L144.4 716.3 L144.7 713.6 L145.0 710.8 L145.3 708.2 L145.5 707.0 L145.6 705.9 L145.9 703.6 L146.3 701.4 L146.6 699.7 L146.8 698.9 L146.9 698.8 L147.2 698.2 L147.5 697.9 L147.6 697.9 L147.8 698.1 L148.1 698.9 L148.5 700.2 L148.8 701.6 L148.8 701.6 L149.1 703.4 L149.4 705.9 L149.7 708.6 L150.0 711.4 L150.3 713.9 L150.4 714.4 L150.6 715.9 L151.0 717.9 L151.3 719.9 L151.6 721.7 L151.9 723.4 L152.2 724.9 L152.5 726.1 L152.7 726.7 L152.8 727.1 L153.2 728.0 L153.5 728.8 L153.8 729.5 L154.1 730.2 L154.4 730.8 L154.7 731.3 L155.0 731.7 L155.3 732.1 L155.3 732.1 L155.7 732.4 L156.0 732.7 L156.3 732.9 L156.6 733.2 L156.9 733.4 L157.2 733.6 L157.5 733.8 L157.8 734.0 L158.2 734.1 L158.5 734.3 L158.8 734.4 L159.1 734.5 L159.3 734.5 L159.4 734.6 L159.7 734.6 L160.0 734.7 L160.4 734.8 L160.7 734.8 L161.0 734.9 L161.3 734.9 L161.6 735.0 L161.9 735.0 L162.2 735.1 L162.5 735.1 L162.9 735.2 L163.2 735.2 L163.5 735.3 L163.8 735.3 L164.1 735.3 L164.4 735.4 L164.7 735.4 L165.0 735.4 L165.4 735.4 L165.7 735.5 L166.0 735.5 L166.3 735.5 L166.6 735.5 L166.9 735.5 L167.1 735.5 L167.2 735.5 L167.6 735.5 L167.9 735.5 L168.2 735.5 L168.5 735.5 L168.8 735.5 L169.1 735.5 L169.4 735.5 L169.7 735.5 L170.1 735.5 L170.4 735.5 L170.7 735.5 L171.0 735.5 L171.3 735.5 L171.6 735.5 L171.9 735.5 L172.3 735.5 L172.6 735.5 L172.9 735.5 L173.2 735.5 L173.5 735.5 L173.8 735.5 L174.1 735.5 L174.4 735.5 L174.8 735.5 L175.1 735.5 L175.4 735.5 L175.7 735.5 L176.0 735.5 L176.3 735.5 L176.6 735.5 L176.9 735.5 L177.0 735.5 L177.3 735.5 L177.6 735.5 L177.9 735.5 L178.2 735.4 L178.5 735.4 L178.8 735.4 L179.1 735.4 L179.5 735.3 L179.8 735.3 L180.1 735.2 L180.4 735.2 L180.7 735.1 L181.0 735.1 L181.3 735.1 L181.6 735.0 L182.0 735.0 L182.3 734.9 L182.6 734.9 L182.9 734.9 L183.2 734.8 L183.5 734.8 L183.8 734.8 L184.2 734.8 L184.5 734.7 L184.8 734.7 L184.9 734.7 L185.1 734.7 L185.4 734.7 L185.7 734.7 L186.0 734.7 L186.3 734.7 L186.7 734.7 L187.0 734.7 L187.3 734.7 L187.6 734.7 L187.9 734.7 L188.2 734.7 L188.5 734.7 L188.8 734.7 L189.2 734.7 L189.5 734.7 L189.8 734.7 L190.1 734.7" fill="none" stroke="#2e3a80" stroke-width="1.25" stroke-linejoin="round" stroke-linecap="round"/>
<line x1="218.40" y1="649.80" x2="218.40" y2="747.00" stroke="#333" stroke-width="1.1"/>
<line x1="217.90" y1="746.50" x2="349.90" y2="746.50" stroke="#333" stroke-width="1.1"/>
<text x="0" y="3.62" transform="translate(215.80 746.10) scale(1.04 1)" text-anchor="end" font-size="10.1" fill="#231f20" stroke="#231f20" stroke-width="0.18">-1</text>
<line x1="218.40" y1="735.81" x2="223.00" y2="735.81" stroke="#333" stroke-width="1.0"/>
<text x="0" y="3.62" transform="translate(215.80 735.29) scale(1.04 1)" text-anchor="end" font-size="10.1" fill="#231f20" stroke="#231f20" stroke-width="0.18">0</text>
<line x1="218.40" y1="725.12" x2="223.00" y2="725.12" stroke="#333" stroke-width="1.0"/>
<text x="0" y="3.62" transform="translate(215.80 724.48) scale(1.04 1)" text-anchor="end" font-size="10.1" fill="#231f20" stroke="#231f20" stroke-width="0.18">1</text>
<line x1="218.40" y1="714.43" x2="223.00" y2="714.43" stroke="#333" stroke-width="1.0"/>
<text x="0" y="3.62" transform="translate(215.80 713.67) scale(1.04 1)" text-anchor="end" font-size="10.1" fill="#231f20" stroke="#231f20" stroke-width="0.18">2</text>
<line x1="218.40" y1="703.74" x2="223.00" y2="703.74" stroke="#333" stroke-width="1.0"/>
<text x="0" y="3.62" transform="translate(215.80 702.86) scale(1.04 1)" text-anchor="end" font-size="10.1" fill="#231f20" stroke="#231f20" stroke-width="0.18">3</text>
<line x1="218.40" y1="693.06" x2="223.00" y2="693.06" stroke="#333" stroke-width="1.0"/>
<text x="0" y="3.62" transform="translate(215.80 692.06) scale(1.04 1)" text-anchor="end" font-size="10.1" fill="#231f20" stroke="#231f20" stroke-width="0.18">4</text>
<line x1="218.40" y1="682.37" x2="223.00" y2="682.37" stroke="#333" stroke-width="1.0"/>
<text x="0" y="3.62" transform="translate(215.80 681.25) scale(1.04 1)" text-anchor="end" font-size="10.1" fill="#231f20" stroke="#231f20" stroke-width="0.18">5</text>
<line x1="218.40" y1="671.68" x2="223.00" y2="671.68" stroke="#333" stroke-width="1.0"/>
<text x="0" y="3.62" transform="translate(215.80 670.44) scale(1.04 1)" text-anchor="end" font-size="10.1" fill="#231f20" stroke="#231f20" stroke-width="0.18">6</text>
<line x1="218.40" y1="660.99" x2="223.00" y2="660.99" stroke="#333" stroke-width="1.0"/>
<text x="0" y="3.62" transform="translate(215.80 659.63) scale(1.04 1)" text-anchor="end" font-size="10.1" fill="#231f20" stroke="#231f20" stroke-width="0.18">7</text>
<line x1="218.40" y1="650.30" x2="223.00" y2="650.30" stroke="#333" stroke-width="1.0"/>
<text x="0" y="3.62" transform="translate(215.80 648.82) scale(1.04 1)" text-anchor="end" font-size="10.1" fill="#231f20" stroke="#231f20" stroke-width="0.18">8</text>
<line x1="251.20" y1="746.50" x2="251.20" y2="752.50" stroke="#333" stroke-width="1.0"/>
<line x1="284.00" y1="746.50" x2="284.00" y2="752.50" stroke="#333" stroke-width="1.0"/>
<line x1="316.80" y1="746.50" x2="316.80" y2="752.50" stroke="#333" stroke-width="1.0"/>
<text x="0" y="3.62" transform="translate(218.40 759.40) scale(1.04 1)" text-anchor="middle" font-size="10.1" fill="#231f20" stroke="#231f20" stroke-width="0.18">0</text>
<text x="0" y="3.62" transform="translate(251.20 759.40) scale(1.04 1)" text-anchor="middle" font-size="10.1" fill="#231f20" stroke="#231f20" stroke-width="0.18">5</text>
<text x="0" y="3.62" transform="translate(284.00 759.40) scale(1.04 1)" text-anchor="middle" font-size="10.1" fill="#231f20" stroke="#231f20" stroke-width="0.18">10</text>
<text x="0" y="3.62" transform="translate(316.80 759.40) scale(1.04 1)" text-anchor="middle" font-size="10.1" fill="#231f20" stroke="#231f20" stroke-width="0.18">15</text>
<text x="349.00" y="763.34" text-anchor="middle" font-size="9.6" fill="#231f20" stroke="#231f20" stroke-width="0.18">min</text>
<text x="0" y="3.22" transform="translate(199.00 694.00) rotate(-90) scale(1.1 1)" text-anchor="middle" font-size="9.0" fill="#231f20" stroke="#231f20" stroke-width="0.18">UV 280 nm(mV)</text>
<text x="292.40" y="645.22" text-anchor="middle" font-size="12" font-weight="700" letter-spacing="0.3" fill="#92278f">(B)<tspan font-size="11" font-weight="900"> 批次 </tspan>2</text>
<text x="256.80" y="675.77" font-size="9.4" fill="#231f20" stroke="#231f20" stroke-width="0.18">Peak 1</text>
<text x="256.80" y="686.47" font-size="9.4" fill="#231f20" stroke="#231f20" stroke-width="0.18">42 %</text>
<text x="290.70" y="662.17" font-size="9.4" fill="#231f20" stroke="#231f20" stroke-width="0.18">Peak 2</text>
<text x="290.70" y="672.87" font-size="9.4" fill="#231f20" stroke="#231f20" stroke-width="0.18">36 %</text>
<text x="311.80" y="689.87" font-size="9.4" fill="#231f20" stroke="#231f20" stroke-width="0.18">Peak 3</text>
<text x="311.80" y="700.57" font-size="9.4" fill="#231f20" stroke="#231f20" stroke-width="0.18">22 %</text>
<path d="M218.4 736.9 L218.7 736.9 L219.0 736.9 L219.3 736.9 L219.7 736.9 L220.0 736.9 L220.3 736.9 L220.6 736.9 L220.9 736.9 L220.9 736.9 L221.2 732.4 L221.4 729.4 L221.5 722.2 L221.7 718.2 L221.8 720.8 L222.1 728.3 L222.2 728.5 L222.5 730.7 L222.8 731.9 L222.9 732.1 L223.1 732.5 L223.4 732.9 L223.7 733.2 L224.0 733.5 L224.3 733.7 L224.3 733.7 L224.7 734.0 L225.0 734.3 L225.3 734.5 L225.6 734.7 L225.9 734.9 L226.2 735.0 L226.3 735.0 L226.5 734.9 L226.9 734.7 L227.2 734.5 L227.5 734.3 L227.8 734.2 L227.9 734.2 L228.1 734.3 L228.4 734.5 L228.7 734.9 L229.0 735.3 L229.4 735.5 L229.6 735.6 L229.7 735.6 L230.0 735.6 L230.3 735.5 L230.6 735.5 L230.9 735.4 L231.2 735.4 L231.6 735.3 L231.9 735.3 L232.2 735.3 L232.2 735.3 L232.5 735.3 L232.8 735.5 L233.1 735.7 L233.4 736.0 L233.7 736.3 L234.1 736.6 L234.4 736.8 L234.7 736.9 L234.8 736.9 L235.0 736.9 L235.3 736.9 L235.6 736.9 L235.9 736.9 L236.2 736.9 L236.6 736.9 L236.9 736.9 L237.2 736.9 L237.5 736.9 L237.8 736.9 L238.1 736.9 L238.4 736.9 L238.8 736.9 L239.1 736.9 L239.4 736.9 L239.7 736.9 L240.0 736.9 L240.3 736.9 L240.6 736.9 L240.9 736.9 L241.3 736.9 L241.4 736.9 L241.6 736.9 L241.9 736.9 L242.2 736.9 L242.5 736.9 L242.8 736.9 L243.1 736.9 L243.5 736.8 L243.8 736.8 L244.1 736.8 L244.4 736.8 L244.7 736.8 L245.0 736.8 L245.3 736.7 L245.6 736.7 L246.0 736.7 L246.3 736.7 L246.6 736.6 L246.9 736.6 L247.2 736.6 L247.5 736.6 L247.8 736.5 L248.1 736.5 L248.5 736.5 L248.8 736.4 L249.1 736.4 L249.4 736.4 L249.7 736.3 L250.0 736.3 L250.3 736.2 L250.7 736.2 L251.0 736.2 L251.2 736.1 L251.3 736.1 L251.6 736.1 L251.9 736.0 L252.2 735.9 L252.5 735.8 L252.8 735.7 L253.2 735.5 L253.5 735.4 L253.8 735.3 L254.1 735.2 L254.4 735.1 L254.7 735.0 L255.0 735.0 L255.1 735.0 L255.3 734.9 L255.7 734.9 L256.0 734.9 L256.3 734.8 L256.6 734.8 L256.9 734.8 L257.2 734.8 L257.5 734.8 L257.9 734.8 L258.2 734.7 L258.5 734.7 L258.8 734.7 L259.1 734.7 L259.4 734.7 L259.7 734.6 L260.0 734.6 L260.4 734.6 L260.7 734.6 L261.0 734.5 L261.0 734.5 L261.3 734.5 L261.6 734.4 L261.9 734.4 L262.2 734.3 L262.6 734.2 L262.9 734.1 L263.2 734.0 L263.5 733.9 L263.8 733.8 L264.1 733.7 L264.4 733.6 L264.7 733.5 L265.1 733.4 L265.4 733.2 L265.6 733.1 L265.7 733.1 L266.0 733.0 L266.3 732.8 L266.6 732.7 L266.9 732.5 L267.2 732.4 L267.6 732.2 L267.9 732.0 L268.2 731.8 L268.5 731.6 L268.8 731.4 L269.1 731.2 L269.4 731.0 L269.8 730.8 L270.1 730.5 L270.4 730.3 L270.7 730.1 L270.9 729.9 L271.0 729.8 L271.3 729.6 L271.6 729.4 L271.9 729.1 L272.3 728.9 L272.6 728.6 L272.9 728.4 L273.2 728.1 L273.5 727.8 L273.8 727.5 L274.1 727.2 L274.4 726.9 L274.8 726.5 L275.1 726.2 L275.4 725.8 L275.5 725.7 L275.7 725.4 L276.0 724.9 L276.3 724.5 L276.6 724.0 L277.0 723.4 L277.3 722.8 L277.6 722.1 L277.9 721.3 L278.2 720.4 L278.4 719.8 L278.5 719.4 L278.8 718.0 L279.1 716.1 L279.5 713.8 L279.8 711.2 L280.1 708.5 L280.4 705.9 L280.4 705.8 L280.7 702.6 L281.0 698.7 L281.3 694.9 L281.7 691.8 L281.8 690.9 L282.0 689.7 L282.3 687.8 L282.6 686.7 L282.7 686.6 L282.9 686.9 L283.2 688.0 L283.5 689.6 L283.7 690.4 L283.8 691.4 L284.2 694.0 L284.5 697.0 L284.8 700.2 L285.1 703.1 L285.3 704.8 L285.4 705.5 L285.7 707.7 L286.0 709.8 L286.3 711.8 L286.7 713.6 L287.0 715.0 L287.3 716.0 L287.3 716.1 L287.6 716.8 L287.9 717.6 L288.2 718.3 L288.5 718.8 L288.9 719.3 L289.2 719.6 L289.5 719.8 L289.6 719.8 L289.8 719.7 L290.1 719.4 L290.4 718.8 L290.7 718.0 L291.0 717.1 L291.2 716.6 L291.4 715.9 L291.7 713.6 L292.0 710.3 L292.3 706.4 L292.6 702.4 L292.9 699.5 L292.9 698.7 L293.2 694.5 L293.6 690.0 L293.9 686.0 L294.2 683.4 L294.2 683.4 L294.5 681.7 L294.8 680.5 L295.0 680.2 L295.1 680.3 L295.4 680.9 L295.7 682.1 L296.1 683.6 L296.1 684.0 L296.4 685.5 L296.7 688.5 L297.0 692.3 L297.3 696.2 L297.6 700.0 L297.8 701.6 L297.9 703.2 L298.2 706.5 L298.6 709.9 L298.9 713.1 L299.2 715.9 L299.5 718.1 L299.7 719.2 L299.8 719.5 L300.1 720.5 L300.4 721.5 L300.8 722.3 L301.1 723.0 L301.4 723.6 L301.7 723.9 L302.0 724.1 L302.0 724.1 L302.3 723.9 L302.6 723.5 L302.9 722.9 L303.3 722.1 L303.6 721.2 L303.7 720.8 L303.9 720.0 L304.2 718.0 L304.5 715.5 L304.8 712.8 L305.1 710.3 L305.3 709.1 L305.4 708.3 L305.8 706.3 L306.1 704.5 L306.4 703.3 L306.4 703.2 L306.7 702.8 L307.0 702.5 L307.1 702.5 L307.3 702.7 L307.6 703.4 L308.0 704.6 L308.3 705.9 L308.3 705.9 L308.6 707.5 L308.9 709.8 L309.2 712.3 L309.5 714.9 L309.8 717.2 L309.9 717.6 L310.1 719.0 L310.5 720.9 L310.8 722.7 L311.1 724.4 L311.4 725.9 L311.7 727.3 L312.0 728.4 L312.2 728.9 L312.3 729.2 L312.7 729.9 L313.0 730.6 L313.3 731.2 L313.6 731.7 L313.9 732.2 L314.2 732.6 L314.5 732.9 L314.8 733.1 L314.8 733.1 L315.2 733.4 L315.5 733.5 L315.8 733.7 L316.1 733.9 L316.4 734.0 L316.7 734.2 L317.0 734.3 L317.3 734.4 L317.7 734.5 L318.0 734.6 L318.3 734.7 L318.6 734.7 L318.8 734.7 L318.9 734.8 L319.2 734.8 L319.5 734.8 L319.9 734.9 L320.2 734.9 L320.5 734.9 L320.8 735.0 L321.1 735.0 L321.4 735.0 L321.7 735.1 L322.0 735.1 L322.4 735.1 L322.7 735.1 L323.0 735.2 L323.3 735.2 L323.6 735.2 L323.9 735.2 L324.2 735.2 L324.5 735.2 L324.9 735.2 L325.2 735.3 L325.5 735.3 L325.8 735.3 L326.1 735.3 L326.4 735.3 L326.6 735.3 L326.7 735.3 L327.1 735.3 L327.4 735.3 L327.7 735.3 L328.0 735.3 L328.3 735.3 L328.6 735.3 L328.9 735.3 L329.2 735.2 L329.6 735.2 L329.9 735.2 L330.2 735.2 L330.5 735.2 L330.8 735.2 L331.1 735.2 L331.4 735.2 L331.8 735.2 L332.1 735.2 L332.4 735.1 L332.7 735.1 L333.0 735.1 L333.3 735.1 L333.6 735.1 L333.9 735.1 L334.3 735.1 L334.6 735.1 L334.9 735.0 L335.2 735.0 L335.5 735.0 L335.8 735.0 L336.1 735.0 L336.4 735.0 L336.5 735.0 L336.8 734.9 L337.1 734.9 L337.4 734.9 L337.7 734.8 L338.0 734.8 L338.3 734.8 L338.6 734.7 L339.0 734.7 L339.3 734.6 L339.6 734.6 L339.9 734.5 L340.2 734.5 L340.5 734.4 L340.8 734.4 L341.1 734.3 L341.5 734.2 L341.8 734.2 L342.1 734.1 L342.4 734.1 L342.7 734.1 L343.0 734.0 L343.3 734.0 L343.7 734.0 L344.0 733.9 L344.3 733.9 L344.6 733.9 L344.9 733.9 L345.0 733.9 L345.2 733.9 L345.5 733.9 L345.8 733.9 L346.2 733.9 L346.5 734.0 L346.8 734.0 L347.1 734.0 L347.4 734.1 L347.7 734.1 L348.0 734.2 L348.3 734.3 L348.7 734.3 L349.0 734.4 L349.3 734.5 L349.6 734.5" fill="none" stroke="#2e3a80" stroke-width="1.25" stroke-linejoin="round" stroke-linecap="round"/>
<clipPath id="cy"><rect x="404.4" y="632.3" width="132.20" height="156.10"/></clipPath>
<line x1="404.40" y1="658.50" x2="536.60" y2="658.50" stroke="#000" stroke-width="1.0" stroke-dasharray="20 1.4 1.3 1.4 1.3 1.4 1.3 1.4 1.3 1.4 1.3 1.4 1.3 1.4 1.3 1.4"/>
<line x1="404.40" y1="684.50" x2="536.60" y2="684.50" stroke="#000" stroke-width="1.0" stroke-dasharray="20 1.4 1.3 1.4 1.3 1.4 1.3 1.4 1.3 1.4 1.3 1.4 1.3 1.4 1.3 1.4"/>
<line x1="404.40" y1="710.50" x2="536.60" y2="710.50" stroke="#000" stroke-width="1.0" stroke-dasharray="20 1.4 1.3 1.4 1.3 1.4 1.3 1.4 1.3 1.4 1.3 1.4 1.3 1.4 1.3 1.4"/>
<line x1="404.40" y1="736.00" x2="536.60" y2="736.00" stroke="#000" stroke-width="1.0" stroke-dasharray="20 1.4 1.3 1.4 1.3 1.4 1.3 1.4 1.3 1.4 1.3 1.4 1.3 1.4 1.3 1.4"/>
<line x1="404.40" y1="762.00" x2="536.60" y2="762.00" stroke="#000" stroke-width="1.0" stroke-dasharray="20 1.4 1.3 1.4 1.3 1.4 1.3 1.4 1.3 1.4 1.3 1.4 1.3 1.4 1.3 1.4"/>
<g clip-path="url(#cy)">
<path d="M404.4 660.6 L404.8 660.6 L405.2 660.6 L405.6 660.5 L406.0 660.4 L406.4 660.3 L406.4 660.2 L406.8 654.3 L406.8 654.1 L407.2 647.8 L407.3 647.6 L407.6 653.2 L407.7 654.8 L408.0 658.7 L408.1 659.4 L408.4 659.7 L408.8 660.0 L409.2 660.1 L409.6 660.2 L409.7 660.2 L410.0 660.2 L410.4 660.3 L410.8 660.3 L411.2 660.4 L411.6 660.4 L412.0 660.4 L412.4 660.5 L412.8 660.5 L413.2 660.5 L413.6 660.5 L414.0 660.6 L414.4 660.6 L414.8 660.6 L415.2 660.6 L415.4 660.6 L415.7 660.6 L416.1 660.6 L416.5 660.6 L416.9 660.6 L417.3 660.6 L417.7 660.7 L418.1 660.7 L418.5 660.7 L418.9 660.7 L419.3 660.7 L419.7 660.7 L420.1 660.7 L420.5 660.7 L420.9 660.7 L421.3 660.7 L421.7 660.7 L422.1 660.7 L422.5 660.7 L422.9 660.7 L423.3 660.7 L423.7 660.7 L424.1 660.7 L424.5 660.7 L424.9 660.7 L425.3 660.8 L425.7 660.8 L426.1 660.8 L426.4 660.8 L426.5 660.8 L426.9 660.9 L427.3 661.0 L427.7 661.1 L428.1 661.3 L428.5 661.4 L428.9 661.5 L429.1 661.5 L429.3 661.5 L429.7 661.5 L430.1 661.5 L430.5 661.5 L430.9 661.4 L431.3 661.4 L431.7 661.4 L431.7 661.4 L432.1 661.3 L432.5 661.2 L432.9 661.1 L433.3 660.9 L433.7 660.7 L434.1 660.5 L434.5 660.3 L434.9 660.1 L435.2 660.0 L435.3 660.0 L435.7 659.9 L436.1 659.8 L436.5 659.7 L436.9 659.6 L437.3 659.5 L437.8 659.5 L438.2 659.4 L438.6 659.3 L439.0 659.2 L439.4 659.1 L439.7 659.0 L439.8 659.0 L440.2 658.8 L440.6 658.7 L441.0 658.6 L441.4 658.4 L441.8 658.3 L442.2 658.1 L442.6 657.8 L443.0 657.6 L443.2 657.4 L443.4 657.2 L443.8 656.6 L444.2 655.7 L444.6 654.7 L444.9 653.8 L445.0 653.7 L445.4 652.2 L445.8 650.5 L446.2 648.8 L446.3 648.6 L446.6 647.4 L447.0 646.2 L447.2 645.8 L447.4 645.6 L447.8 645.3 L447.8 645.3 L448.2 645.6 L448.5 645.9 L448.6 646.1 L449.0 647.1 L449.4 648.3 L449.8 649.5 L449.8 649.5 L450.2 650.6 L450.6 651.7 L451.0 652.5 L451.1 652.6 L451.4 652.9 L451.8 653.3 L452.2 653.6 L452.4 653.6 L452.6 653.5 L453.0 652.8 L453.4 651.6 L453.8 650.5 L453.8 650.2 L454.2 648.1 L454.6 645.6 L455.0 643.7 L455.1 643.5 L455.4 642.5 L455.8 641.6 L456.2 641.2 L456.2 641.2 L456.6 641.0 L456.7 641.0 L457.0 641.3 L457.3 641.6 L457.4 641.9 L457.8 643.6 L458.2 645.8 L458.6 647.5 L458.6 647.7 L459.0 649.4 L459.4 651.1 L459.9 652.3 L459.9 652.4 L460.3 653.0 L460.7 653.6 L461.1 654.0 L461.2 654.0 L461.5 653.9 L461.9 653.5 L462.3 652.8 L462.6 652.3 L462.7 652.2 L463.1 651.3 L463.5 650.3 L463.9 649.5 L463.9 649.5 L464.3 649.0 L464.7 648.5 L465.0 648.4 L465.1 648.4 L465.5 648.7 L465.9 649.3 L465.9 649.3 L466.3 650.1 L466.7 651.2 L467.1 652.4 L467.4 653.3 L467.5 653.4 L467.9 654.4 L468.3 655.3 L468.7 656.1 L469.1 656.8 L469.2 657.0 L469.5 657.5 L469.9 658.1 L470.3 658.7 L470.7 659.2 L471.1 659.6 L471.4 659.8 L471.5 659.9 L471.9 660.0 L472.3 660.2 L472.7 660.3 L473.1 660.5 L473.5 660.6 L473.9 660.6 L474.3 660.7 L474.7 660.8 L474.9 660.8 L475.1 660.8 L475.5 660.9 L475.9 660.9 L476.3 660.9 L476.7 661.0 L477.1 661.0 L477.5 661.0 L477.9 661.1 L478.3 661.1 L478.7 661.1 L479.1 661.1 L479.3 661.1 L479.5 661.1 L479.9 661.1 L480.3 661.1 L480.7 661.1 L481.1 661.1 L481.6 661.1 L482.0 661.1 L482.4 661.1 L482.8 661.1 L483.2 661.2 L483.6 661.2 L484.0 661.2 L484.4 661.2 L484.8 661.2 L485.2 661.2 L485.6 661.2 L486.0 661.2 L486.4 661.2 L486.8 661.2 L487.2 661.2 L487.6 661.2 L488.0 661.2 L488.4 661.2 L488.8 661.2 L489.2 661.2 L489.6 661.2 L490.0 661.2 L490.4 661.2 L490.8 661.2 L491.2 661.2 L491.6 661.2 L492.0 661.2 L492.4 661.2 L492.5 661.2 L492.8 661.2 L493.2 661.2 L493.6 661.2 L494.0 661.2 L494.4 661.2 L494.8 661.2 L495.2 661.2 L495.6 661.2 L496.0 661.2 L496.4 661.2 L496.8 661.2 L497.2 661.2 L497.6 661.2 L498.0 661.2 L498.4 661.2 L498.8 661.2 L499.2 661.2 L499.6 661.2 L500.0 661.2 L500.4 661.2 L500.8 661.2 L501.2 661.2 L501.6 661.2 L502.0 661.2 L502.4 661.2 L502.8 661.2 L503.2 661.2 L503.7 661.2 L504.1 661.2 L504.5 661.2 L504.9 661.2 L505.3 661.2 L505.7 661.2 L506.1 661.2 L506.5 661.2 L506.9 661.2 L507.3 661.2 L507.7 661.2 L508.1 661.2 L508.5 661.2 L508.9 661.2 L509.3 661.2 L509.7 661.2 L510.1 661.2 L510.5 661.2 L510.9 661.2 L511.3 661.2 L511.7 661.2 L512.1 661.2 L512.5 661.2 L512.9 661.1 L513.3 661.1 L513.7 661.1 L514.1 661.1 L514.5 661.1 L514.9 661.1 L515.3 661.1 L515.7 661.1 L516.1 661.1 L516.5 661.1 L516.9 661.1 L517.3 661.1 L517.7 661.1 L518.1 661.1 L518.5 661.1 L518.9 661.1 L519.0 661.1 L519.3 661.1 L519.7 661.0 L520.1 660.9 L520.5 660.8 L520.9 660.7 L521.3 660.6 L521.6 660.6 L521.7 660.6 L522.1 660.6 L522.5 660.7 L522.9 660.8 L523.3 660.9 L523.7 661.0 L524.1 661.0 L524.3 661.0 L524.5 661.0 L524.9 661.0 L525.3 661.0 L525.8 661.0 L526.2 661.0 L526.6 661.0 L527.0 661.0 L527.4 661.0 L527.8 661.1 L528.2 661.1 L528.6 661.1 L529.0 661.1 L529.4 661.1 L529.8 661.1 L530.2 661.1 L530.6 661.1 L531.0 661.1 L531.4 661.1 L531.8 661.1 L532.2 661.1 L532.6 661.1 L533.0 661.1 L533.4 661.1 L533.8 661.1 L534.2 661.1 L534.6 661.1 L535.0 661.1 L535.4 661.1 L535.8 661.1 L536.2 661.1 L536.6 661.1" fill="none" stroke="#ee3a3c" stroke-width="1.25" stroke-linejoin="round"/>
<path d="M404.4 685.6 L404.8 685.6 L405.2 685.6 L405.6 685.5 L406.0 685.4 L406.4 685.3 L406.4 685.3 L406.8 679.8 L406.8 679.6 L407.2 673.8 L407.3 673.6 L407.6 678.8 L407.7 680.2 L408.0 683.8 L408.1 684.4 L408.4 684.6 L408.8 684.8 L409.2 684.9 L409.6 685.0 L410.0 685.0 L410.1 685.0 L410.4 685.0 L410.8 685.0 L411.2 684.9 L411.6 684.9 L412.0 684.8 L412.4 684.7 L412.8 684.7 L413.2 684.7 L413.2 684.7 L413.6 684.7 L414.0 684.8 L414.4 684.9 L414.8 685.0 L415.2 685.1 L415.7 685.2 L416.1 685.3 L416.5 685.4 L416.7 685.4 L416.9 685.4 L417.3 685.4 L417.7 685.4 L418.1 685.5 L418.5 685.5 L418.9 685.5 L419.3 685.5 L419.7 685.5 L420.1 685.5 L420.5 685.5 L420.9 685.5 L421.3 685.5 L421.7 685.5 L422.1 685.6 L422.5 685.6 L422.9 685.6 L423.3 685.6 L423.7 685.6 L424.1 685.6 L424.5 685.6 L424.9 685.6 L425.3 685.6 L425.7 685.7 L426.1 685.7 L426.4 685.7 L426.5 685.7 L426.9 685.8 L427.3 685.9 L427.7 686.1 L428.1 686.2 L428.5 686.3 L428.9 686.4 L429.1 686.4 L429.3 686.4 L429.7 686.4 L430.1 686.4 L430.5 686.4 L430.9 686.3 L431.3 686.3 L431.7 686.3 L431.7 686.3 L432.1 686.2 L432.5 686.1 L432.9 686.0 L433.3 685.8 L433.7 685.6 L434.1 685.4 L434.5 685.3 L434.9 685.1 L435.2 685.0 L435.3 685.0 L435.7 684.9 L436.1 684.8 L436.5 684.7 L436.9 684.6 L437.3 684.5 L437.8 684.5 L438.2 684.4 L438.6 684.3 L439.0 684.2 L439.4 684.1 L439.7 684.0 L439.8 684.0 L440.2 683.8 L440.6 683.7 L441.0 683.6 L441.4 683.4 L441.8 683.3 L442.2 683.1 L442.6 682.8 L443.0 682.6 L443.2 682.4 L443.4 682.2 L443.8 681.6 L444.2 680.8 L444.6 679.8 L444.9 678.9 L445.0 678.8 L445.4 677.4 L445.8 675.7 L446.2 674.1 L446.3 673.9 L446.6 672.8 L447.0 671.6 L447.2 671.1 L447.4 671.0 L447.8 670.7 L447.8 670.7 L448.2 671.0 L448.5 671.3 L448.6 671.5 L449.0 672.5 L449.4 673.8 L449.8 674.9 L449.8 674.9 L450.2 676.1 L450.6 677.1 L451.0 678.0 L451.1 678.1 L451.4 678.4 L451.8 678.8 L452.2 679.1 L452.4 679.1 L452.6 679.0 L453.0 678.5 L453.4 677.7 L453.8 676.9 L453.8 676.8 L454.2 675.3 L454.6 673.6 L455.0 672.2 L455.1 672.1 L455.4 671.5 L455.8 670.8 L456.2 670.6 L456.2 670.5 L456.6 670.4 L456.7 670.4 L457.0 670.6 L457.3 670.9 L457.4 671.1 L457.8 672.5 L458.2 674.3 L458.6 675.7 L458.6 675.8 L459.0 677.3 L459.4 678.6 L459.9 679.6 L459.9 679.7 L460.3 680.2 L460.7 680.7 L461.1 681.0 L461.2 681.0 L461.5 681.0 L461.9 680.7 L462.3 680.3 L462.6 680.0 L462.7 679.9 L463.1 679.4 L463.5 678.9 L463.9 678.5 L463.9 678.4 L464.3 678.1 L464.7 677.9 L465.0 677.8 L465.1 677.8 L465.5 678.0 L465.9 678.3 L465.9 678.4 L466.3 678.9 L466.7 679.6 L467.1 680.4 L467.4 680.9 L467.5 681.0 L467.9 681.6 L468.3 682.1 L468.7 682.5 L469.1 683.0 L469.2 683.1 L469.5 683.4 L469.9 683.7 L470.3 684.1 L470.7 684.4 L471.1 684.7 L471.4 684.8 L471.5 684.8 L471.9 685.0 L472.3 685.1 L472.7 685.3 L473.1 685.4 L473.5 685.5 L473.9 685.6 L474.3 685.6 L474.7 685.7 L474.9 685.7 L475.1 685.7 L475.5 685.8 L475.9 685.8 L476.3 685.8 L476.7 685.9 L477.1 685.9 L477.5 685.9 L477.9 686.0 L478.3 686.0 L478.7 686.0 L479.1 686.0 L479.3 686.0 L479.5 686.0 L479.9 686.0 L480.3 686.0 L480.7 686.0 L481.1 686.0 L481.6 686.0 L482.0 686.0 L482.4 686.0 L482.8 686.0 L483.2 686.0 L483.6 686.0 L484.0 686.0 L484.4 686.0 L484.8 686.0 L485.2 686.0 L485.6 686.0 L486.0 686.0 L486.4 686.0 L486.8 686.0 L487.2 686.0 L487.6 686.1 L488.0 686.1 L488.4 686.1 L488.8 686.1 L489.2 686.1 L489.6 686.1 L490.0 686.1 L490.4 686.1 L490.8 686.1 L491.2 686.1 L491.6 686.1 L492.0 686.1 L492.4 686.1 L492.8 686.1 L493.2 686.1 L493.6 686.1 L494.0 686.1 L494.4 686.1 L494.8 686.1 L495.2 686.1 L495.6 686.1 L496.0 686.1 L496.4 686.1 L496.8 686.1 L497.2 686.1 L497.6 686.1 L498.0 686.1 L498.4 686.1 L498.8 686.1 L499.2 686.1 L499.6 686.1 L500.0 686.1 L500.4 686.1 L500.8 686.1 L501.2 686.1 L501.3 686.1 L501.6 686.1 L502.0 686.1 L502.4 686.1 L502.8 686.1 L503.2 686.1 L503.7 686.1 L504.1 686.1 L504.5 686.2 L504.9 686.2 L505.3 686.2 L505.7 686.2 L506.1 686.2 L506.5 686.2 L506.9 686.2 L507.3 686.2 L507.7 686.3 L508.1 686.3 L508.5 686.3 L508.9 686.3 L509.3 686.3 L509.7 686.3 L510.1 686.3 L510.5 686.3 L510.9 686.3 L511.3 686.4 L511.7 686.4 L512.1 686.4 L512.5 686.4 L512.9 686.4 L513.3 686.4 L513.7 686.4 L514.1 686.4 L514.5 686.4 L514.6 686.4 L514.9 686.4 L515.3 686.4 L515.7 686.4 L516.1 686.4 L516.5 686.4 L516.9 686.4 L517.3 686.4 L517.7 686.4 L518.1 686.4 L518.5 686.3 L518.9 686.3 L519.3 686.3 L519.7 686.3 L520.1 686.3 L520.5 686.3 L520.9 686.3 L521.3 686.3 L521.7 686.3 L522.1 686.2 L522.5 686.2 L522.9 686.2 L523.3 686.2 L523.7 686.2 L524.1 686.2 L524.5 686.2 L524.9 686.2 L525.3 686.2 L525.8 686.1 L526.2 686.1 L526.6 686.1 L527.0 686.1 L527.4 686.1 L527.8 686.1 L527.8 686.1 L528.2 686.1 L528.6 686.1 L529.0 686.1 L529.4 686.1 L529.8 686.1 L530.2 686.1 L530.6 686.1 L531.0 686.1 L531.4 686.1 L531.8 686.0 L532.2 686.0 L532.6 686.0 L533.0 686.0 L533.4 686.0 L533.8 686.0 L534.2 686.0 L534.6 686.0 L535.0 686.0 L535.4 686.0 L535.8 686.0 L536.2 686.0 L536.6 686.0" fill="none" stroke="#45b271" stroke-width="1.25" stroke-linejoin="round"/>
<path d="M404.4 710.4 L404.8 710.4 L405.2 710.4 L405.6 710.3 L406.0 710.2 L406.4 710.1 L406.4 710.0 L406.8 703.9 L406.8 703.8 L407.2 697.3 L407.3 697.1 L407.6 702.9 L407.7 704.4 L408.0 708.5 L408.1 709.2 L408.4 709.4 L408.8 709.6 L409.2 709.8 L409.6 709.9 L410.0 709.9 L410.1 709.9 L410.4 709.9 L410.8 709.9 L411.2 709.8 L411.6 709.8 L412.0 709.7 L412.4 709.6 L412.8 709.6 L413.2 709.6 L413.2 709.6 L413.6 709.6 L414.0 709.7 L414.4 709.7 L414.8 709.8 L415.2 709.9 L415.7 710.0 L416.1 710.0 L416.5 710.1 L416.7 710.1 L416.9 710.1 L417.3 710.1 L417.7 710.1 L418.1 710.2 L418.5 710.2 L418.9 710.2 L419.3 710.2 L419.7 710.2 L420.1 710.2 L420.5 710.2 L420.9 710.2 L421.3 710.2 L421.7 710.2 L422.1 710.2 L422.5 710.3 L422.9 710.3 L423.3 710.3 L423.7 710.3 L424.1 710.3 L424.5 710.3 L424.9 710.3 L425.3 710.3 L425.7 710.4 L426.1 710.4 L426.4 710.4 L426.5 710.4 L426.9 710.5 L427.3 710.6 L427.7 710.8 L428.1 711.0 L428.5 711.2 L428.9 711.4 L429.3 711.5 L429.7 711.6 L430.0 711.6 L430.1 711.6 L430.5 711.6 L430.9 711.5 L431.3 711.4 L431.7 711.3 L432.1 711.2 L432.5 711.1 L432.6 711.1 L432.9 711.0 L433.3 710.8 L433.7 710.6 L434.1 710.3 L434.5 710.1 L434.9 709.9 L435.2 709.8 L435.3 709.8 L435.7 709.7 L436.1 709.6 L436.5 709.5 L436.9 709.4 L437.3 709.3 L437.8 709.2 L438.2 709.2 L438.6 709.1 L439.0 709.0 L439.4 708.9 L439.7 708.8 L439.8 708.8 L440.2 708.7 L440.6 708.5 L441.0 708.4 L441.4 708.3 L441.8 708.1 L442.2 707.9 L442.6 707.7 L443.0 707.4 L443.2 707.2 L443.4 706.9 L443.8 705.8 L444.2 704.1 L444.6 702.0 L444.9 699.9 L445.0 699.7 L445.4 696.4 L445.8 692.3 L446.2 688.5 L446.3 687.9 L446.6 685.3 L447.0 682.5 L447.2 681.5 L447.4 681.1 L447.8 680.6 L447.8 680.6 L448.2 681.1 L448.5 681.8 L448.6 682.3 L449.0 685.1 L449.4 688.9 L449.8 692.2 L449.8 692.3 L450.2 695.4 L450.6 698.4 L451.0 700.7 L451.1 701.0 L451.4 702.0 L451.8 703.0 L452.2 703.7 L452.4 703.8 L452.6 703.8 L453.0 703.4 L453.4 702.8 L453.8 702.3 L453.8 702.2 L454.2 701.1 L454.6 699.9 L455.0 699.0 L455.1 698.9 L455.4 698.5 L455.8 698.0 L456.2 697.8 L456.2 697.8 L456.6 697.7 L456.7 697.7 L457.0 697.9 L457.3 698.1 L457.4 698.3 L457.8 699.7 L458.2 701.4 L458.6 702.9 L458.6 703.0 L459.0 704.4 L459.4 705.7 L459.9 706.7 L459.9 706.8 L460.3 707.2 L460.7 707.7 L461.1 708.0 L461.2 708.0 L461.5 708.0 L461.9 707.8 L462.3 707.6 L462.6 707.4 L462.7 707.3 L463.1 707.0 L463.5 706.7 L463.9 706.4 L463.9 706.4 L464.3 706.2 L464.7 706.0 L465.0 706.0 L465.1 706.0 L465.5 706.1 L465.9 706.3 L465.9 706.3 L466.3 706.6 L466.7 707.0 L467.1 707.5 L467.4 707.8 L467.5 707.8 L467.9 708.1 L468.3 708.3 L468.7 708.5 L469.1 708.7 L469.2 708.7 L469.5 708.8 L469.9 709.0 L470.3 709.2 L470.7 709.4 L471.1 709.5 L471.4 709.6 L471.5 709.6 L471.9 709.7 L472.3 709.8 L472.7 709.9 L473.1 710.0 L473.5 710.1 L473.9 710.2 L474.3 710.2 L474.7 710.3 L474.9 710.3 L475.1 710.3 L475.5 710.4 L475.9 710.4 L476.3 710.4 L476.7 710.5 L477.1 710.5 L477.5 710.5 L477.9 710.6 L478.3 710.6 L478.7 710.6 L479.1 710.6 L479.3 710.6 L479.5 710.6 L479.9 710.6 L480.3 710.6 L480.7 710.6 L481.1 710.6 L481.6 710.6 L482.0 710.6 L482.4 710.6 L482.8 710.6 L483.2 710.6 L483.6 710.6 L484.0 710.6 L484.4 710.6 L484.8 710.6 L485.2 710.7 L485.6 710.7 L486.0 710.7 L486.4 710.7 L486.8 710.7 L487.2 710.7 L487.6 710.7 L488.0 710.7 L488.4 710.7 L488.8 710.7 L489.2 710.7 L489.6 710.7 L490.0 710.7 L490.4 710.7 L490.8 710.7 L491.2 710.7 L491.6 710.7 L492.0 710.7 L492.4 710.7 L492.8 710.7 L493.2 710.7 L493.6 710.7 L494.0 710.7 L494.4 710.7 L494.8 710.7 L495.2 710.7 L495.6 710.7 L496.0 710.7 L496.4 710.7 L496.8 710.7 L497.2 710.7 L497.6 710.7 L498.0 710.7 L498.4 710.7 L498.8 710.7 L499.2 710.7 L499.6 710.7 L500.0 710.7 L500.4 710.7 L500.8 710.7 L501.2 710.7 L501.3 710.7 L501.6 710.7 L502.0 710.7 L502.4 710.7 L502.8 710.7 L503.2 710.7 L503.7 710.7 L504.1 710.7 L504.5 710.7 L504.9 710.7 L505.3 710.7 L505.7 710.7 L506.1 710.7 L506.5 710.7 L506.9 710.7 L507.3 710.7 L507.7 710.7 L508.1 710.7 L508.5 710.7 L508.9 710.7 L509.3 710.7 L509.7 710.7 L510.1 710.6 L510.5 710.6 L510.9 710.6 L511.3 710.6 L511.7 710.6 L512.1 710.6 L512.5 710.6 L512.9 710.6 L513.3 710.6 L513.7 710.6 L514.1 710.6 L514.5 710.6 L514.9 710.6 L515.3 710.6 L515.7 710.6 L516.1 710.6 L516.5 710.6 L516.9 710.6 L517.3 710.6 L517.7 710.6 L518.1 710.6 L518.5 710.6 L518.9 710.6 L519.3 710.5 L519.7 710.5 L520.1 710.5 L520.5 710.5 L520.9 710.5 L521.3 710.5 L521.7 710.5 L522.1 710.5 L522.5 710.5 L522.9 710.5 L523.3 710.5 L523.7 710.5 L524.1 710.5 L524.5 710.5 L524.9 710.5 L525.3 710.5 L525.8 710.5 L526.2 710.5 L526.6 710.5 L527.0 710.5 L527.4 710.5 L527.8 710.5 L527.8 710.5 L528.2 710.5 L528.6 710.5 L529.0 710.5 L529.4 710.5 L529.8 710.5 L530.2 710.5 L530.6 710.5 L531.0 710.5 L531.4 710.5 L531.8 710.5 L532.2 710.5 L532.6 710.5 L533.0 710.5 L533.4 710.5 L533.8 710.6 L534.2 710.6 L534.6 710.6 L535.0 710.6 L535.4 710.6 L535.8 710.6 L536.2 710.6 L536.6 710.6" fill="none" stroke="#8a57b8" stroke-width="1.25" stroke-linejoin="round"/>
<path d="M404.4 736.1 L404.8 736.1 L405.2 736.1 L405.6 736.0 L406.0 735.9 L406.4 735.8 L406.4 735.8 L406.8 730.4 L406.8 730.2 L407.2 724.6 L407.3 724.4 L407.6 729.5 L407.7 730.8 L408.0 734.3 L408.1 734.9 L408.4 735.1 L408.8 735.3 L409.2 735.4 L409.6 735.5 L410.0 735.5 L410.1 735.5 L410.4 735.5 L410.8 735.3 L411.2 735.1 L411.6 734.9 L412.0 734.7 L412.4 734.5 L412.8 734.5 L412.8 734.5 L413.2 734.5 L413.6 734.6 L414.0 734.8 L414.4 734.9 L414.8 735.0 L415.2 735.2 L415.7 735.3 L415.9 735.3 L416.1 735.3 L416.5 735.4 L416.9 735.4 L417.3 735.5 L417.7 735.5 L418.1 735.5 L418.5 735.6 L418.9 735.6 L419.3 735.6 L419.7 735.6 L420.1 735.7 L420.5 735.7 L420.9 735.7 L421.3 735.8 L421.7 735.8 L422.0 735.8 L422.1 735.8 L422.5 735.8 L422.9 735.8 L423.3 735.9 L423.7 735.9 L424.1 735.9 L424.5 735.9 L424.9 735.9 L425.3 736.0 L425.7 736.0 L426.1 736.0 L426.5 736.0 L426.9 736.1 L427.3 736.1 L427.3 736.1 L427.7 736.2 L428.1 736.3 L428.5 736.5 L428.9 736.7 L429.3 736.9 L429.7 737.0 L430.0 737.0 L430.1 737.0 L430.5 737.0 L430.9 736.9 L431.3 736.8 L431.7 736.7 L432.1 736.6 L432.5 736.5 L432.6 736.5 L432.9 736.4 L433.3 736.3 L433.7 736.1 L434.1 735.9 L434.5 735.8 L434.9 735.6 L435.2 735.5 L435.3 735.5 L435.7 735.4 L436.1 735.3 L436.5 735.2 L436.9 735.1 L437.3 735.0 L437.8 735.0 L438.2 734.9 L438.6 734.8 L439.0 734.7 L439.4 734.6 L439.7 734.5 L439.8 734.5 L440.2 734.3 L440.6 734.2 L441.0 734.1 L441.4 734.0 L441.8 733.8 L442.2 733.6 L442.6 733.4 L443.0 733.1 L443.2 732.9 L443.4 732.7 L443.8 731.8 L444.2 730.5 L444.6 729.0 L444.9 727.5 L445.0 727.3 L445.4 724.9 L445.8 722.0 L446.2 719.2 L446.3 718.8 L446.6 716.9 L447.0 714.9 L447.2 714.2 L447.4 713.9 L447.8 713.5 L447.8 713.5 L448.2 713.9 L448.5 714.4 L448.6 714.8 L449.0 716.9 L449.4 719.7 L449.8 722.2 L449.8 722.3 L450.2 724.6 L450.6 726.9 L451.0 728.5 L451.1 728.8 L451.4 729.5 L451.8 730.3 L452.2 730.8 L452.4 730.9 L452.6 730.9 L453.0 730.7 L453.4 730.5 L453.8 730.3 L453.8 730.3 L454.2 729.9 L454.6 729.4 L455.0 729.0 L455.1 729.0 L455.4 728.8 L455.8 728.7 L456.2 728.6 L456.2 728.6 L456.6 728.5 L456.7 728.5 L457.0 728.6 L457.3 728.7 L457.4 728.9 L457.8 729.6 L458.2 730.6 L458.6 731.4 L458.6 731.5 L459.0 732.3 L459.4 733.0 L459.9 733.5 L459.9 733.6 L460.3 733.9 L460.7 734.1 L461.1 734.3 L461.2 734.3 L461.5 734.3 L461.9 734.2 L462.3 734.1 L462.6 733.9 L462.7 733.9 L463.1 733.7 L463.5 733.5 L463.9 733.3 L463.9 733.3 L464.3 733.2 L464.7 733.1 L465.0 733.1 L465.1 733.1 L465.5 733.2 L465.9 733.3 L465.9 733.3 L466.3 733.5 L466.7 733.8 L467.1 734.1 L467.4 734.3 L467.5 734.3 L467.9 734.4 L468.3 734.5 L468.7 734.6 L469.1 734.7 L469.2 734.8 L469.5 734.8 L469.9 734.9 L470.3 735.0 L470.7 735.2 L471.1 735.2 L471.4 735.3 L471.5 735.3 L471.9 735.4 L472.3 735.5 L472.7 735.5 L473.1 735.6 L473.5 735.6 L473.9 735.7 L474.3 735.7 L474.7 735.8 L474.9 735.8 L475.1 735.8 L475.5 735.9 L475.9 735.9 L476.3 735.9 L476.7 736.0 L477.1 736.0 L477.5 736.0 L477.9 736.0 L478.3 736.1 L478.7 736.1 L479.1 736.1 L479.3 736.1 L479.5 736.1 L479.9 736.1 L480.3 736.1 L480.7 736.1 L481.1 736.1 L481.6 736.2 L482.0 736.2 L482.4 736.2 L482.8 736.2 L483.2 736.2 L483.6 736.2 L484.0 736.2 L484.4 736.2 L484.8 736.2 L485.2 736.2 L485.6 736.2 L486.0 736.2 L486.4 736.2 L486.8 736.2 L487.2 736.2 L487.6 736.3 L488.0 736.3 L488.4 736.3 L488.8 736.3 L489.2 736.3 L489.6 736.3 L490.0 736.3 L490.4 736.3 L490.8 736.3 L491.2 736.3 L491.6 736.3 L492.0 736.3 L492.4 736.3 L492.5 736.3 L492.8 736.3 L493.2 736.3 L493.6 736.3 L494.0 736.3 L494.4 736.3 L494.8 736.3 L495.2 736.3 L495.6 736.3 L496.0 736.3 L496.4 736.3 L496.8 736.3 L497.2 736.3 L497.6 736.3 L498.0 736.3 L498.4 736.3 L498.8 736.3 L499.2 736.3 L499.6 736.3 L500.0 736.4 L500.4 736.4 L500.8 736.4 L501.2 736.4 L501.6 736.4 L502.0 736.4 L502.4 736.4 L502.8 736.4 L503.2 736.4 L503.7 736.4 L504.1 736.4 L504.5 736.4 L504.9 736.4 L505.3 736.4 L505.7 736.4 L506.1 736.4 L506.5 736.4 L506.9 736.4 L507.3 736.4 L507.7 736.4 L508.1 736.4 L508.5 736.4 L508.9 736.4 L509.3 736.4 L509.7 736.4 L510.1 736.4 L510.5 736.4 L510.9 736.4 L511.3 736.4 L511.7 736.4 L512.1 736.4 L512.5 736.4 L512.9 736.4 L513.3 736.4 L513.7 736.4 L514.1 736.4 L514.5 736.4 L514.6 736.4 L514.9 736.4 L515.3 736.4 L515.7 736.4 L516.1 736.3 L516.5 736.3 L516.9 736.3 L517.3 736.2 L517.7 736.2 L518.1 736.1 L518.5 736.1 L518.9 736.0 L519.3 736.0 L519.7 735.9 L520.1 735.8 L520.5 735.8 L520.9 735.8 L521.3 735.7 L521.7 735.7 L522.1 735.6 L522.5 735.6 L522.9 735.6 L523.3 735.6 L523.4 735.6 L523.7 735.6 L524.1 735.6 L524.5 735.6 L524.9 735.6 L525.3 735.6 L525.8 735.6 L526.2 735.6 L526.6 735.6 L527.0 735.6 L527.4 735.6 L527.8 735.6 L528.2 735.6 L528.6 735.6 L529.0 735.6 L529.4 735.6 L529.8 735.7 L530.2 735.7 L530.6 735.7 L531.0 735.7 L531.4 735.7 L531.8 735.7 L532.2 735.7 L532.6 735.8 L533.0 735.8 L533.4 735.8 L533.8 735.8 L534.2 735.9 L534.6 735.9 L535.0 735.9 L535.4 736.0 L535.8 736.0 L536.2 736.1 L536.6 736.1" fill="none" stroke="#2fb3e6" stroke-width="1.25" stroke-linejoin="round"/>
<path d="M404.4 760.8 L404.8 760.8 L405.2 760.8 L405.6 760.7 L406.0 760.6 L406.4 760.5 L406.4 760.5 L406.8 755.3 L406.8 755.1 L407.2 749.5 L407.3 749.4 L407.6 754.4 L407.7 755.7 L408.0 759.1 L408.1 759.6 L408.4 759.4 L408.8 758.5 L409.2 757.4 L409.6 756.4 L409.7 756.3 L410.0 755.7 L410.4 755.1 L410.8 754.4 L411.2 753.8 L411.6 753.4 L412.0 753.1 L412.3 753.0 L412.4 753.0 L412.8 753.4 L413.2 754.0 L413.6 754.5 L413.7 754.5 L414.0 754.7 L414.4 754.8 L414.8 754.9 L415.2 755.1 L415.4 755.2 L415.7 755.4 L416.1 755.9 L416.5 756.6 L416.9 757.3 L417.3 757.9 L417.6 758.3 L417.7 758.3 L418.1 758.6 L418.5 758.8 L418.9 759.1 L419.3 759.3 L419.7 759.4 L420.1 759.6 L420.5 759.8 L420.9 759.9 L421.3 760.0 L421.7 760.1 L422.0 760.2 L422.1 760.2 L422.5 760.3 L422.9 760.4 L423.3 760.4 L423.7 760.5 L424.1 760.5 L424.5 760.6 L424.9 760.6 L425.3 760.6 L425.7 760.7 L426.1 760.7 L426.5 760.8 L426.9 760.9 L427.3 761.0 L427.3 761.0 L427.7 761.2 L428.1 761.5 L428.5 761.9 L428.9 762.2 L429.3 762.6 L429.7 762.8 L430.0 762.8 L430.1 762.8 L430.5 762.7 L430.9 762.6 L431.3 762.4 L431.7 762.2 L432.1 762.0 L432.5 761.8 L432.6 761.8 L432.9 761.6 L433.3 761.4 L433.7 761.1 L434.1 760.8 L434.5 760.5 L434.9 760.3 L435.2 760.2 L435.3 760.2 L435.7 760.0 L436.1 759.9 L436.5 759.9 L436.9 759.8 L437.3 759.7 L437.8 759.6 L438.2 759.6 L438.6 759.5 L439.0 759.4 L439.4 759.3 L439.7 759.2 L439.8 759.2 L440.2 759.0 L440.6 758.9 L441.0 758.8 L441.4 758.7 L441.8 758.5 L442.2 758.3 L442.6 758.0 L443.0 757.8 L443.2 757.6 L443.4 757.4 L443.8 756.6 L444.2 755.6 L444.6 754.3 L444.9 753.1 L445.0 752.9 L445.4 751.1 L445.8 748.8 L446.2 746.6 L446.3 746.3 L446.6 744.8 L447.0 743.1 L447.2 742.6 L447.4 742.3 L447.8 742.0 L447.8 742.0 L448.2 742.3 L448.5 742.8 L448.6 743.1 L449.0 744.9 L449.4 747.4 L449.8 749.6 L449.8 749.7 L450.2 751.7 L450.6 753.7 L451.0 755.1 L451.1 755.4 L451.4 756.0 L451.8 756.7 L452.2 757.1 L452.4 757.2 L452.6 757.2 L453.0 757.1 L453.4 757.1 L453.8 757.0 L453.8 757.0 L454.2 756.8 L454.6 756.7 L455.0 756.6 L455.1 756.6 L455.4 756.5 L455.8 756.5 L456.2 756.4 L456.2 756.4 L456.6 756.4 L456.7 756.4 L457.0 756.5 L457.3 756.5 L457.4 756.6 L457.8 757.0 L458.2 757.6 L458.6 758.0 L458.6 758.0 L459.0 758.5 L459.4 758.9 L459.9 759.2 L459.9 759.2 L460.3 759.4 L460.7 759.5 L461.1 759.6 L461.2 759.6 L461.5 759.6 L461.9 759.6 L462.3 759.5 L462.6 759.5 L462.7 759.5 L463.1 759.4 L463.5 759.3 L463.9 759.3 L463.9 759.3 L464.3 759.2 L464.7 759.2 L465.0 759.2 L465.1 759.2 L465.5 759.2 L465.9 759.3 L465.9 759.3 L466.3 759.4 L466.7 759.6 L467.1 759.8 L467.4 759.8 L467.5 759.8 L467.9 759.8 L468.3 759.8 L468.7 759.8 L469.1 759.8 L469.2 759.8 L469.5 759.8 L469.9 759.8 L470.3 759.9 L470.7 759.9 L471.1 760.0 L471.4 760.0 L471.5 760.0 L471.9 760.1 L472.3 760.2 L472.7 760.4 L473.1 760.5 L473.5 760.7 L473.9 760.9 L474.3 761.0 L474.7 761.1 L474.9 761.1 L475.1 761.1 L475.5 761.2 L475.9 761.2 L476.3 761.2 L476.7 761.3 L477.1 761.3 L477.5 761.3 L477.9 761.3 L478.3 761.4 L478.7 761.4 L479.1 761.4 L479.3 761.4 L479.5 761.4 L479.9 761.4 L480.3 761.4 L480.7 761.5 L481.1 761.5 L481.6 761.5 L482.0 761.5 L482.4 761.5 L482.8 761.5 L483.2 761.5 L483.6 761.5 L484.0 761.6 L484.4 761.6 L484.8 761.6 L485.2 761.6 L485.6 761.6 L486.0 761.6 L486.4 761.6 L486.8 761.6 L487.2 761.6 L487.6 761.6 L488.0 761.7 L488.4 761.7 L488.8 761.7 L489.2 761.7 L489.6 761.7 L490.0 761.7 L490.4 761.7 L490.8 761.7 L491.2 761.7 L491.6 761.7 L492.0 761.7 L492.4 761.7 L492.5 761.7 L492.8 761.7 L493.2 761.7 L493.6 761.7 L494.0 761.7 L494.4 761.7 L494.8 761.7 L495.2 761.7 L495.6 761.7 L496.0 761.7 L496.4 761.7 L496.8 761.6 L497.2 761.6 L497.6 761.6 L498.0 761.6 L498.4 761.6 L498.8 761.6 L499.2 761.6 L499.6 761.6 L500.0 761.5 L500.4 761.5 L500.8 761.5 L501.2 761.5 L501.6 761.5 L502.0 761.5 L502.4 761.4 L502.8 761.4 L503.2 761.4 L503.7 761.4 L504.1 761.4 L504.5 761.4 L504.9 761.3 L505.3 761.3 L505.7 761.3 L506.1 761.3 L506.5 761.3 L506.9 761.3 L507.3 761.3 L507.7 761.2 L508.1 761.2 L508.5 761.2 L508.9 761.2 L509.3 761.2 L509.7 761.2 L510.1 761.2 L510.5 761.2 L510.9 761.1 L511.3 761.1 L511.7 761.1 L512.1 761.1 L512.5 761.1 L512.9 761.1 L513.3 761.1 L513.7 761.1 L514.1 761.1 L514.5 761.1 L514.6 761.1 L514.9 761.1 L515.3 761.1 L515.7 761.1 L516.1 761.1 L516.5 761.1 L516.9 761.1 L517.3 761.1 L517.7 761.1 L518.1 761.1 L518.5 761.1 L518.9 761.1 L519.3 761.1 L519.7 761.1 L520.1 761.1 L520.5 761.1 L520.9 761.1 L521.3 761.1 L521.7 761.1 L522.1 761.1 L522.5 761.1 L522.9 761.1 L523.3 761.1 L523.7 761.1 L524.1 761.1 L524.5 761.1 L524.9 761.1 L525.3 761.2 L525.8 761.2 L526.2 761.2 L526.6 761.2 L527.0 761.2 L527.4 761.2 L527.8 761.2 L528.2 761.2 L528.6 761.2 L529.0 761.2 L529.4 761.2 L529.8 761.2 L530.2 761.2 L530.6 761.2 L531.0 761.2 L531.4 761.3 L531.8 761.3 L532.2 761.3 L532.6 761.3 L533.0 761.3 L533.4 761.3 L533.8 761.3 L534.2 761.3 L534.6 761.3 L535.0 761.3 L535.4 761.4 L535.8 761.4 L536.2 761.4 L536.6 761.4" fill="none" stroke="#f3b240" stroke-width="1.25" stroke-linejoin="round"/>
<path d="M404.4 785.8 L404.8 785.8 L405.2 785.8 L405.6 785.7 L406.0 785.6 L406.4 785.5 L406.4 785.4 L406.8 779.5 L406.8 779.3 L407.2 773.0 L407.3 772.8 L407.6 778.4 L407.7 779.9 L408.0 784.0 L408.1 784.6 L408.4 784.4 L408.8 783.4 L409.2 782.0 L409.6 780.9 L409.7 780.8 L410.0 780.2 L410.4 779.4 L410.8 778.7 L411.2 778.1 L411.6 777.6 L412.0 777.3 L412.3 777.2 L412.4 777.2 L412.8 777.7 L413.2 778.5 L413.6 779.2 L413.7 779.2 L414.0 779.5 L414.4 779.8 L414.8 780.0 L415.2 780.3 L415.4 780.4 L415.7 780.6 L416.1 781.1 L416.5 781.6 L416.9 782.1 L417.3 782.5 L417.6 782.8 L417.7 782.8 L418.1 783.1 L418.5 783.3 L418.9 783.5 L419.3 783.7 L419.7 783.8 L420.1 784.0 L420.5 784.1 L420.9 784.3 L421.3 784.4 L421.7 784.5 L422.0 784.6 L422.1 784.6 L422.5 784.7 L422.9 784.8 L423.3 784.8 L423.7 784.9 L424.1 784.9 L424.5 785.0 L424.9 785.0 L425.3 785.1 L425.7 785.2 L426.1 785.2 L426.5 785.3 L426.9 785.4 L427.3 785.5 L427.3 785.5 L427.7 785.7 L428.1 786.0 L428.5 786.4 L428.9 786.8 L429.3 787.2 L429.7 787.4 L430.0 787.4 L430.1 787.4 L430.5 787.3 L430.9 787.2 L431.3 787.1 L431.7 787.0 L432.1 786.8 L432.5 786.6 L432.6 786.6 L432.9 786.5 L433.3 786.2 L433.7 786.0 L434.1 785.8 L434.5 785.5 L434.9 785.3 L435.2 785.2 L435.3 785.2 L435.7 785.1 L436.1 785.0 L436.5 784.9 L436.9 784.8 L437.3 784.7 L437.8 784.6 L438.2 784.6 L438.6 784.5 L439.0 784.4 L439.4 784.3 L439.7 784.2 L439.8 784.2 L440.2 784.0 L440.6 783.9 L441.0 783.8 L441.4 783.7 L441.8 783.5 L442.2 783.3 L442.6 783.1 L443.0 782.8 L443.2 782.6 L443.4 782.4 L443.8 781.6 L444.2 780.4 L444.6 779.1 L444.9 777.7 L445.0 777.6 L445.4 775.5 L445.8 772.9 L446.2 770.6 L446.3 770.2 L446.6 768.5 L447.0 766.7 L447.2 766.1 L447.4 765.9 L447.8 765.5 L447.8 765.5 L448.2 765.8 L448.5 766.3 L448.6 766.7 L449.0 768.7 L449.4 771.4 L449.8 773.8 L449.8 773.8 L450.2 776.0 L450.6 778.2 L451.0 779.8 L451.1 780.0 L451.4 780.7 L451.8 781.5 L452.2 781.9 L452.4 782.0 L452.6 782.0 L453.0 781.9 L453.4 781.9 L453.8 781.8 L453.8 781.8 L454.2 781.6 L454.6 781.4 L455.0 781.3 L455.1 781.3 L455.4 781.2 L455.8 781.2 L456.2 781.1 L456.2 781.1 L456.6 781.1 L456.7 781.1 L457.0 781.2 L457.3 781.2 L457.4 781.3 L457.8 781.7 L458.2 782.2 L458.6 782.5 L458.6 782.6 L459.0 783.0 L459.4 783.3 L459.9 783.6 L459.9 783.7 L460.3 783.8 L460.7 783.9 L461.1 784.0 L461.2 784.0 L461.5 784.0 L461.9 784.0 L462.3 784.0 L462.6 784.0 L462.7 784.0 L463.1 784.0 L463.5 783.9 L463.9 783.9 L463.9 783.9 L464.3 783.9 L464.7 783.9 L465.0 783.9 L465.1 783.9 L465.5 784.0 L465.9 784.0 L465.9 784.0 L466.3 784.2 L466.7 784.4 L467.1 784.6 L467.4 784.7 L467.5 784.7 L467.9 784.7 L468.3 784.7 L468.7 784.7 L469.1 784.7 L469.2 784.7 L469.5 784.7 L469.9 784.8 L470.3 784.8 L470.7 784.9 L471.1 785.0 L471.4 785.0 L471.5 785.0 L471.9 785.1 L472.3 785.3 L472.7 785.4 L473.1 785.6 L473.5 785.7 L473.9 785.9 L474.3 786.0 L474.7 786.1 L474.9 786.1 L475.1 786.1 L475.5 786.2 L475.9 786.2 L476.3 786.2 L476.7 786.2 L477.1 786.3 L477.5 786.3 L477.9 786.3 L478.3 786.3 L478.7 786.4 L479.1 786.4 L479.3 786.4 L479.5 786.4 L479.9 786.5 L480.3 786.5 L480.7 786.6 L481.1 786.6 L481.6 786.6 L482.0 786.7 L482.4 786.7 L482.8 786.8 L483.2 786.8 L483.6 786.8 L483.7 786.8 L484.0 786.8 L484.4 786.8 L484.8 786.8 L485.2 786.8 L485.6 786.8 L486.0 786.8 L486.4 786.8 L486.8 786.7 L487.2 786.7 L487.6 786.7 L488.0 786.7 L488.4 786.7 L488.8 786.7 L489.2 786.7 L489.6 786.6 L490.0 786.6 L490.4 786.6 L490.8 786.6 L491.2 786.5 L491.6 786.5 L492.0 786.5 L492.4 786.5 L492.8 786.5 L493.2 786.4 L493.6 786.4 L494.0 786.4 L494.4 786.4 L494.8 786.3 L495.2 786.3 L495.6 786.3 L496.0 786.3 L496.4 786.2 L496.8 786.2 L497.2 786.2 L497.6 786.2 L498.0 786.1 L498.4 786.1 L498.8 786.1 L499.2 786.1 L499.6 786.1 L500.0 786.0 L500.4 786.0 L500.8 786.0 L501.2 786.0 L501.3 786.0 L501.6 786.0 L502.0 786.0 L502.4 786.0 L502.8 786.0 L503.2 785.9 L503.7 785.9 L504.1 785.9 L504.5 785.9 L504.9 785.9 L505.3 785.9 L505.7 785.9 L506.1 785.9 L506.5 785.9 L506.9 785.9 L507.3 785.9 L507.7 785.9 L508.1 785.8 L508.5 785.8 L508.9 785.8 L509.3 785.8 L509.7 785.8 L510.1 785.8 L510.5 785.8 L510.9 785.8 L511.3 785.8 L511.7 785.8 L512.1 785.8 L512.5 785.8 L512.9 785.8 L513.3 785.8 L513.7 785.7 L514.1 785.7 L514.5 785.7 L514.9 785.7 L515.3 785.7 L515.7 785.7 L516.1 785.7 L516.5 785.7 L516.9 785.7 L517.3 785.7 L517.7 785.6 L518.1 785.6 L518.5 785.6 L518.9 785.6 L519.0 785.6 L519.3 785.6 L519.7 785.6 L520.1 785.5 L520.5 785.5 L520.9 785.5 L521.3 785.5 L521.7 785.4 L522.1 785.4 L522.5 785.3 L522.9 785.3 L523.3 785.3 L523.7 785.2 L524.1 785.2 L524.5 785.1 L524.9 785.1 L525.3 785.1 L525.8 785.0 L526.2 785.0 L526.6 785.0 L527.0 784.9 L527.4 784.9 L527.8 784.9 L528.2 784.8 L528.6 784.8 L529.0 784.8 L529.4 784.8 L529.8 784.8 L530.0 784.8 L530.2 784.8 L530.6 784.8 L531.0 784.8 L531.4 784.9 L531.8 784.9 L532.2 785.0 L532.6 785.1 L533.0 785.2 L533.4 785.3 L533.8 785.4 L534.2 785.5 L534.4 785.5 L534.6 785.6 L535.0 785.7 L535.4 785.8 L535.8 786.0 L536.2 786.2 L536.6 786.4" fill="none" stroke="#a9abc6" stroke-width="1.25" stroke-linejoin="round"/>
</g>
<rect x="404.4" y="632.3" width="132.20" height="156.10" fill="none" stroke="#111" stroke-width="1"/>
<line x1="426.43" y1="788.40" x2="426.43" y2="795.00" stroke="#111" stroke-width="1.0"/>
<line x1="448.47" y1="788.40" x2="448.47" y2="795.00" stroke="#111" stroke-width="1.0"/>
<line x1="470.50" y1="788.40" x2="470.50" y2="795.00" stroke="#111" stroke-width="1.0"/>
<line x1="492.53" y1="788.40" x2="492.53" y2="795.00" stroke="#111" stroke-width="1.0"/>
<line x1="514.57" y1="788.40" x2="514.57" y2="795.00" stroke="#111" stroke-width="1.0"/>
<text x="0" y="3.62" transform="translate(404.40 801.80) scale(1.03 1)" text-anchor="middle" font-size="10.1" fill="#231f20" stroke="#231f20" stroke-width="0.18">0</text>
<text x="0" y="3.62" transform="translate(426.43 801.80) scale(1.03 1)" text-anchor="middle" font-size="10.1" fill="#231f20" stroke="#231f20" stroke-width="0.18">5</text>
<text x="0" y="3.62" transform="translate(448.47 801.80) scale(1.03 1)" text-anchor="middle" font-size="10.1" fill="#231f20" stroke="#231f20" stroke-width="0.18">10</text>
<text x="0" y="3.62" transform="translate(470.50 801.80) scale(1.03 1)" text-anchor="middle" font-size="10.1" fill="#231f20" stroke="#231f20" stroke-width="0.18">15</text>
<text x="0" y="3.62" transform="translate(492.53 801.80) scale(1.03 1)" text-anchor="middle" font-size="10.1" fill="#231f20" stroke="#231f20" stroke-width="0.18">20</text>
<text x="0" y="3.62" transform="translate(514.57 801.80) scale(1.03 1)" text-anchor="middle" font-size="10.1" fill="#231f20" stroke="#231f20" stroke-width="0.18">25</text>
<text x="0" y="3.62" transform="translate(536.60 801.80) scale(1.03 1)" text-anchor="middle" font-size="10.1" fill="#231f20" stroke="#231f20" stroke-width="0.18">30</text>
<text x="544.00" y="805.44" font-size="9.6" fill="#231f20" stroke="#231f20" stroke-width="0.18">min</text>
<text x="541.30" y="663.39" font-size="9.2" fill="#231f20" stroke="#231f20" stroke-width="0.18">Day 4</text>
<text x="541.30" y="688.69" font-size="9.2" fill="#231f20" stroke="#231f20" stroke-width="0.18">Day 6</text>
<text x="541.30" y="714.19" font-size="9.2" fill="#231f20" stroke="#231f20" stroke-width="0.18">Day 8</text>
<text x="541.30" y="739.39" font-size="9.2" fill="#231f20" stroke="#231f20" stroke-width="0.18">Day 10</text>
<text x="541.30" y="764.39" font-size="9.2" fill="#231f20" stroke="#231f20" stroke-width="0.18">Day 12</text>
<text x="541.30" y="789.59" font-size="9.2" fill="#231f20" stroke="#231f20" stroke-width="0.18">Day 14</text>
</svg>
<div class="t" style="left:26.60px;top:11.00px;font-size:16.8px;line-height:22px;color:#fff;font-weight:900;letter-spacing:0.6px;">应用实例</div>
<div class="b" style="left:40.30px;top:47.20px;width:15.40px;height:15.40px;border-radius:50%;background:#92278f"></div>
<div class="t" style="left:60.10px;top:43.20px;font-size:18.3px;line-height:24px;color:#231f20;font-weight:500;letter-spacing:0.05px;">单克隆抗体的分离实例</div>
<div class="b" style="left:40.30px;top:339.00px;width:15.40px;height:15.40px;border-radius:50%;background:#92278f"></div>
<div class="t" style="left:60.10px;top:335.00px;font-size:18.3px;line-height:24px;color:#231f20;font-weight:500;letter-spacing:0.05px;">填料的批次差</div>
<div class="b" style="left:372.00px;top:339.00px;width:15.40px;height:15.40px;border-radius:50%;background:#92278f"></div>
<div class="t" style="left:391.80px;top:335.00px;font-size:18.3px;line-height:24px;color:#231f20;font-weight:500;letter-spacing:0.05px;">色谱柱的耐久性<span style="position:relative;left:-0.24em">（</span>培养液中抗体的分析实例<span style="position:relative;left:0.33em">）</span></div>
<div class="b" style="left:40.30px;top:582.00px;width:15.40px;height:15.40px;border-radius:50%;background:#92278f"></div>
<div class="t" style="left:60.10px;top:578.00px;font-size:18.3px;line-height:24px;color:#231f20;font-weight:500;letter-spacing:0.05px;">在质量控制中的应用</div>
<div class="t" style="left:51.00px;top:601.20px;font-size:18.3px;line-height:24px;color:#231f20;font-weight:500;letter-spacing:0.05px;"><span style="position:relative;left:0em">（</span>抗体药品批次差的检验<span style="position:relative;left:0em">）</span></div>
<div class="b" style="left:372.00px;top:582.00px;width:15.40px;height:15.40px;border-radius:50%;background:#92278f"></div>
<div class="t" style="left:391.80px;top:578.00px;font-size:18.3px;line-height:24px;color:#231f20;font-weight:500;letter-spacing:0.05px;">在过程分析中的应用</div>
<div class="t" style="left:383.00px;top:601.20px;font-size:18.3px;line-height:24px;color:#231f20;font-weight:500;letter-spacing:0.05px;"><span style="position:relative;left:0em">（</span>CHO 细胞培养的抗体的分析实例<span style="position:relative;left:0em">）</span></div>
<div class="t" style="left:69.50px;top:264.00px;font-size:13px;line-height:18px;color:#231f20;font-weight:500;letter-spacing:0.28px;">以上全部单克隆抗体样品，都观测到了特殊的分离现象。</div>
<div class="t" style="left:67.30px;top:281.70px;font-size:13px;line-height:18px;color:#231f20;font-weight:500;letter-spacing:0.28px;">（CHO细胞生产的抗体通常情况下可以分离出三个峰）</div>
<div class="t" style="left:226.50px;top:486.80px;font-size:13px;line-height:18px;color:#231f20;font-weight:500;letter-spacing:0.28px;">未观察到色谱柱填</div>
<div class="t" style="left:226.50px;top:505.10px;font-size:13px;line-height:18px;color:#231f20;font-weight:500;letter-spacing:0.28px;">料批次差而导致的</div>
<div class="t" style="left:226.50px;top:523.30px;font-size:13px;line-height:18px;color:#231f20;font-weight:500;letter-spacing:0.28px;">色谱图差异。</div>
<div class="t" style="left:616.50px;top:511.00px;font-size:13px;line-height:18px;color:#231f20;font-weight:500;letter-spacing:0.28px;">可以很好地测定培养液中</div>
<div class="t" style="left:616.50px;top:530.00px;font-size:13px;line-height:18px;color:#231f20;font-weight:500;letter-spacing:0.28px;">抗体，结果重复性优异。</div>
<div class="t" style="left:60.30px;top:820.40px;font-size:13px;line-height:18px;color:#231f20;font-weight:500;letter-spacing:0.28px;">更加快速简便地发现药品质量的批间差。</div>
<div class="t" style="left:419.50px;top:820.40px;font-size:13px;line-height:18px;color:#231f20;font-weight:500;letter-spacing:0.28px;">可以对CHO细胞培养过程中抗体浓度变化进行实时监测。</div>
<div class="t" style="left:524.30px;top:222.40px;font-size:9.6px;line-height:12px;color:#231f20;font-weight:500;-webkit-text-stroke:0.22px currentColor;">&lt; 分析条件 1&gt;</div>
<div class="t" style="left:524.30px;top:234.50px;font-size:9.6px;line-height:12px;color:#231f20;font-weight:500;letter-spacing:0.2px;-webkit-text-stroke:0.22px currentColor;"><span style="letter-spacing:0.450em">色谱</span>柱：</div>
<div class="t" style="left:572.00px;top:234.50px;font-size:9.6px;line-height:12px;color:#231f20;font-weight:500;letter-spacing:0.2px;-webkit-text-stroke:0.22px currentColor;">TSKgel FcR-IIIA-NPR（4.6 mm I.D. × 7.5 cm）</div>
<div class="t" style="left:524.30px;top:246.70px;font-size:9.6px;line-height:12px;color:#231f20;font-weight:500;letter-spacing:0.2px;-webkit-text-stroke:0.22px currentColor;">流动相 A：</div>
<div class="t" style="left:572.00px;top:246.70px;font-size:9.6px;line-height:12px;color:#231f20;font-weight:500;letter-spacing:0.2px;-webkit-text-stroke:0.22px currentColor;">50 mmol/L 柠檬酸盐缓冲液（pH 6.5）</div>
<div class="t" style="left:555.50px;top:258.80px;font-size:9.6px;line-height:12px;color:#231f20;font-weight:500;letter-spacing:0.2px;-webkit-text-stroke:0.22px currentColor;">B：</div>
<div class="t" style="left:572.00px;top:258.80px;font-size:9.6px;line-height:12px;color:#231f20;font-weight:500;letter-spacing:0.2px;-webkit-text-stroke:0.22px currentColor;">50 mmol/L 柠檬酸盐缓冲液（pH 4.5）</div>
<div class="t" style="left:524.30px;top:271.00px;font-size:9.6px;line-height:12px;color:#231f20;font-weight:500;letter-spacing:0.2px;-webkit-text-stroke:0.22px currentColor;"><span style="letter-spacing:1.900em">梯</span>度：</div>
<div class="t" style="left:572.00px;top:271.00px;font-size:9.6px;line-height:12px;color:#231f20;font-weight:500;letter-spacing:0.2px;-webkit-text-stroke:0.22px currentColor;">B 0-100%（2-20 min，线性）</div>
<div class="t" style="left:524.30px;top:283.20px;font-size:9.6px;line-height:12px;color:#231f20;font-weight:500;letter-spacing:0.2px;-webkit-text-stroke:0.22px currentColor;"><span style="letter-spacing:1.900em">流</span>速：</div>
<div class="t" style="left:572.00px;top:283.20px;font-size:9.6px;line-height:12px;color:#231f20;font-weight:500;letter-spacing:0.2px;-webkit-text-stroke:0.22px currentColor;">1.0 mL/min</div>
<div class="t" style="left:660.00px;top:283.20px;font-size:9.6px;line-height:12px;color:#231f20;font-weight:500;letter-spacing:0.2px;-webkit-text-stroke:0.22px currentColor;"><span style="letter-spacing:0.450em">检测</span>器：</div>
<div class="t" style="left:708.00px;top:283.20px;font-size:9.6px;line-height:12px;color:#231f20;font-weight:500;letter-spacing:0.2px;-webkit-text-stroke:0.22px currentColor;">UV（280 nm）</div>
<div class="t" style="left:524.30px;top:295.50px;font-size:9.6px;line-height:12px;color:#231f20;font-weight:500;letter-spacing:0.2px;-webkit-text-stroke:0.22px currentColor;"><span style="letter-spacing:1.900em">温</span>度：</div>
<div class="t" style="left:572.00px;top:295.50px;font-size:9.6px;line-height:12px;color:#231f20;font-weight:500;letter-spacing:0.2px;-webkit-text-stroke:0.22px currentColor;">25 ℃</div>
<div class="t" style="left:660.00px;top:295.50px;font-size:9.6px;line-height:12px;color:#231f20;font-weight:500;letter-spacing:0.2px;-webkit-text-stroke:0.22px currentColor;"><span style="letter-spacing:1.900em">样</span>品：</div>
<div class="t" style="left:708.00px;top:295.50px;font-size:9.6px;line-height:12px;color:#231f20;font-weight:500;letter-spacing:0.2px;-webkit-text-stroke:0.22px currentColor;">单克隆抗体</div>
<div class="t" style="left:214.00px;top:453.70px;font-size:9.6px;line-height:12px;color:#231f20;font-weight:500;-webkit-text-stroke:0.22px currentColor;">&lt; 分析条件 2 &gt;</div>
<div class="t" style="left:214.00px;top:466.30px;font-size:9.6px;line-height:12px;color:#231f20;font-weight:500;letter-spacing:-0.45px;-webkit-text-stroke:0.22px currentColor;"><span class="as">＊</span>分析条件与 &lt; 分析条件 1&gt; 相同</div>
<div class="t" style="left:605.50px;top:368.80px;font-size:9.6px;line-height:12px;color:#231f20;font-weight:500;-webkit-text-stroke:0.22px currentColor;">&lt; 分析条件 3&gt;</div>
<div class="t" style="left:605.50px;top:381.10px;font-size:9.6px;line-height:12px;color:#231f20;font-weight:500;-webkit-text-stroke:0.22px currentColor;">流动相 A：</div>
<div class="t" style="left:652.00px;top:381.10px;font-size:9.6px;line-height:12px;color:#231f20;font-weight:500;-webkit-text-stroke:0.22px currentColor;">50 mmol/L 柠檬酸盐缓冲液</div>
<div class="t" style="left:652.00px;top:393.30px;font-size:9.6px;line-height:12px;color:#231f20;font-weight:500;-webkit-text-stroke:0.22px currentColor;">+150 mmol/L NaCl（pH 6.5）</div>
<div class="t" style="left:636.50px;top:405.50px;font-size:9.6px;line-height:12px;color:#231f20;font-weight:500;-webkit-text-stroke:0.22px currentColor;">B：</div>
<div class="t" style="left:652.00px;top:405.50px;font-size:9.6px;line-height:12px;color:#231f20;font-weight:500;-webkit-text-stroke:0.22px currentColor;">50 mmol/L 柠檬酸盐缓冲液</div>
<div class="t" style="left:652.00px;top:417.80px;font-size:9.6px;line-height:12px;color:#231f20;font-weight:500;-webkit-text-stroke:0.22px currentColor;">+150 mmol/L NaCl（pH 4.5）</div>
<div class="t" style="left:605.50px;top:430.20px;font-size:9.6px;line-height:12px;color:#231f20;font-weight:500;-webkit-text-stroke:0.22px currentColor;"><span style="letter-spacing:1.900em">梯</span>度：</div>
<div class="t" style="left:652.00px;top:430.20px;font-size:9.6px;line-height:12px;color:#231f20;font-weight:500;-webkit-text-stroke:0.22px currentColor;">B 0-100%（7-25 min，线性）</div>
<div class="t" style="left:605.50px;top:442.50px;font-size:9.6px;line-height:12px;color:#231f20;font-weight:500;-webkit-text-stroke:0.22px currentColor;"><span style="letter-spacing:1.900em">温</span>度：</div>
<div class="t" style="left:652.00px;top:442.50px;font-size:9.6px;line-height:12px;color:#231f20;font-weight:500;-webkit-text-stroke:0.22px currentColor;">20 ℃</div>
<div class="t" style="left:605.50px;top:454.70px;font-size:9.6px;line-height:12px;color:#231f20;font-weight:500;-webkit-text-stroke:0.22px currentColor;"><span style="letter-spacing:1.900em">样</span>品：</div>
<div class="t" style="left:652.00px;top:454.70px;font-size:9.6px;line-height:12px;color:#231f20;font-weight:500;-webkit-text-stroke:0.22px currentColor;">CHO 细胞培养上清液</div>
<div class="t" style="left:651.10px;top:466.90px;font-size:9.6px;line-height:12px;color:#231f20;font-weight:500;-webkit-text-stroke:0.22px currentColor;"><span class="h">（</span>1<span style="margin-left:-1.2px">g/L</span><span class="h">、</span> mAb<span class="h">）、</span> 纯化后的 mAb</div>
<div class="t" style="left:605.50px;top:479.20px;font-size:9.6px;line-height:12px;color:#231f20;font-weight:500;-webkit-text-stroke:0.22px currentColor;"><span class="as">＊</span>样品经过滤后测定</div>
<div class="t" style="left:605.50px;top:491.20px;font-size:9.6px;line-height:12px;color:#231f20;font-weight:500;letter-spacing:-0.25px;-webkit-text-stroke:0.22px currentColor;"><span class="as">＊</span>其他分析条件均与 &lt; 分析条件 1&gt; 相同</div>
<div class="t" style="left:44.00px;top:776.50px;font-size:9.6px;line-height:12px;color:#231f20;font-weight:500;letter-spacing:0.2px;-webkit-text-stroke:0.22px currentColor;">&lt; 分析条件 4&gt;</div>
<div class="t" style="left:44.00px;top:788.30px;font-size:9.6px;line-height:12px;color:#231f20;font-weight:500;-webkit-text-stroke:0.22px currentColor;"><span style="letter-spacing:1.900em">样</span>品：</div>
<div class="t" style="left:91.30px;top:788.30px;font-size:9.6px;line-height:12px;color:#231f20;font-weight:500;letter-spacing:-0.1px;-webkit-text-stroke:0.22px currentColor;">市售抗体药物（2 个批次）</div>
<div class="t" style="left:44.00px;top:800.20px;font-size:9.6px;line-height:12px;color:#231f20;font-weight:500;letter-spacing:-0.2px;-webkit-text-stroke:0.22px currentColor;"><span class="as">＊</span>其他分析条件均与 &lt; 分析条件 1&gt; 相同</div>
<div class="t" style="left:605.50px;top:731.40px;font-size:9.6px;line-height:12px;color:#231f20;font-weight:500;letter-spacing:0.1px;-webkit-text-stroke:0.22px currentColor;">&lt; 分析条件 5&gt;</div>
<div class="t" style="left:605.50px;top:743.90px;font-size:9.6px;line-height:12px;color:#231f20;font-weight:500;-webkit-text-stroke:0.22px currentColor;"><span style="letter-spacing:1.800em">样</span>品：</div>
<div class="t" style="left:652.00px;top:743.90px;font-size:9.6px;line-height:12px;color:#231f20;font-weight:500;letter-spacing:0.1px;-webkit-text-stroke:0.22px currentColor;">mAb：5 µg</div>
<div class="t" style="left:605.50px;top:760.60px;font-size:9.45px;line-height:12px;color:#231f20;font-weight:500;-webkit-text-stroke:0.22px currentColor;"><span class="as">＊</span>采用经过一段时间培养后的 CHO 细胞</div>
<div class="t" style="left:613.90px;top:772.50px;font-size:9.45px;line-height:12px;color:#231f20;font-weight:500;letter-spacing:0.1px;-webkit-text-stroke:0.22px currentColor;">培养液，过滤后，经 Protein A 填料简</div>
<div class="t" style="left:613.90px;top:784.60px;font-size:9.45px;line-height:12px;color:#231f20;font-weight:500;-webkit-text-stroke:0.22px currentColor;">单纯化后测定</div>
<div class="t" style="left:605.50px;top:796.90px;font-size:9.45px;line-height:12px;color:#231f20;font-weight:500;letter-spacing:-0.06px;-webkit-text-stroke:0.22px currentColor;"><span class="as">＊</span>其他分析条件均与 &lt; 分析条件 1&gt; 相同</div>
</body>
</html>
